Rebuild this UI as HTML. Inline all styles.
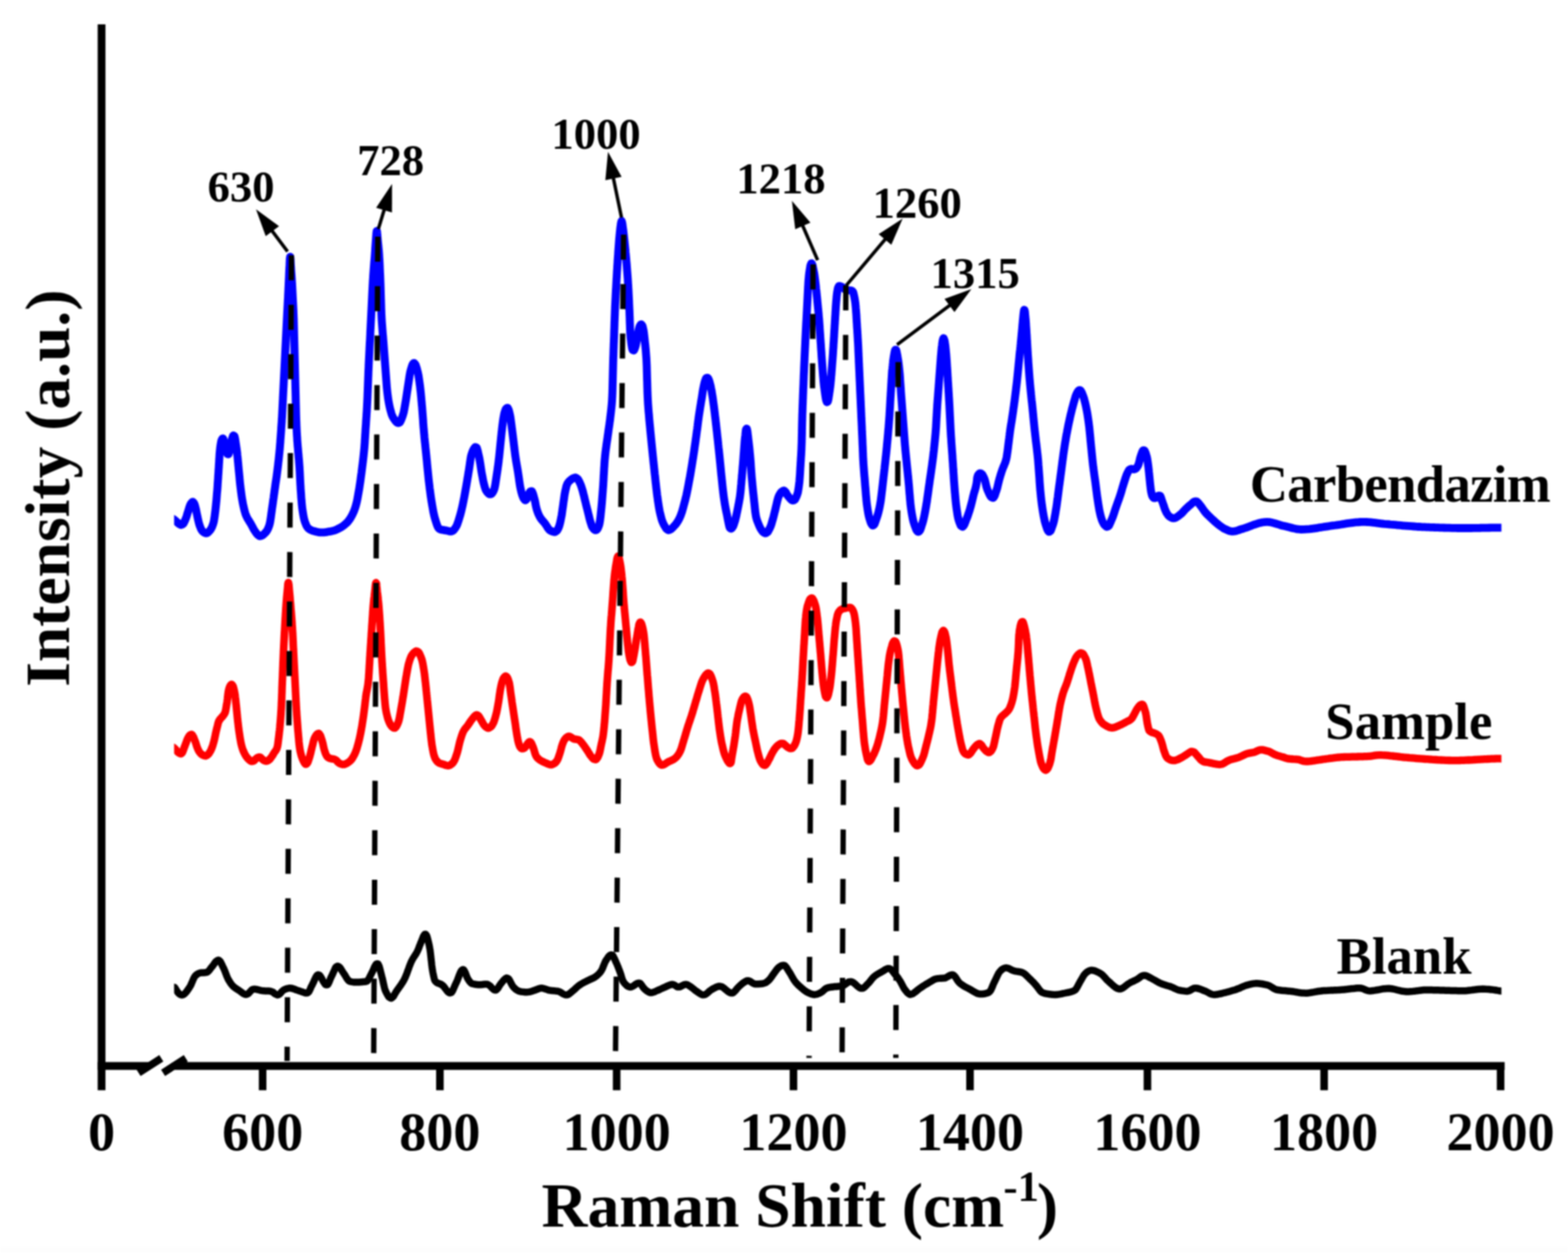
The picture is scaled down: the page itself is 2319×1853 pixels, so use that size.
<!DOCTYPE html>
<html lang="en">
<head>
<meta charset="utf-8">
<title>Raman spectra: Carbendazim, Sample, Blank</title>
<style>
html,body{margin:0;padding:0;background:#fff;}
body{width:2319px;height:1853px;overflow:hidden;}
svg{display:block;filter:blur(0.9px);}
text{font-family:"Liberation Serif","Times New Roman",serif;font-weight:bold;fill:#000;}
.c{fill:none;stroke-linejoin:round;stroke-linecap:butt;}
</style>
</head>
<body>
<svg width="2319" height="1853" viewBox="0 0 2319 1853">
<rect width="2319" height="1853" fill="#fff"/>
<rect x="0" y="1844" width="2319" height="9" fill="#fdfdfd"/>

<clipPath id="plotclip"><rect x="257.5" y="0" width="1963" height="1853"/></clipPath>
<g id="curves" clip-path="url(#plotclip)">
<path class="c" stroke="#0000ff" stroke-width="11.8" d="M243.8 766.7c1.2 0 2.4 0 3.7 0c1.3 0 2.8-0.1 4.1 0c1.3 0 2.7-0.1 3.9 0.3c1.1 0.4 2.1 1.4 3.1 2.3c1 0.8 2 1.8 3 2.7c1 0.9 2 1.9 3 2.6c1.1 0.7 2.4 1.8 3.5 1.8c1 0 2.1-0.9 3-1.8c0.8-0.9 1.3-2.4 1.9-3.6c0.6-1.2 1.2-2.4 1.6-3.7c0.5-1.2 0.9-2.5 1.4-3.7c0.4-1.3 0.7-2.6 1.1-3.9c0.4-1.2 0.8-2.5 1.2-3.8c0.4-1.3 0.8-2.5 1.2-3.8c0.4-1.3 0.7-2.6 1.2-3.8c0.5-1.3 1-2.7 1.7-3.7c0.8-1 1.8-2.4 2.7-2.4c0.8 0 1.6 1.4 2.2 2.5c0.6 1 0.9 2.6 1.3 3.8c0.3 1.3 0.7 2.6 1 3.9c0.3 1.3 0.6 2.6 0.8 3.9c0.3 1.3 0.5 2.6 0.8 3.9c0.3 1.4 0.6 2.7 0.8 4c0.3 1.3 0.6 2.6 0.9 3.9c0.3 1.3 0.6 2.6 0.9 3.9c0.3 1.3 0.7 2.5 1 3.8c0.4 1.3 0.9 2.6 1.4 3.8c0.5 1.2 0.9 2.5 1.6 3.6c0.7 1.2 1.5 2.3 2.5 3.2c1 0.8 2.2 1.9 3.4 2.1c1.1 0.2 2.5-0.2 3.6-0.8c1.1-0.6 2-1.8 2.8-2.8c0.9-1 1.7-2.1 2.3-3.3c0.7-1.1 1.2-2.4 1.7-3.6c0.5-1.3 0.9-2.5 1.3-3.8c0.4-1.3 0.7-2.6 1-3.9c0.2-1.3 0.4-2.6 0.6-3.9c0.3-1.4 0.4-2.7 0.6-4c0.2-1.3 0.3-2.6 0.5-4c0.2-1.3 0.3-2.6 0.5-3.9c0.1-1.4 0.3-2.7 0.4-4c0.2-1.3 0.3-2.7 0.4-4c0.2-1.3 0.3-2.6 0.4-4c0.2-1.3 0.3-2.6 0.4-4c0.1-1.3 0.2-2.6 0.3-3.9c0.1-1.4 0.2-2.7 0.3-4c0.1-1.4 0.2-2.7 0.4-4c0.1-1.3 0.2-2.7 0.3-4c0.1-1.3 0.2-2.7 0.3-4c0-1.3 0.1-2.7 0.2-4c0.1-1.3 0.2-2.6 0.3-4c0.1-1.3 0.2-2.6 0.3-4c0-1.3 0.1-2.6 0.2-4c0.1-1.3 0.2-2.6 0.3-4c0.1-1.3 0.1-2.6 0.2-3.9c0.1-1.4 0.2-2.7 0.3-4c0.1-1.4 0.1-2.7 0.2-4c0.1-1.4 0.2-2.7 0.3-4c0-1.4 0.1-2.7 0.2-4c0.1-1.3 0.2-2.7 0.3-4c0-1.3 0.1-2.7 0.2-4c0.1-1.3 0.3-2.7 0.4-4c0.1-1.3 0.3-2.6 0.4-4c0.2-1.3 0.3-2.6 0.5-3.9c0.2-1.3 0.4-2.7 0.7-4c0.2-1.3 0.5-2.9 1-4c0.4-1 1.2-2.5 1.8-2.4c0.6 0.1 1.2 1.8 1.6 3c0.5 1.2 0.7 2.7 1 4c0.3 1.3 0.6 2.6 0.9 3.9c0.4 1.3 0.8 2.6 1.1 3.8c0.3 1.3 0.6 2.6 0.9 4c0.3 1.3 0.6 3.2 1.1 3.9c0.5 0.8 1.3 1.1 1.8 0.6c0.5-0.6 0.8-2.6 1.2-3.9c0.3-1.3 0.5-2.6 0.7-3.9c0.3-1.4 0.5-2.7 0.8-4c0.3-1.3 0.7-2.6 1-3.9c0.3-1.2 0.6-2.5 0.9-3.8c0.3-1.3 0.5-2.7 0.9-4c0.4-1.3 0.8-3.2 1.3-3.8c0.5-0.5 1.4-0.1 1.9 0.7c0.5 0.8 0.7 2.7 1 4c0.2 1.3 0.4 2.7 0.6 4c0.2 1.3 0.4 2.6 0.6 3.9c0.2 1.3 0.4 2.7 0.6 4c0.2 1.3 0.4 2.6 0.6 3.9c0.1 1.4 0.3 2.7 0.5 4c0.2 1.3 0.3 2.7 0.4 4c0.2 1.3 0.3 2.6 0.4 4c0.2 1.3 0.3 2.6 0.4 3.9c0.1 1.4 0.2 2.7 0.4 4c0.1 1.4 0.2 2.7 0.3 4c0.2 1.3 0.3 2.7 0.4 4c0.1 1.3 0.3 2.7 0.4 4c0.1 1.3 0.3 2.6 0.4 4c0.1 1.3 0.2 2.6 0.4 3.9c0.1 1.4 0.2 2.7 0.3 4c0.2 1.4 0.3 2.7 0.4 4c0.1 1.3 0.3 2.7 0.4 4c0.2 1.3 0.3 2.6 0.5 4c0.1 1.3 0.3 2.6 0.5 3.9c0.1 1.4 0.3 2.7 0.5 4c0.2 1.3 0.3 2.6 0.5 4c0.2 1.3 0.4 2.6 0.6 3.9c0.2 1.3 0.4 2.7 0.7 4c0.2 1.3 0.4 2.6 0.7 3.9c0.2 1.3 0.5 2.6 0.8 3.9c0.3 1.3 0.6 2.6 0.9 3.9c0.3 1.3 0.6 2.6 1 3.9c0.3 1.3 0.7 2.6 1.1 3.8c0.5 1.3 0.9 2.5 1.5 3.8c0.5 1.2 1.1 2.4 1.8 3.5c0.6 1.2 1.4 2.3 2.1 3.4c0.7 1.1 1.5 2.2 2.1 3.4c0.7 1.1 1.3 2.3 2 3.5c0.6 1.2 1.2 2.4 1.8 3.5c0.6 1.2 1.3 2.4 2 3.5c0.7 1.1 1.5 2.2 2.3 3.3c0.8 1.1 1.6 2.2 2.5 3.1c1 0.9 2.1 1.9 3.3 2.1c1.1 0.1 2.5-0.5 3.6-1.1c1.2-0.6 2.1-1.7 3.1-2.7c0.9-0.9 1.9-1.9 2.7-2.9c0.8-1.1 1.5-2.2 2.1-3.4c0.6-1.2 1.1-2.4 1.6-3.7c0.5-1.2 0.9-2.5 1.2-3.8c0.4-1.3 0.6-2.6 0.9-3.9c0.2-1.3 0.4-2.6 0.6-3.9c0.2-1.4 0.4-2.7 0.6-4c0.2-1.3 0.3-2.6 0.5-4c0.2-1.3 0.4-2.6 0.6-3.9c0.1-1.3 0.3-2.7 0.5-4c0.2-1.3 0.4-2.6 0.6-3.9c0.2-1.4 0.4-2.7 0.6-4c0.1-1.3 0.3-2.6 0.5-4c0.2-1.3 0.4-2.6 0.6-3.9c0.1-1.3 0.3-2.7 0.5-4c0.2-1.3 0.4-2.6 0.6-3.9c0.1-1.4 0.3-2.7 0.5-4c0.2-1.3 0.4-2.7 0.6-4c0.1-1.3 0.3-2.6 0.5-3.9c0.2-1.3 0.4-2.7 0.6-4c0.2-1.3 0.4-2.6 0.6-3.9c0.2-1.4 0.4-2.7 0.6-4c0.1-1.3 0.3-2.6 0.5-4c0.2-1.3 0.3-2.6 0.5-3.9c0.2-1.4 0.3-2.7 0.5-4c0.2-1.3 0.3-2.7 0.5-4c0.1-1.3 0.3-2.6 0.4-4c0.2-1.3 0.3-2.6 0.5-3.9c0.1-1.4 0.3-2.7 0.4-4c0.1-1.3 0.3-2.7 0.4-4c0.1-1.3 0.3-2.6 0.4-4c0.1-1.3 0.2-2.6 0.4-3.9c0.1-1.4 0.2-2.7 0.3-4c0.1-1.4 0.2-2.7 0.3-4c0.2-1.3 0.3-2.7 0.3-4c0.1-1.3 0.2-2.7 0.3-4c0.1-1.3 0.2-2.7 0.3-4c0.1-1.3 0.2-2.6 0.3-4c0.1-1.3 0.2-2.6 0.3-4c0.1-1.3 0.1-2.6 0.2-4c0.1-1.3 0.2-2.6 0.3-3.9c0.1-1.4 0.2-2.7 0.3-4c0.1-1.4 0.2-2.7 0.2-4c0.1-1.4 0.2-2.7 0.3-4c0.1-1.4 0.1-2.7 0.2-4c0.1-1.3 0.1-2.7 0.2-4c0.1-1.3 0.1-2.7 0.2-4c0.1-1.3 0.1-2.7 0.2-4c0.1-1.3 0.1-2.7 0.2-4c0.1-1.3 0.1-2.7 0.2-4c0.1-1.3 0.1-2.7 0.2-4c0-1.3 0.1-2.7 0.2-4c0-1.3 0.1-2.6 0.2-4c0-1.3 0.1-2.6 0.2-4c0-1.3 0.1-2.6 0.2-4c0-1.3 0.1-2.6 0.2-4c0-1.3 0.1-2.6 0.2-4c0-1.3 0.1-2.6 0.2-4c0-1.3 0.1-2.6 0.2-3.9c0-1.4 0.1-2.7 0.2-4c0-1.4 0.1-2.7 0.2-4c0-1.4 0.1-2.7 0.2-4c0-1.4 0.1-2.7 0.2-4c0-1.4 0.1-2.7 0.2-4c0-1.4 0.1-2.7 0.2-4c0-1.4 0.1-2.7 0.2-4c0-1.3 0.1-2.7 0.2-4c0-1.3 0.1-2.7 0.2-4c0-1.3 0.1-2.7 0.2-4c0-1.3 0.1-2.7 0.2-4c0-1.3 0.1-2.7 0.2-4c0-1.3 0.1-2.7 0.2-4c0-1.3 0.1-2.6 0.2-4c0-1.3 0.1-2.6 0.2-4c0-1.3 0.1-2.6 0.2-4c0-1.3 0.1-2.6 0.2-4c0-1.3 0.1-2.6 0.2-4c0-1.3 0.1-2.6 0.2-4c0-1.3 0.1-2.6 0.2-4c0-1.3 0.1-2.6 0.2-3.9c0-1.4 0.1-2.7 0.2-4c0-1.4 0.1-2.7 0.2-4c0-1.4 0.1-2.7 0.2-4c0.1-1.4 0.1-2.7 0.2-4c0.1-1.4 0.1-2.7 0.2-4c0.1-1.3 0.2-2.7 0.2-4c0.1-1.3 0.2-2.7 0.2-4c0.1-1.3 0.2-2.7 0.3-4c0-1.3 0.1-2.7 0.1-4c0.1-1.3 0.2-2.7 0.2-4c0.1-1.3 0.2-2.7 0.2-4c0.1-1.3 0.1-2.7 0.2-4c0.1-1.3 0.1-2.6 0.2-4c0-1.3 0.1-2.6 0.2-4c0-1.3 0.1-2.6 0.2-4c0-1.3 0.1-2.6 0.2-4c0-1.3 0.1-2.6 0.1-4c0.1-1.3 0.2-2.6 0.2-4c0.1-1.3 0.2-2.6 0.2-3.9c0.1-1.4 0.2-2.7 0.3-4c0-1.4 0.1-2.7 0.1-4c0.1-1.4 0.2-2.7 0.2-4.1c0.1-1.3 0.1-3.3 0.3-4.1c0.1-0.8 0.3-1.1 0.4-0.6c0.2 0.6 0.3 2.7 0.4 4.1c0 1.3 0.1 2.6 0.2 4c0 1.3 0.1 2.7 0.2 4c0.1 1.3 0.2 2.6 0.3 4c0 1.3 0.1 2.6 0.2 4c0.1 1.3 0.2 2.6 0.3 4c0.1 1.3 0.2 2.6 0.3 3.9c0.1 1.4 0.2 2.7 0.3 4c0.1 1.4 0.1 2.7 0.2 4c0.1 1.4 0.2 2.7 0.2 4c0.1 1.4 0.2 2.7 0.3 4c0 1.3 0.1 2.7 0.2 4c0 1.3 0.1 2.7 0.2 4c0 1.3 0.1 2.7 0.2 4c0 1.3 0.1 2.7 0.2 4c0 1.3 0.1 2.7 0.2 4c0 1.3 0.1 2.7 0.2 4c0.1 1.3 0.1 2.6 0.2 4c0.1 1.3 0.1 2.6 0.2 4c0.1 1.3 0.1 2.6 0.2 4c0 1.3 0.1 2.6 0.1 4c0.1 1.3 0.1 2.6 0.2 4c0 1.3 0.1 2.6 0.1 4c0.1 1.3 0.1 2.6 0.1 4c0.1 1.3 0.1 2.6 0.1 4c0.1 1.3 0.1 2.6 0.1 4c0.1 1.3 0.1 2.6 0.1 4c0.1 1.3 0.1 2.6 0.1 4c0 1.3 0.1 2.6 0.1 4c0 1.3 0.1 2.6 0.1 4c0 1.3 0.1 2.6 0.1 4c0 1.3 0.1 2.6 0.1 3.9c0 1.4 0.1 2.7 0.1 4c0 1.4 0.1 2.7 0.1 4c0 1.4 0.1 2.7 0.1 4c0 1.4 0.1 2.7 0.1 4c0 1.4 0.1 2.7 0.1 4c0 1.4 0.1 2.7 0.1 4c0 1.4 0.1 2.7 0.1 4c0 1.4 0.1 2.7 0.1 4c0 1.4 0.1 2.7 0.1 4c0 1.4 0.1 2.7 0.1 4c0 1.4 0.1 2.7 0.1 4c0 1.4 0.1 2.7 0.1 4c0 1.4 0.1 2.7 0.1 4c0 1.4 0.1 2.7 0.1 4c0 1.4 0.1 2.7 0.1 4c0 1.4 0.1 2.7 0.1 4c0 1.4 0.1 2.7 0.1 4c0 1.4 0.1 2.7 0.1 4c0 1.4 0.1 2.7 0.1 4c0 1.4 0.1 2.7 0.1 4c0 1.4 0 2.7 0.1 4c0 1.4 0 2.7 0.1 4c0 1.4 0 2.7 0.1 4c0 1.4 0 2.7 0.1 4c0 1.4 0 2.7 0.1 4c0 1.4 0 2.7 0.1 4c0 1.4 0 2.7 0.1 4c0 1.3 0.1 2.7 0.1 4c0.1 1.3 0.1 2.7 0.2 4c0 1.3 0.1 2.7 0.1 4c0.1 1.3 0.1 2.7 0.2 4c0 1.3 0.1 2.7 0.2 4c0 1.3 0.1 2.7 0.2 4c0.1 1.3 0.1 2.7 0.2 4c0.1 1.3 0.2 2.6 0.3 4c0 1.3 0.1 2.6 0.2 4c0.1 1.3 0.2 2.6 0.3 4c0.1 1.3 0.2 2.6 0.3 3.9c0.1 1.4 0.3 2.7 0.4 4c0.1 1.4 0.2 2.7 0.3 4c0.1 1.3 0.3 2.7 0.4 4c0.1 1.3 0.2 2.7 0.3 4c0.1 1.3 0.3 2.6 0.4 4c0.1 1.3 0.2 2.6 0.3 4c0.1 1.3 0.2 2.6 0.3 3.9c0.1 1.4 0.2 2.7 0.3 4c0.1 1.4 0.1 2.7 0.2 4c0.1 1.4 0.2 2.7 0.2 4c0.1 1.4 0.2 2.7 0.2 4c0.1 1.4 0.2 2.7 0.2 4c0.1 1.3 0.2 2.7 0.2 4c0.1 1.3 0.2 2.7 0.2 4c0.1 1.3 0.2 2.7 0.3 4c0 1.3 0.1 2.7 0.2 4c0.1 1.3 0.2 2.7 0.3 4c0.1 1.3 0.2 2.6 0.3 4c0.1 1.3 0.1 2.6 0.2 4c0.1 1.3 0.2 2.6 0.4 3.9c0.1 1.4 0.2 2.7 0.3 4c0.1 1.4 0.2 2.7 0.4 4c0.1 1.3 0.3 2.7 0.4 4c0.2 1.3 0.4 2.6 0.6 4c0.2 1.3 0.4 2.6 0.6 3.9c0.2 1.3 0.4 2.6 0.7 3.9c0.2 1.4 0.5 2.7 0.8 4c0.3 1.3 0.7 2.5 1.1 3.8c0.4 1.3 0.9 2.5 1.4 3.8c0.5 1.2 1 2.5 1.7 3.6c0.7 1.1 1.5 2.2 2.4 3.1c1 0.9 2.2 1.6 3.4 2.1c1.2 0.6 2.5 1 3.7 1.4c1.3 0.4 2.6 0.8 3.9 1.1c1.3 0.3 2.6 0.6 3.9 0.8c1.3 0.2 2.7 0.3 4 0.3c1.3 0.1 2.7 0 4-0.1c1.3-0.1 2.7-0.3 4-0.5c1.3-0.2 2.6-0.4 3.9-0.7c1.3-0.2 2.6-0.4 3.9-0.8c1.3-0.3 2.6-0.6 3.9-1c1.2-0.5 2.5-1 3.7-1.6c1.2-0.5 2.4-1.1 3.6-1.8c1.1-0.6 2.3-1.2 3.4-1.9c1.2-0.8 2.3-1.5 3.3-2.3c1-0.9 2.1-1.7 3-2.7c1-0.9 1.9-1.8 2.8-2.8c0.8-1.1 1.6-2.1 2.4-3.2c0.8-1.1 1.5-2.3 2.1-3.4c0.7-1.2 1.3-2.3 1.9-3.5c0.6-1.2 1.2-2.4 1.7-3.6c0.6-1.3 1.1-2.5 1.5-3.8c0.5-1.2 0.9-2.5 1.3-3.8c0.4-1.2 0.8-2.5 1.1-3.8c0.4-1.3 0.7-2.6 1-3.9c0.3-1.3 0.5-2.6 0.8-3.9c0.3-1.3 0.5-2.6 0.7-3.9c0.3-1.3 0.5-2.6 0.7-4c0.3-1.3 0.5-2.6 0.7-3.9c0.2-1.3 0.5-2.6 0.7-3.9c0.2-1.4 0.4-2.7 0.6-4c0.2-1.3 0.4-2.6 0.6-3.9c0.2-1.4 0.4-2.7 0.6-4c0.2-1.3 0.3-2.6 0.5-4c0.2-1.3 0.4-2.6 0.5-3.9c0.2-1.4 0.4-2.7 0.6-4c0.1-1.3 0.3-2.6 0.5-4c0.1-1.3 0.3-2.6 0.5-3.9c0.1-1.4 0.3-2.7 0.5-4c0.1-1.3 0.3-2.7 0.5-4c0.1-1.3 0.3-2.6 0.4-3.9c0.2-1.4 0.3-2.7 0.5-4c0.1-1.3 0.3-2.7 0.4-4c0.1-1.3 0.3-2.7 0.4-4c0.1-1.3 0.3-2.6 0.4-4c0.1-1.3 0.2-2.6 0.3-4c0.1-1.3 0.2-2.6 0.3-3.9c0.1-1.4 0.2-2.7 0.2-4c0.1-1.4 0.2-2.7 0.3-4c0.1-1.4 0.1-2.7 0.2-4c0.1-1.3 0.2-2.7 0.3-4c0.1-1.3 0.1-2.7 0.2-4c0.1-1.3 0.2-2.7 0.3-4c0.1-1.3 0.2-2.7 0.3-4c0.1-1.3 0.1-2.6 0.2-4c0.1-1.3 0.2-2.6 0.3-4c0.1-1.3 0.2-2.6 0.3-4c0-1.3 0.1-2.6 0.2-3.9c0.1-1.4 0.2-2.7 0.3-4c0-1.4 0.1-2.7 0.2-4c0.1-1.4 0.1-2.7 0.2-4c0.1-1.4 0.1-2.7 0.2-4c0.1-1.4 0.1-2.7 0.2-4c0-1.4 0.1-2.7 0.2-4c0-1.3 0.1-2.7 0.1-4c0.1-1.3 0.1-2.7 0.2-4c0-1.3 0.1-2.7 0.1-4c0.1-1.3 0.1-2.7 0.2-4c0-1.3 0.1-2.7 0.1-4c0.1-1.3 0.1-2.7 0.2-4c0-1.3 0.1-2.7 0.1-4c0.1-1.3 0.1-2.7 0.2-4c0-1.3 0.1-2.7 0.1-4c0.1-1.3 0.1-2.7 0.2-4c0-1.3 0.1-2.7 0.2-4c0-1.3 0.1-2.6 0.1-4c0.1-1.3 0.2-2.6 0.2-4c0.1-1.3 0.2-2.6 0.2-4c0.1-1.3 0.2-2.6 0.2-4c0.1-1.3 0.2-2.6 0.2-4c0.1-1.3 0.2-2.6 0.2-4c0.1-1.3 0.2-2.6 0.2-3.9c0.1-1.4 0.2-2.7 0.2-4c0.1-1.4 0.2-2.7 0.2-4c0.1-1.4 0.2-2.7 0.3-4c0-1.4 0.1-2.7 0.2-4c0-1.4 0.1-2.7 0.2-4c0-1.4 0.1-2.7 0.1-4c0.1-1.4 0.2-2.7 0.2-4c0.1-1.3 0.2-2.7 0.2-4c0.1-1.3 0.2-2.7 0.2-4c0.1-1.3 0.2-2.7 0.2-4c0.1-1.3 0.2-2.7 0.2-4c0.1-1.3 0.2-2.7 0.2-4c0.1-1.3 0.2-2.7 0.2-4c0.1-1.3 0.2-2.6 0.2-4c0.1-1.3 0.2-2.6 0.2-4c0.1-1.3 0.2-2.6 0.2-4c0.1-1.3 0.1-2.6 0.2-4c0.1-1.3 0.1-2.6 0.2-4c0.1-1.3 0.1-2.6 0.2-4c0-1.3 0.1-2.6 0.2-4c0-1.3 0.1-2.6 0.2-3.9c0-1.4 0.1-2.7 0.2-4c0-1.4 0.1-2.7 0.2-4c0-1.4 0.1-2.7 0.2-4c0.1-1.4 0.1-2.7 0.2-4c0.1-1.4 0.2-2.7 0.3-4c0.1-1.3 0.1-2.7 0.2-4c0.1-1.3 0.2-2.7 0.3-4c0.1-1.3 0.2-2.7 0.3-4c0.1-1.3 0.2-2.6 0.3-4c0.1-1.3 0.2-2.6 0.3-4c0.1-1.3 0.2-2.6 0.3-4c0.1-1.3 0.3-2.6 0.4-3.9c0.1-1.4 0.2-2.7 0.3-4c0.1-1.4 0.2-2.7 0.3-4c0.1-1.3 0.2-2.7 0.3-4c0.1-1.3 0.1-2.7 0.2-4c0.1-1.3 0.2-2.7 0.3-4c0.1-1.3 0.2-2.6 0.3-4c0.1-1.3 0.2-2.6 0.3-4c0.1-1.3 0.2-2.6 0.3-4c0.1-1.3 0.2-2.6 0.3-4c0.1-1.3 0.1-3.1 0.3-4.1c0.1-1 0.4-2.2 0.6-1.9c0.2 0.3 0.4 2.3 0.5 3.6c0.2 1.2 0.2 2.7 0.3 4c0.1 1.4 0.2 2.7 0.3 4c0.2 1.3 0.3 2.7 0.4 4c0.1 1.3 0.3 2.7 0.4 4c0.1 1.3 0.3 2.6 0.4 4c0.1 1.3 0.2 2.6 0.4 3.9c0.1 1.4 0.2 2.7 0.3 4c0.1 1.4 0.2 2.7 0.3 4c0.1 1.4 0.1 2.7 0.2 4c0.1 1.3 0.2 2.7 0.3 4c0 1.3 0.1 2.7 0.2 4c0 1.3 0.1 2.7 0.2 4c0 1.3 0.1 2.7 0.1 4c0.1 1.3 0.2 2.7 0.2 4c0.1 1.3 0.1 2.7 0.2 4c0.1 1.3 0.1 2.6 0.2 4c0 1.3 0.1 2.6 0.1 4c0.1 1.3 0.1 2.6 0.2 4c0 1.3 0.1 2.6 0.1 4c0.1 1.3 0.1 2.6 0.2 4c0 1.3 0 2.6 0.1 4c0 1.3 0.1 2.6 0.1 4c0 1.3 0.1 2.6 0.1 4c0.1 1.3 0.1 2.6 0.1 4c0.1 1.3 0.1 2.6 0.2 4c0 1.3 0 2.6 0.1 4c0 1.3 0.1 2.6 0.1 4c0 1.3 0.1 2.6 0.1 4c0.1 1.3 0.1 2.6 0.2 4c0 1.3 0.1 2.6 0.1 3.9c0.1 1.4 0.2 2.7 0.2 4c0.1 1.4 0.2 2.7 0.2 4c0.1 1.4 0.2 2.7 0.3 4c0.1 1.4 0.2 2.7 0.3 4c0.1 1.4 0.2 2.7 0.3 4c0.1 1.3 0.2 2.7 0.3 4c0.1 1.3 0.2 2.7 0.3 4c0.1 1.3 0.2 2.6 0.4 4c0.1 1.3 0.2 2.6 0.3 4c0.1 1.3 0.2 2.6 0.3 3.9c0.1 1.4 0.2 2.7 0.3 4c0.1 1.4 0.2 2.7 0.3 4c0.1 1.3 0.2 2.7 0.3 4c0.1 1.3 0.2 2.7 0.3 4c0.1 1.3 0.2 2.7 0.3 4c0.1 1.3 0.2 2.6 0.3 4c0.1 1.3 0.2 2.6 0.3 4c0.1 1.3 0.2 2.6 0.3 4c0.1 1.3 0.2 2.6 0.3 3.9c0.1 1.4 0.2 2.7 0.3 4c0.1 1.4 0.2 2.7 0.3 4c0.1 1.3 0.2 2.7 0.3 4c0.1 1.3 0.2 2.7 0.3 4c0.1 1.3 0.2 2.7 0.3 4c0.1 1.3 0.2 2.6 0.3 4c0.1 1.3 0.2 2.6 0.3 4c0.1 1.3 0.2 2.6 0.3 3.9c0.1 1.4 0.3 2.7 0.4 4c0.1 1.4 0.3 2.7 0.4 4c0.2 1.3 0.3 2.7 0.5 4c0.2 1.3 0.3 2.6 0.5 3.9c0.2 1.4 0.4 2.7 0.6 4c0.2 1.3 0.5 2.6 0.7 3.9c0.3 1.3 0.5 2.7 0.8 4c0.3 1.3 0.6 2.6 0.9 3.9c0.3 1.2 0.7 2.5 1 3.8c0.4 1.3 0.7 2.6 1.1 3.9c0.5 1.2 0.9 2.5 1.5 3.7c0.5 1.2 1.2 2.3 2 3.5c0.7 1.1 1.4 2.3 2.3 3.3c0.8 1 1.9 2.3 2.9 2.7c1.1 0.4 2.5 0.2 3.4-0.4c0.9-0.7 1.4-2.3 2-3.5c0.6-1.2 1-2.5 1.5-3.7c0.4-1.3 0.9-2.5 1.3-3.8c0.4-1.3 0.8-2.5 1.1-3.8c0.3-1.3 0.5-2.6 0.8-4c0.2-1.3 0.5-2.6 0.7-3.9c0.2-1.3 0.5-2.6 0.7-3.9c0.2-1.3 0.4-2.7 0.7-4c0.2-1.3 0.4-2.6 0.6-3.9c0.2-1.3 0.4-2.6 0.6-4c0.2-1.3 0.4-2.6 0.6-3.9c0.2-1.3 0.4-2.7 0.6-4c0.2-1.3 0.4-2.6 0.6-3.9c0.2-1.4 0.4-2.7 0.6-4c0.2-1.3 0.4-2.6 0.6-3.9c0.2-1.4 0.4-2.7 0.6-4c0.2-1.3 0.4-2.6 0.6-4c0.2-1.3 0.4-2.6 0.6-3.9c0.2-1.3 0.5-2.6 0.7-3.9c0.3-1.3 0.7-2.6 1-3.9c0.4-1.3 0.7-2.6 1.2-3.9c0.4-1.2 0.7-2.8 1.3-3.8c0.6-1.1 1.6-2.4 2.3-2.3c0.8 0.1 1.7 1.7 2.3 2.8c0.5 1.1 0.9 2.6 1.3 3.9c0.4 1.3 0.8 2.5 1.1 3.8c0.4 1.3 0.7 2.6 1 3.9c0.3 1.3 0.5 2.6 0.8 3.9c0.2 1.3 0.4 2.6 0.6 4c0.2 1.3 0.4 2.6 0.6 3.9c0.2 1.3 0.4 2.7 0.5 4c0.2 1.3 0.4 2.6 0.6 3.9c0.1 1.4 0.3 2.7 0.4 4c0.2 1.3 0.3 2.7 0.5 4c0.1 1.3 0.3 2.6 0.4 4c0.1 1.3 0.2 2.6 0.4 4c0.1 1.3 0.2 2.6 0.3 3.9c0.1 1.4 0.3 2.7 0.4 4c0.1 1.3 0.2 2.7 0.3 4c0.2 1.3 0.3 2.7 0.4 4c0.1 1.3 0.2 2.6 0.3 4c0.1 1.3 0.2 2.6 0.3 4c0.1 1.3 0.2 2.6 0.3 4c0.1 1.3 0.2 2.6 0.3 3.9c0.1 1.4 0.2 2.7 0.3 4c0 1.4 0.1 2.7 0.2 4c0.1 1.4 0.2 2.7 0.3 4c0.1 1.3 0.2 2.7 0.4 4c0.1 1.3 0.2 2.7 0.3 4c0.1 1.3 0.2 2.6 0.4 4c0.1 1.3 0.2 2.6 0.3 4c0.2 1.3 0.3 2.6 0.4 3.9c0.1 1.4 0.3 2.7 0.4 4c0.2 1.3 0.3 2.7 0.4 4c0.2 1.3 0.3 2.6 0.4 4c0.2 1.3 0.3 2.6 0.5 4c0.1 1.3 0.2 2.6 0.4 3.9c0.1 1.4 0.2 2.7 0.4 4c0.1 1.3 0.2 2.7 0.4 4c0.1 1.3 0.2 2.6 0.4 4c0.1 1.3 0.2 2.6 0.3 4c0.2 1.3 0.3 2.6 0.4 3.9c0.1 1.4 0.3 2.7 0.4 4c0.1 1.3 0.3 2.7 0.4 4c0.1 1.3 0.3 2.7 0.4 4c0.1 1.3 0.3 2.6 0.4 4c0.1 1.3 0.3 2.6 0.4 3.9c0.2 1.4 0.3 2.7 0.5 4c0.1 1.3 0.3 2.7 0.5 4c0.1 1.3 0.3 2.6 0.4 3.9c0.2 1.4 0.4 2.7 0.6 4c0.1 1.3 0.3 2.7 0.5 4c0.2 1.3 0.3 2.6 0.5 3.9c0.2 1.4 0.4 2.7 0.6 4c0.2 1.3 0.4 2.6 0.6 3.9c0.3 1.4 0.5 2.7 0.7 4c0.2 1.3 0.4 2.6 0.7 3.9c0.2 1.4 0.4 2.7 0.7 4c0.2 1.3 0.4 2.6 0.7 3.9c0.3 1.3 0.6 2.6 0.9 3.9c0.3 1.3 0.6 2.6 1 3.9c0.4 1.3 0.7 2.5 1.1 3.8c0.4 1.3 0.8 2.6 1.2 3.8c0.4 1.3 0.8 2.6 1.3 3.8c0.5 1.3 1 2.7 1.8 3.6c0.8 1 1.9 1.8 3 2.3c1.2 0.5 2.7 0.5 4 0.7c1.3 0.3 2.6 0.4 3.9 0.7c1.3 0.2 2.6 0.7 3.9 0.9c1.3 0.3 2.8 0.8 4 0.6c1.2-0.2 2.4-0.8 3.4-1.6c1-0.8 1.8-2 2.5-3.1c0.8-1.1 1.5-2.3 2.1-3.4c0.6-1.2 1.1-2.5 1.5-3.7c0.5-1.3 0.9-2.6 1.3-3.8c0.4-1.3 0.8-2.6 1.2-3.9c0.4-1.2 0.8-2.5 1.2-3.8c0.3-1.3 0.7-2.6 1-3.8c0.4-1.3 0.7-2.6 1-3.9c0.3-1.3 0.6-2.6 0.9-3.9c0.3-1.3 0.6-2.6 0.9-3.9c0.3-1.3 0.5-2.6 0.8-3.9c0.3-1.3 0.6-2.6 0.8-4c0.3-1.3 0.5-2.6 0.8-3.9c0.2-1.3 0.5-2.6 0.7-3.9c0.3-1.3 0.5-2.6 0.7-3.9c0.3-1.4 0.5-2.7 0.7-4c0.3-1.3 0.5-2.6 0.7-3.9c0.3-1.3 0.5-2.6 0.7-4c0.2-1.3 0.5-2.6 0.7-3.9c0.2-1.3 0.4-2.6 0.6-4c0.2-1.3 0.5-2.6 0.7-3.9c0.2-1.3 0.4-2.6 0.6-3.9c0.2-1.4 0.5-2.7 0.7-4c0.2-1.3 0.4-2.6 0.6-3.9c0.2-1.4 0.4-2.7 0.6-4c0.2-1.3 0.4-2.6 0.6-4c0.1-1.3 0.3-2.6 0.5-3.9c0.2-1.3 0.4-2.7 0.7-4c0.2-1.3 0.5-2.6 0.9-3.9c0.4-1.2 0.8-2.5 1.3-3.7c0.5-1.3 0.9-2.6 1.6-3.8c0.6-1.1 1.4-2.8 2.2-3.3c0.8-0.4 2 0 2.7 0.8c0.6 0.7 0.8 2.6 1.2 3.9c0.4 1.3 0.6 2.6 0.9 3.9c0.3 1.3 0.6 2.6 0.9 3.9c0.3 1.3 0.6 2.6 0.8 3.9c0.3 1.3 0.5 2.6 0.7 3.9c0.3 1.3 0.5 2.7 0.7 4c0.2 1.3 0.4 2.6 0.6 3.9c0.2 1.3 0.4 2.7 0.6 4c0.2 1.3 0.4 2.6 0.6 3.9c0.3 1.3 0.5 2.6 0.7 4c0.3 1.3 0.5 2.6 0.8 3.9c0.2 1.3 0.4 2.6 0.7 3.9c0.3 1.3 0.5 2.6 0.8 3.9c0.3 1.3 0.6 2.6 1 3.9c0.3 1.3 0.7 2.6 1.1 3.9c0.4 1.2 0.8 2.5 1.3 3.7c0.6 1.2 1.3 2.4 2.2 3.4c0.8 1 1.9 2.3 3 2.6c1.1 0.3 2.5 0 3.5-0.6c0.9-0.7 1.6-2.2 2.3-3.3c0.6-1.2 1.1-2.4 1.6-3.7c0.4-1.3 0.7-2.6 0.9-3.9c0.3-1.3 0.5-2.6 0.7-3.9c0.2-1.3 0.4-2.7 0.6-4c0.2-1.3 0.4-2.6 0.6-3.9c0.2-1.3 0.4-2.7 0.6-4c0.2-1.3 0.4-2.6 0.6-3.9c0.2-1.4 0.4-2.7 0.6-4c0.2-1.3 0.4-2.6 0.5-4c0.2-1.3 0.4-2.6 0.6-3.9c0.1-1.3 0.3-2.7 0.5-4c0.1-1.3 0.3-2.6 0.4-4c0.2-1.3 0.4-2.6 0.5-3.9c0.2-1.4 0.3-2.7 0.4-4c0.2-1.3 0.3-2.7 0.4-4c0.2-1.3 0.3-2.6 0.4-4c0.2-1.3 0.3-2.6 0.4-4c0.1-1.3 0.3-2.6 0.4-3.9c0.1-1.4 0.3-2.7 0.4-4c0.1-1.3 0.3-2.7 0.4-4c0.1-1.3 0.3-2.6 0.4-4c0.2-1.3 0.3-2.6 0.4-3.9c0.2-1.4 0.3-2.7 0.5-4c0.1-1.4 0.3-2.7 0.4-4c0.2-1.3 0.3-2.6 0.5-4c0.2-1.3 0.4-2.6 0.5-3.9c0.2-1.4 0.4-2.7 0.6-4c0.2-1.3 0.4-2.6 0.7-3.9c0.2-1.4 0.4-2.7 0.7-4c0.3-1.3 0.6-2.6 1.1-3.8c0.4-1.3 0.9-3 1.6-3.8c0.7-0.9 1.8-1.7 2.5-1.3c0.6 0.4 1.1 2.3 1.6 3.5c0.4 1.2 0.7 2.6 1 3.9c0.3 1.3 0.6 2.6 0.9 3.9c0.3 1.3 0.5 2.6 0.7 4c0.2 1.3 0.3 2.6 0.5 3.9c0.2 1.3 0.4 2.7 0.5 4c0.2 1.3 0.4 2.6 0.6 4c0.1 1.3 0.3 2.6 0.5 3.9c0.2 1.3 0.3 2.7 0.5 4c0.2 1.3 0.3 2.6 0.5 4c0.2 1.3 0.3 2.6 0.5 3.9c0.1 1.4 0.3 2.7 0.5 4c0.1 1.3 0.3 2.6 0.5 4c0.1 1.3 0.3 2.6 0.4 3.9c0.2 1.4 0.4 2.7 0.5 4c0.2 1.3 0.3 2.7 0.5 4c0.2 1.3 0.3 2.6 0.5 4c0.2 1.3 0.3 2.6 0.5 3.9c0.2 1.3 0.4 2.7 0.6 4c0.2 1.3 0.4 2.6 0.6 3.9c0.2 1.3 0.5 2.7 0.7 4c0.2 1.3 0.4 2.6 0.7 3.9c0.2 1.3 0.4 2.6 0.7 4c0.2 1.3 0.4 2.6 0.6 3.9c0.2 1.3 0.4 2.6 0.6 4c0.2 1.3 0.4 2.6 0.6 3.9c0.2 1.3 0.4 2.7 0.5 4c0.2 1.3 0.4 2.6 0.6 3.9c0.2 1.4 0.4 2.7 0.6 4c0.2 1.3 0.5 2.6 0.7 3.9c0.3 1.3 0.6 2.6 0.9 3.9c0.3 1.3 0.6 2.6 1 3.9c0.3 1.3 0.7 2.6 1.1 3.8c0.5 1.3 1 2.6 1.6 3.8c0.7 1.1 1.5 2.8 2.3 3c0.8 0.3 1.7-0.7 2.4-1.6c0.6-0.9 1-2.6 1.5-3.8c0.6-1.3 1.1-2.5 1.7-3.7c0.6-1.2 1.1-2.9 1.9-3.6c0.7-0.7 1.9-1 2.6-0.5c0.7 0.6 1.1 2.4 1.6 3.7c0.5 1.2 0.8 2.6 1.2 3.8c0.3 1.3 0.7 2.6 1.1 3.9c0.3 1.3 0.6 2.6 0.9 3.9c0.3 1.3 0.5 2.6 0.7 3.9c0.3 1.3 0.5 2.6 0.8 3.9c0.3 1.3 0.6 2.6 1 3.9c0.4 1.3 0.8 2.5 1.3 3.8c0.4 1.2 0.9 2.5 1.5 3.7c0.5 1.2 1.1 2.4 1.8 3.6c0.6 1.1 1.4 2.2 2.2 3.3c0.8 1 1.8 2 2.6 3c0.9 1 1.8 2 2.6 3.1c0.8 1 1.5 2.2 2.2 3.3c0.8 1.1 1.4 2.3 2.1 3.4c0.8 1.1 1.6 2.2 2.6 3c1 0.8 2.3 1.5 3.5 2c1.2 0.5 2.7 1.1 3.8 1c1.2-0.1 2.4-0.7 3.3-1.6c0.9-0.8 1.5-2.3 2.1-3.4c0.6-1.2 1.1-2.5 1.5-3.7c0.5-1.3 0.8-2.6 1.1-3.9c0.4-1.3 0.6-2.6 0.9-3.9c0.3-1.3 0.6-2.6 0.8-3.9c0.3-1.3 0.5-2.6 0.8-3.9c0.2-1.3 0.4-2.7 0.6-4c0.2-1.3 0.4-2.6 0.5-3.9c0.2-1.4 0.4-2.7 0.6-4c0.2-1.3 0.4-2.6 0.6-4c0.1-1.3 0.3-2.6 0.5-3.9c0.2-1.3 0.4-2.7 0.6-4c0.2-1.3 0.3-2.6 0.5-3.9c0.2-1.4 0.4-2.7 0.6-4c0.3-1.3 0.5-2.6 0.8-3.9c0.2-1.3 0.5-2.6 0.9-3.9c0.3-1.3 0.5-2.6 0.9-3.9c0.4-1.3 0.8-2.6 1.4-3.8c0.6-1.1 1.4-2.2 2.3-3.2c0.9-1 1.9-1.8 3-2.6c1.1-0.8 2.2-1.7 3.4-2.2c1.2-0.6 2.6-1.2 3.7-1c1.1 0.2 2.1 1.3 3 2.2c0.8 1 1.4 2.3 2.1 3.5c0.6 1.2 1.2 2.3 1.7 3.6c0.6 1.2 1 2.5 1.4 3.7c0.4 1.3 0.8 2.6 1.2 3.8c0.4 1.3 0.8 2.6 1.1 3.9c0.4 1.3 0.7 2.6 1 3.9c0.4 1.2 0.7 2.5 1 3.8c0.3 1.3 0.6 2.6 0.9 3.9c0.3 1.3 0.6 2.6 1 3.9c0.3 1.3 0.6 2.6 0.9 3.9c0.4 1.3 0.7 2.6 1 3.9c0.3 1.3 0.7 2.6 1 3.9c0.3 1.3 0.6 2.5 0.9 3.8c0.3 1.3 0.6 2.6 1 3.9c0.3 1.3 0.6 2.6 0.9 3.9c0.3 1.3 0.7 2.6 1 3.9c0.4 1.3 0.8 2.5 1.2 3.8c0.4 1.3 0.7 2.6 1.2 3.8c0.5 1.3 1 2.5 1.8 3.6c0.7 1.1 1.8 2.5 2.8 2.9c1 0.4 2.3 0.2 3.2-0.5c0.9-0.6 1.4-2.3 2-3.5c0.6-1.2 1-2.5 1.4-3.8c0.3-1.2 0.6-2.5 0.8-3.9c0.3-1.3 0.4-2.6 0.6-3.9c0.2-1.3 0.3-2.7 0.5-4c0.1-1.3 0.3-2.6 0.4-4c0.1-1.3 0.3-2.6 0.4-3.9c0.2-1.4 0.3-2.7 0.4-4c0.2-1.3 0.3-2.7 0.4-4c0.1-1.3 0.3-2.7 0.4-4c0.1-1.3 0.2-2.6 0.3-4c0.1-1.3 0.2-2.6 0.3-4c0.1-1.3 0.2-2.6 0.3-3.9c0.1-1.4 0.2-2.7 0.3-4c0.1-1.4 0.2-2.7 0.3-4c0.1-1.4 0.2-2.7 0.3-4c0.1-1.3 0.2-2.7 0.3-4c0-1.3 0.1-2.7 0.2-4c0.1-1.3 0.2-2.7 0.2-4c0.1-1.3 0.2-2.7 0.2-4c0.1-1.3 0.2-2.6 0.3-4c0-1.3 0.1-2.6 0.2-4c0.1-1.3 0.1-2.6 0.2-4c0.1-1.3 0.2-2.6 0.3-4c0.1-1.3 0.1-2.6 0.2-4c0.1-1.3 0.2-2.6 0.3-3.9c0.1-1.4 0.3-2.7 0.4-4c0.1-1.4 0.2-2.7 0.4-4c0.1-1.3 0.3-2.7 0.4-4c0.2-1.3 0.4-2.6 0.5-3.9c0.2-1.4 0.4-2.7 0.6-4c0.1-1.3 0.3-2.7 0.5-4c0.2-1.3 0.4-2.6 0.6-3.9c0.2-1.3 0.4-2.7 0.6-4c0.2-1.3 0.4-2.6 0.5-3.9c0.2-1.4 0.4-2.7 0.6-4c0.2-1.3 0.4-2.7 0.5-4c0.2-1.3 0.4-2.6 0.6-3.9c0.2-1.4 0.4-2.7 0.6-4c0.2-1.3 0.4-2.6 0.5-4c0.2-1.3 0.4-2.6 0.6-3.9c0.1-1.3 0.3-2.7 0.4-4c0.2-1.3 0.4-2.6 0.5-4c0.2-1.3 0.3-2.6 0.5-3.9c0.1-1.4 0.3-2.7 0.4-4c0.2-1.3 0.3-2.7 0.4-4c0.2-1.3 0.3-2.6 0.4-4c0.1-1.3 0.2-2.6 0.3-4c0.1-1.3 0.1-2.6 0.2-4c0.1-1.3 0.2-2.6 0.2-3.9c0.1-1.4 0.1-2.7 0.2-4c0-1.4 0.1-2.7 0.1-4c0-1.4 0.1-2.7 0.1-4c0-1.4 0.1-2.7 0.1-4c0-1.4 0.1-2.7 0.1-4c0-1.4 0.1-2.7 0.1-4c0-1.4 0.1-2.7 0.1-4c0-1.4 0.1-2.7 0.1-4c0-1.4 0.1-2.7 0.1-4c0-1.4 0.1-2.7 0.1-4c0-1.4 0.1-2.7 0.1-4c0-1.4 0.1-2.7 0.1-4c0-1.4 0.1-2.7 0.1-4c0.1-1.4 0.1-2.7 0.1-4c0.1-1.4 0.1-2.7 0.2-4c0-1.4 0.1-2.7 0.1-4c0.1-1.4 0.1-2.7 0.1-4c0.1-1.4 0.1-2.7 0.2-4c0-1.4 0.1-2.7 0.1-4c0.1-1.3 0.1-2.7 0.2-4c0-1.3 0.1-2.7 0.1-4c0.1-1.3 0.1-2.7 0.2-4c0-1.3 0.1-2.7 0.1-4c0-1.3 0.1-2.7 0.1-4c0.1-1.3 0.1-2.7 0.2-4c0-1.3 0.1-2.7 0.1-4c0.1-1.3 0.1-2.7 0.1-4c0.1-1.3 0.1-2.7 0.2-4c0-1.3 0.1-2.7 0.1-4c0.1-1.3 0.1-2.7 0.2-4c0-1.3 0.1-2.7 0.1-4c0.1-1.3 0.1-2.7 0.2-4c0-1.3 0.1-2.6 0.1-4c0.1-1.3 0.2-2.6 0.2-4c0.1-1.3 0.2-2.6 0.2-4c0.1-1.3 0.2-2.6 0.2-4c0.1-1.3 0.2-2.6 0.2-4c0.1-1.3 0.2-2.6 0.2-4c0.1-1.3 0.2-2.6 0.2-3.9c0.1-1.4 0.2-2.7 0.3-4c0-1.4 0.1-2.7 0.2-4c0.1-1.4 0.1-2.7 0.2-4c0.1-1.4 0.2-2.7 0.2-4c0.1-1.4 0.2-2.7 0.3-4c0-1.3 0.1-2.7 0.2-4c0.1-1.3 0.1-2.7 0.2-4c0.1-1.3 0.2-2.7 0.3-4c0.1-1.3 0.1-2.7 0.2-4c0.1-1.3 0.2-2.7 0.3-4c0.1-1.3 0.1-2.6 0.2-4c0.1-1.3 0.2-2.6 0.3-4c0.1-1.3 0.2-2.6 0.3-4c0.1-1.3 0.2-2.6 0.2-3.9c0.1-1.4 0.2-2.7 0.3-4c0.1-1.4 0.2-2.7 0.3-4c0.1-1.4 0.2-2.7 0.3-4c0.1-1.3 0.2-2.7 0.3-4c0.1-1.3 0.2-2.7 0.3-4c0.1-1.3 0.3-2.6 0.4-4c0.1-1.3 0.2-2.6 0.4-4c0.1-1.3 0.2-2.6 0.4-3.9c0.1-1.4 0.3-2.7 0.4-4c0.2-1.3 0.4-2.6 0.6-4c0.1-1.3 0.2-2.9 0.5-4.1c0.2-1.1 0.6-2.8 0.9-2.8c0.2 0 0.6 1.7 0.8 2.9c0.3 1.1 0.4 2.7 0.6 4c0.1 1.4 0.3 2.7 0.5 4c0.2 1.3 0.4 2.7 0.5 4c0.2 1.3 0.4 2.6 0.5 4c0.2 1.3 0.3 2.6 0.5 3.9c0.1 1.3 0.3 2.7 0.4 4c0.2 1.3 0.3 2.7 0.5 4c0.1 1.3 0.2 2.6 0.4 4c0.1 1.3 0.2 2.6 0.4 3.9c0.1 1.4 0.2 2.7 0.4 4c0.1 1.3 0.2 2.7 0.3 4c0.2 1.3 0.3 2.7 0.4 4c0.1 1.3 0.2 2.6 0.4 4c0.1 1.3 0.2 2.6 0.3 3.9c0.1 1.4 0.2 2.7 0.4 4c0.1 1.4 0.2 2.7 0.3 4c0.1 1.3 0.2 2.7 0.3 4c0.1 1.3 0.2 2.7 0.3 4c0.1 1.3 0.2 2.7 0.3 4c0.1 1.3 0.2 2.6 0.3 4c0.1 1.3 0.2 2.6 0.3 4c0.1 1.3 0.2 2.6 0.2 4c0.1 1.3 0.2 2.6 0.3 3.9c0.1 1.4 0.2 2.7 0.2 4c0.1 1.4 0.2 2.7 0.3 4c0 1.4 0.1 2.7 0.2 4c0 1.4 0.1 2.7 0.2 4c0 1.4 0.1 2.7 0.2 4c0 1.4 0.1 2.7 0.2 4c0 1.3 0.1 2.7 0.1 4c0.1 1.3 0.2 2.7 0.2 4c0.1 1.3 0.1 2.7 0.2 4c0.1 1.3 0.1 2.7 0.2 4c0 1.3 0.1 2.7 0.1 4c0.1 1.3 0.1 2.7 0.2 4c0 1.3 0.1 2.7 0.1 4c0 1.3 0.1 2.7 0.1 4c0.1 1.3 0.1 2.7 0.2 4c0 1.3 0.1 2.7 0.1 4c0.1 1.3 0.1 2.6 0.2 4c0 1.3 0.1 2.6 0.2 4c0.1 1.3 0.2 2.6 0.3 4c0.1 1.3 0.3 2.6 0.4 3.9c0.2 1.4 0.3 2.7 0.5 4c0.1 1.3 0.3 2.7 0.5 4c0.2 1.3 0.4 2.6 0.6 3.9c0.3 1.4 0.4 3.2 0.9 4.1c0.5 0.8 1.4 1.5 2.1 1.1c0.6-0.4 1.2-2.3 1.6-3.6c0.5-1.2 0.8-2.6 1.2-3.8c0.3-1.3 0.5-2.7 0.8-4c0.2-1.3 0.5-2.6 0.7-3.9c0.2-1.3 0.5-2.6 0.7-3.9c0.3-1.3 0.5-2.7 0.7-4c0.3-1.3 0.5-2.6 0.7-3.9c0.3-1.3 0.5-2.6 0.8-3.9c0.3-1.3 0.6-2.7 1.1-3.9c0.5-1.2 1.2-3.1 1.9-3.4c0.7-0.3 1.6 0.7 2.2 1.6c0.5 0.9 0.8 2.6 1.1 4c0.4 1.3 0.6 2.6 0.9 3.9c0.2 1.3 0.3 2.6 0.5 3.9c0.2 1.4 0.3 2.7 0.5 4c0.1 1.3 0.3 2.7 0.4 4c0.2 1.3 0.3 2.6 0.4 4c0.2 1.3 0.3 2.6 0.5 3.9c0.1 1.4 0.3 2.7 0.4 4c0.1 1.4 0.3 2.7 0.4 4c0.1 1.3 0.2 2.7 0.3 4c0.1 1.3 0.2 2.7 0.3 4c0.1 1.3 0.2 2.6 0.3 4c0.1 1.3 0.2 2.6 0.2 4c0.1 1.3 0.2 2.6 0.2 4c0.1 1.3 0.1 2.6 0.2 4c0 1.3 0.1 2.6 0.1 4c0 1.3 0.1 2.6 0.1 4c0.1 1.3 0.1 2.6 0.1 4c0.1 1.3 0.1 2.6 0.1 4c0.1 1.3 0.1 2.6 0.1 3.9c0.1 1.4 0.1 2.7 0.2 4c0 1.4 0 2.7 0.1 4c0 1.4 0 2.7 0.1 4c0 1.4 0.1 2.7 0.1 4c0 1.4 0.1 2.7 0.1 4c0.1 1.4 0.1 2.7 0.2 4c0 1.4 0.1 2.7 0.2 4c0 1.4 0.1 2.7 0.2 4c0.1 1.4 0.1 2.7 0.2 4c0.1 1.4 0.2 2.7 0.3 4c0.1 1.3 0.2 2.7 0.3 4c0.1 1.3 0.2 2.7 0.3 4c0.1 1.3 0.3 2.6 0.4 4c0.1 1.3 0.2 2.6 0.3 4c0.1 1.3 0.2 2.6 0.3 3.9c0.2 1.4 0.3 2.7 0.4 4c0.1 1.4 0.2 2.7 0.4 4c0.1 1.3 0.2 2.7 0.4 4c0.1 1.3 0.2 2.6 0.3 4c0.2 1.3 0.3 2.6 0.4 4c0.2 1.3 0.3 2.6 0.4 3.9c0.1 1.4 0.3 2.7 0.4 4c0.1 1.3 0.3 2.7 0.4 4c0.1 1.3 0.3 2.7 0.4 4c0.1 1.3 0.3 2.6 0.4 4c0.1 1.3 0.3 2.6 0.4 3.9c0.1 1.4 0.3 2.7 0.4 4c0.1 1.3 0.3 2.7 0.4 4c0.1 1.3 0.3 2.6 0.4 4c0.2 1.3 0.3 2.6 0.4 4c0.2 1.3 0.3 2.6 0.4 3.9c0.2 1.4 0.3 2.7 0.5 4c0.1 1.3 0.2 2.7 0.4 4c0.1 1.3 0.3 2.6 0.4 4c0.1 1.3 0.3 2.6 0.4 3.9c0.2 1.4 0.3 2.7 0.5 4c0.1 1.3 0.3 2.7 0.4 4c0.1 1.3 0.3 2.6 0.4 4c0.2 1.3 0.3 2.6 0.5 3.9c0.1 1.4 0.2 2.7 0.4 4c0.1 1.4 0.3 2.7 0.5 4c0.1 1.3 0.3 2.6 0.4 4c0.2 1.3 0.4 2.6 0.5 3.9c0.2 1.4 0.4 2.7 0.6 4c0.2 1.3 0.3 2.6 0.5 4c0.2 1.3 0.4 2.6 0.6 3.9c0.2 1.3 0.4 2.7 0.6 4c0.2 1.3 0.4 2.6 0.7 3.9c0.2 1.3 0.5 2.6 0.7 3.9c0.3 1.3 0.6 2.6 0.9 3.9c0.3 1.3 0.6 2.6 1 3.9c0.3 1.3 0.6 2.6 1 3.9c0.4 1.3 0.8 2.6 1.3 3.8c0.5 1.2 1 2.4 1.6 3.6c0.6 1.2 1.3 2.4 2 3.5c0.7 1.2 1.3 2.5 2.2 3.4c0.9 0.9 2.1 1.9 3.2 2c1.2 0 2.5-0.7 3.6-1.4c1.1-0.7 2-1.9 2.9-2.8c1-1 1.9-1.9 2.8-2.9c0.9-1 1.7-2.1 2.5-3.2c0.8-1 1.5-2.2 2.2-3.3c0.7-1.1 1.3-2.3 1.9-3.5c0.6-1.2 1.1-2.4 1.6-3.6c0.6-1.3 1-2.5 1.4-3.8c0.5-1.3 0.9-2.5 1.3-3.8c0.3-1.3 0.7-2.6 1.1-3.8c0.3-1.3 0.7-2.6 1-3.9c0.4-1.3 0.7-2.6 1.1-3.9c0.3-1.3 0.6-2.6 1-3.8c0.3-1.3 0.6-2.6 0.9-3.9c0.3-1.3 0.7-2.6 1-3.9c0.2-1.3 0.5-2.6 0.8-3.9c0.3-1.3 0.5-2.6 0.8-3.9c0.3-1.3 0.5-2.7 0.8-4c0.2-1.3 0.5-2.6 0.7-3.9c0.3-1.3 0.5-2.6 0.7-3.9c0.3-1.3 0.5-2.7 0.8-4c0.2-1.3 0.4-2.6 0.7-3.9c0.2-1.3 0.5-2.6 0.7-3.9c0.2-1.4 0.4-2.7 0.7-4c0.2-1.3 0.4-2.6 0.6-3.9c0.2-1.3 0.5-2.7 0.7-4c0.2-1.3 0.4-2.6 0.6-3.9c0.2-1.3 0.4-2.7 0.6-4c0.2-1.3 0.4-2.6 0.7-3.9c0.2-1.3 0.4-2.7 0.6-4c0.2-1.3 0.4-2.6 0.6-3.9c0.2-1.4 0.4-2.7 0.6-4c0.2-1.3 0.3-2.6 0.5-3.9c0.2-1.4 0.4-2.7 0.6-4c0.2-1.3 0.4-2.6 0.6-4c0.2-1.3 0.3-2.6 0.5-3.9c0.2-1.3 0.4-2.7 0.6-4c0.2-1.3 0.3-2.6 0.5-4c0.2-1.3 0.4-2.6 0.5-3.9c0.2-1.3 0.4-2.7 0.6-4c0.1-1.3 0.3-2.6 0.5-4c0.1-1.3 0.3-2.6 0.5-3.9c0.1-1.3 0.3-2.7 0.5-4c0.2-1.3 0.4-2.6 0.5-3.9c0.2-1.4 0.4-2.7 0.6-4c0.2-1.3 0.4-2.6 0.6-4c0.2-1.3 0.4-2.6 0.6-3.9c0.2-1.3 0.4-2.7 0.6-4c0.2-1.3 0.5-2.6 0.7-3.9c0.2-1.3 0.4-2.6 0.6-4c0.2-1.3 0.4-2.6 0.7-3.9c0.2-1.3 0.4-2.6 0.6-4c0.2-1.3 0.4-2.6 0.6-3.9c0.2-1.3 0.4-2.7 0.6-4c0.2-1.3 0.5-2.6 0.7-3.9c0.3-1.3 0.5-2.6 0.8-3.9c0.3-1.3 0.6-2.6 0.9-3.9c0.3-1.3 0.6-2.6 1.1-3.9c0.5-1.3 1-3.1 1.7-3.7c0.7-0.6 1.8-0.6 2.5 0.1c0.7 0.6 1.2 2.4 1.7 3.7c0.4 1.2 0.8 2.5 1.1 3.8c0.4 1.3 0.7 2.6 1 3.9c0.3 1.3 0.6 2.6 0.8 3.9c0.3 1.3 0.5 2.6 0.8 3.9c0.2 1.4 0.4 2.7 0.6 4c0.2 1.3 0.5 2.6 0.7 3.9c0.2 1.4 0.4 2.7 0.6 4c0.1 1.3 0.3 2.6 0.5 4c0.2 1.3 0.4 2.6 0.5 3.9c0.2 1.3 0.4 2.7 0.6 4c0.1 1.3 0.3 2.6 0.5 4c0.1 1.3 0.3 2.6 0.5 3.9c0.1 1.3 0.3 2.7 0.4 4c0.2 1.3 0.4 2.6 0.5 4c0.2 1.3 0.3 2.6 0.5 3.9c0.1 1.4 0.3 2.7 0.4 4c0.2 1.3 0.3 2.7 0.5 4c0.1 1.3 0.3 2.6 0.4 4c0.2 1.3 0.3 2.6 0.5 3.9c0.1 1.4 0.3 2.7 0.4 4c0.1 1.3 0.3 2.7 0.4 4c0.2 1.3 0.3 2.6 0.5 4c0.1 1.3 0.3 2.6 0.4 3.9c0.1 1.4 0.3 2.7 0.4 4c0.2 1.3 0.3 2.7 0.4 4c0.2 1.3 0.3 2.7 0.5 4c0.1 1.3 0.2 2.6 0.4 4c0.1 1.3 0.3 2.6 0.4 3.9c0.1 1.4 0.3 2.7 0.4 4c0.1 1.3 0.3 2.7 0.4 4c0.1 1.3 0.3 2.6 0.4 4c0.1 1.3 0.2 2.6 0.4 4c0.1 1.3 0.2 2.6 0.4 3.9c0.1 1.4 0.2 2.7 0.3 4c0.2 1.3 0.3 2.7 0.4 4c0.2 1.3 0.3 2.7 0.5 4c0.1 1.3 0.2 2.6 0.4 4c0.1 1.3 0.3 2.6 0.4 3.9c0.1 1.4 0.3 2.7 0.4 4c0.1 1.3 0.3 2.7 0.4 4c0.2 1.3 0.3 2.6 0.5 4c0.1 1.3 0.3 2.6 0.4 3.9c0.2 1.4 0.4 2.7 0.5 4c0.2 1.3 0.4 2.6 0.6 4c0.2 1.3 0.4 2.6 0.6 3.9c0.2 1.3 0.4 2.7 0.6 4c0.2 1.3 0.5 2.6 0.7 3.9c0.2 1.3 0.5 2.6 0.7 3.9c0.3 1.4 0.6 2.7 0.8 4c0.3 1.3 0.6 2.6 0.9 3.9c0.2 1.3 0.5 2.6 0.7 3.9c0.3 1.3 0.5 2.6 0.8 3.9c0.2 1.3 0.5 2.6 0.8 4c0.2 1.3 0.5 2.6 0.8 3.9c0.4 1.3 0.6 3.1 1.2 3.9c0.7 0.8 1.8 1.3 2.6 0.9c0.8-0.4 1.7-2.1 2.3-3.2c0.6-1.2 1-2.6 1.4-3.8c0.4-1.3 0.8-2.6 1.2-3.8c0.4-1.3 0.7-2.6 1-3.9c0.3-1.3 0.7-2.6 1-3.9c0.3-1.3 0.5-2.6 0.8-3.9c0.3-1.3 0.6-2.6 0.8-3.9c0.3-1.3 0.6-2.6 0.8-3.9c0.3-1.3 0.5-2.7 0.8-4c0.2-1.3 0.5-2.6 0.7-3.9c0.3-1.3 0.5-2.6 0.7-3.9c0.3-1.3 0.5-2.7 0.7-4c0.2-1.3 0.4-2.6 0.5-3.9c0.2-1.4 0.3-2.7 0.5-4c0.1-1.3 0.2-2.7 0.4-4c0.1-1.3 0.2-2.7 0.3-4c0.1-1.3 0.2-2.6 0.4-4c0.1-1.3 0.2-2.6 0.3-4c0.1-1.3 0.2-2.6 0.4-3.9c0.1-1.4 0.2-2.7 0.3-4c0.1-1.3 0.2-2.7 0.4-4c0.1-1.3 0.2-2.7 0.3-4c0.1-1.3 0.2-2.6 0.3-4c0.1-1.3 0.2-2.6 0.4-4c0.1-1.3 0.2-2.6 0.3-4c0.1-1.3 0.2-2.6 0.3-3.9c0.1-1.4 0.2-2.7 0.3-4c0.1-1.4 0.2-2.7 0.3-4c0.1-1.3 0.2-2.7 0.3-4c0.1-1.3 0.2-2.7 0.3-4c0.1-1.3 0.2-2.7 0.3-4c0.1-1.3 0.2-2.6 0.3-4c0.1-1.3 0.2-2.6 0.3-4c0.2-1.3 0.3-2.6 0.4-3.9c0.2-1.4 0.3-2.7 0.5-4c0.1-1.3 0.2-2.6 0.4-4c0.2-1.4 0.3-3.1 0.5-4.1c0.3-1 0.9-2.1 1.2-1.8c0.3 0.3 0.7 2.3 0.9 3.6c0.2 1.3 0.3 2.7 0.5 4c0.1 1.4 0.3 2.7 0.5 4c0.1 1.3 0.3 2.7 0.4 4c0.2 1.3 0.4 2.6 0.5 4c0.2 1.3 0.3 2.6 0.5 3.9c0.1 1.4 0.3 2.7 0.4 4c0.2 1.3 0.3 2.7 0.4 4c0.2 1.3 0.3 2.6 0.4 4c0.1 1.3 0.3 2.6 0.4 3.9c0.1 1.4 0.2 2.7 0.3 4c0.1 1.4 0.3 2.7 0.4 4c0.1 1.4 0.2 2.7 0.3 4c0.1 1.3 0.1 2.7 0.2 4c0.1 1.3 0.2 2.7 0.3 4c0.1 1.3 0.2 2.6 0.3 4c0.1 1.3 0.2 2.6 0.3 4c0.1 1.3 0.2 2.6 0.3 4c0.1 1.3 0.3 2.6 0.4 3.9c0.1 1.4 0.2 2.7 0.4 4c0.1 1.4 0.2 2.7 0.3 4c0.2 1.3 0.3 2.7 0.4 4c0.2 1.3 0.3 2.6 0.4 4c0.2 1.3 0.3 2.6 0.4 3.9c0.2 1.4 0.3 2.7 0.5 4c0.1 1.3 0.3 2.7 0.4 4c0.2 1.3 0.3 2.6 0.4 4c0.2 1.3 0.3 2.6 0.5 4c0.1 1.3 0.2 2.6 0.4 3.9c0.1 1.4 0.2 2.7 0.4 4c0.1 1.3 0.3 2.7 0.4 4c0.2 1.3 0.4 2.6 0.6 3.9c0.2 1.4 0.4 2.7 0.7 4c0.3 1.3 0.7 2.5 1.1 3.8c0.4 1.3 0.9 2.5 1.4 3.8c0.4 1.2 0.9 2.5 1.5 3.7c0.5 1.2 1 2.4 1.6 3.6c0.6 1.2 1.3 2.4 2 3.5c0.7 1.1 1.5 2.3 2.4 3.2c1 0.9 2.3 1.9 3.4 2.1c1.1 0.1 2.4-0.6 3.3-1.4c0.9-0.8 1.5-2.3 2.1-3.5c0.7-1.1 1.3-2.3 1.8-3.6c0.6-1.2 1.1-2.4 1.5-3.7c0.5-1.2 0.8-2.5 1.2-3.8c0.4-1.3 0.7-2.5 1.1-3.8c0.4-1.3 0.7-2.6 1.1-3.9c0.3-1.3 0.7-2.6 1-3.9c0.3-1.2 0.6-2.5 0.9-3.8c0.4-1.3 0.7-2.6 1-3.9c0.3-1.3 0.6-2.6 0.9-3.9c0.3-1.3 0.6-2.6 0.9-3.9c0.3-1.3 0.6-2.6 0.9-3.9c0.3-1.3 0.6-2.6 1-3.9c0.4-1.3 0.8-2.5 1.3-3.8c0.5-1.2 1.2-2.4 1.9-3.5c0.7-1.1 1.5-2.4 2.5-3.2c0.9-0.9 2.1-2 3.1-1.9c1 0.1 1.9 1.5 2.7 2.5c0.8 1 1.2 2.4 1.9 3.5c0.7 1.2 1.6 2.2 2.4 3.2c0.8 1.1 1.7 2.1 2.7 3.1c0.9 0.9 2 2.2 3.1 2.4c1.1 0.3 2.4-0.1 3.3-0.8c0.9-0.7 1.5-2.3 2-3.5c0.6-1.2 1.1-2.4 1.5-3.7c0.5-1.3 0.8-2.5 1.2-3.8c0.3-1.3 0.5-2.7 0.7-4c0.2-1.3 0.4-2.6 0.6-3.9c0.2-1.3 0.3-2.7 0.5-4c0.2-1.3 0.3-2.6 0.5-4c0.1-1.3 0.2-2.6 0.3-4c0.1-1.3 0.2-2.6 0.3-3.9c0.1-1.4 0.2-2.7 0.3-4c0.1-1.4 0.1-2.7 0.2-4c0.1-1.4 0.2-2.7 0.2-4c0.1-1.3 0.2-2.7 0.3-4c0.1-1.3 0.1-2.7 0.2-4c0.1-1.3 0.2-2.7 0.3-4c0-1.3 0.1-2.7 0.2-4c0.1-1.3 0.2-2.7 0.3-4c0-1.3 0.1-2.6 0.2-4c0-1.3 0.1-2.6 0.2-4c0-1.3 0.1-2.6 0.1-4c0.1-1.3 0.1-2.6 0.2-4c0-1.3 0.1-2.6 0.1-4c0-1.3 0.1-2.6 0.1-4c0-1.3 0-2.6 0.1-4c0-1.3 0-2.6 0.1-4c0-1.3 0-2.6 0-4c0.1-1.3 0.1-2.6 0.1-4c0-1.3 0.1-2.6 0.1-4c0-1.3 0.1-2.6 0.1-4c0-1.3 0.1-2.6 0.1-4c0-1.3 0.1-2.6 0.1-4c0-1.3 0.1-2.6 0.1-4c0.1-1.3 0.1-2.6 0.2-4c0-1.3 0-2.6 0.1-3.9c0-1.4 0.1-2.7 0.1-4c0.1-1.4 0.1-2.7 0.2-4c0-1.4 0.1-2.7 0.1-4c0.1-1.4 0.1-2.7 0.2-4c0-1.4 0.1-2.7 0.1-4c0.1-1.4 0.1-2.7 0.2-4c0-1.4 0.1-2.7 0.1-4c0.1-1.4 0.1-2.7 0.2-4c0-1.4 0.1-2.7 0.2-4c0-1.4 0.1-2.7 0.1-4c0.1-1.4 0.1-2.7 0.2-4c0-1.3 0.1-2.7 0.1-4c0.1-1.3 0.1-2.7 0.2-4c0.1-1.3 0.1-2.7 0.2-4c0-1.3 0.1-2.7 0.1-4c0.1-1.3 0.1-2.7 0.2-4c0.1-1.3 0.1-2.7 0.2-4c0-1.3 0.1-2.7 0.2-4c0-1.3 0.1-2.7 0.1-4c0.1-1.3 0.2-2.7 0.2-4c0.1-1.3 0.1-2.6 0.2-4c0.1-1.3 0.1-2.6 0.2-4c0-1.3 0.1-2.6 0.2-4c0-1.3 0.1-2.6 0.2-4c0-1.3 0.1-2.6 0.1-4c0.1-1.3 0.2-2.6 0.2-4c0.1-1.3 0.2-2.6 0.2-4c0.1-1.3 0.2-2.6 0.2-3.9c0.1-1.4 0.2-2.7 0.2-4c0.1-1.4 0.2-2.7 0.2-4c0.1-1.4 0.2-2.7 0.2-4c0.1-1.4 0.2-2.7 0.2-4c0.1-1.4 0.2-2.7 0.3-4c0-1.4 0.1-2.7 0.2-4c0-1.3 0.1-2.7 0.2-4c0-1.3 0.1-2.7 0.2-4c0.1-1.3 0.1-2.7 0.2-4c0.1-1.3 0.1-2.7 0.2-4c0.1-1.3 0.2-2.7 0.2-4c0.1-1.3 0.2-2.6 0.2-4c0.1-1.3 0.2-2.6 0.2-4c0.1-1.3 0.2-2.6 0.2-4c0.1-1.3 0.2-2.6 0.2-4c0.1-1.3 0.2-2.6 0.2-4c0.1-1.3 0.2-2.6 0.2-4c0.1-1.3 0.2-2.6 0.3-4c0-1.3 0.1-2.6 0.2-3.9c0.1-1.4 0.2-2.7 0.3-4c0.2-1.4 0.3-2.7 0.4-4c0.1-1.3 0.3-2.7 0.4-4c0.2-1.3 0.4-2.6 0.6-4c0.2-1.3 0.4-2.6 0.6-3.9c0.3-1.3 0.4-2.8 0.7-4c0.4-1.2 0.8-3.1 1.3-3.3c0.5-0.2 1.2 1.1 1.6 2.1c0.4 1.1 0.6 2.7 0.9 4.1c0.3 1.3 0.6 2.6 0.8 3.9c0.3 1.3 0.5 2.6 0.8 3.9c0.2 1.3 0.4 2.7 0.6 4c0.2 1.3 0.4 2.6 0.5 3.9c0.2 1.4 0.4 2.7 0.6 4c0.1 1.3 0.3 2.7 0.5 4c0.1 1.3 0.3 2.6 0.4 4c0.2 1.3 0.3 2.6 0.4 3.9c0.2 1.4 0.3 2.7 0.5 4c0.1 1.3 0.2 2.7 0.4 4c0.1 1.3 0.2 2.6 0.4 4c0.1 1.3 0.2 2.6 0.4 3.9c0.1 1.4 0.2 2.7 0.3 4c0.2 1.4 0.3 2.7 0.4 4c0.2 1.3 0.3 2.7 0.4 4c0.2 1.3 0.3 2.6 0.4 4c0.1 1.3 0.3 2.6 0.4 4c0.1 1.3 0.2 2.6 0.3 3.9c0.1 1.4 0.2 2.7 0.4 4c0.1 1.4 0.2 2.7 0.3 4c0.1 1.3 0.2 2.7 0.3 4c0.1 1.3 0.2 2.7 0.3 4c0 1.3 0.1 2.7 0.2 4c0.1 1.3 0.2 2.6 0.3 4c0.1 1.3 0.2 2.6 0.3 4c0.1 1.3 0.1 2.6 0.2 4c0.1 1.3 0.2 2.6 0.3 3.9c0.1 1.4 0.2 2.7 0.3 4c0.1 1.4 0.2 2.7 0.3 4c0 1.4 0.1 2.7 0.2 4c0.1 1.4 0.2 2.7 0.3 4c0.1 1.3 0.2 2.7 0.3 4c0 1.3 0.1 2.7 0.2 4c0.1 1.3 0.2 2.7 0.3 4c0.1 1.3 0.2 2.6 0.3 4c0.1 1.3 0.2 2.6 0.3 4c0.1 1.3 0.2 2.6 0.3 4c0.1 1.3 0.2 2.6 0.3 3.9c0.1 1.4 0.2 2.7 0.3 4c0.1 1.4 0.2 2.7 0.3 4c0.1 1.3 0.3 2.7 0.4 4c0.1 1.3 0.2 2.7 0.3 4c0.1 1.3 0.3 2.6 0.4 4c0.1 1.3 0.3 2.6 0.4 3.9c0.2 1.4 0.4 2.7 0.6 4c0.1 1.3 0.3 2.7 0.5 4c0.2 1.3 0.4 2.6 0.5 3.9c0.2 1.4 0.4 2.7 0.6 4c0.2 1.3 0.4 2.7 0.7 4c0.3 1.3 0.6 3.3 1.1 3.8c0.5 0.4 1.3-0.1 1.7-1c0.5-0.8 0.7-2.7 0.9-4c0.3-1.4 0.4-2.7 0.6-4c0.3-1.3 0.4-2.6 0.6-4c0.2-1.3 0.4-2.6 0.6-3.9c0.2-1.3 0.3-2.7 0.5-4c0.2-1.3 0.4-2.6 0.5-4c0.2-1.3 0.3-2.6 0.4-3.9c0.1-1.4 0.3-2.7 0.4-4c0.1-1.3 0.2-2.7 0.3-4c0.1-1.3 0.3-2.7 0.4-4c0.1-1.3 0.2-2.6 0.3-4c0.1-1.3 0.2-2.6 0.3-4c0.1-1.3 0.2-2.6 0.3-3.9c0.1-1.4 0.2-2.7 0.3-4c0.1-1.4 0.2-2.7 0.3-4c0.1-1.4 0.2-2.7 0.3-4c0.1-1.3 0.2-2.7 0.3-4c0.1-1.3 0.2-2.7 0.3-4c0-1.3 0.1-2.7 0.2-4c0.1-1.3 0.2-2.6 0.3-4c0.1-1.3 0.2-2.6 0.2-4c0.1-1.3 0.2-2.6 0.3-4c0.1-1.3 0.2-2.6 0.2-4c0.1-1.3 0.2-2.6 0.3-3.9c0.1-1.4 0.1-2.7 0.2-4c0.1-1.4 0.2-2.7 0.2-4c0.1-1.4 0.2-2.7 0.3-4c0.1-1.4 0.1-2.7 0.2-4c0.1-1.4 0.2-2.7 0.3-4c0-1.3 0.1-2.7 0.2-4c0.1-1.3 0.2-2.7 0.2-4c0.1-1.3 0.2-2.7 0.3-4c0.1-1.3 0.2-2.7 0.2-4c0.1-1.3 0.2-2.6 0.3-4c0.1-1.3 0.1-2.6 0.2-4c0.1-1.3 0.2-2.6 0.3-4c0.1-1.3 0.2-2.6 0.3-3.9c0.1-1.4 0.2-2.7 0.4-4c0.1-1.4 0.2-2.7 0.3-4c0.2-1.3 0.3-2.7 0.5-4c0.1-1.3 0.4-2.6 0.6-3.9c0.2-1.4 0.4-2.8 0.8-4c0.5-1.2 0.9-2.8 1.8-3.2c0.8-0.3 2.3 0.4 3.4 1c1.1 0.6 2.2 1.6 3.3 2.4c1 0.8 2 1.9 3.2 2.4c1.1 0.5 2.5 0.5 3.8 0.7c1.4 0.1 2.9-0.2 4.1 0.2c1.1 0.4 2.1 1.1 2.7 2.1c0.7 1 0.8 2.6 1.1 3.9c0.3 1.3 0.6 2.6 0.9 3.9c0.2 1.3 0.5 2.6 0.7 4c0.2 1.3 0.4 2.6 0.6 3.9c0.2 1.3 0.3 2.7 0.4 4c0.2 1.3 0.3 2.6 0.4 4c0.2 1.3 0.2 2.6 0.3 4c0.1 1.3 0.2 2.6 0.3 3.9c0.1 1.4 0.2 2.7 0.3 4c0 1.4 0.1 2.7 0.2 4c0.1 1.4 0.2 2.7 0.2 4c0.1 1.4 0.2 2.7 0.3 4c0.1 1.3 0.1 2.7 0.2 4c0.1 1.3 0.2 2.7 0.3 4c0.1 1.3 0.2 2.7 0.2 4c0.1 1.3 0.2 2.7 0.3 4c0.1 1.3 0.1 2.6 0.2 4c0.1 1.3 0.2 2.6 0.2 4c0.1 1.3 0.2 2.6 0.3 4c0 1.3 0.1 2.6 0.2 4c0 1.3 0.1 2.6 0.2 4c0 1.3 0.1 2.6 0.1 4c0.1 1.3 0.2 2.6 0.2 3.9c0.1 1.4 0.1 2.7 0.2 4c0.1 1.4 0.1 2.7 0.2 4c0 1.4 0.1 2.7 0.1 4c0.1 1.4 0.2 2.7 0.2 4c0.1 1.4 0.1 2.7 0.2 4c0.1 1.4 0.1 2.7 0.2 4c0 1.4 0.1 2.7 0.2 4c0 1.4 0.1 2.7 0.1 4c0.1 1.4 0.2 2.7 0.2 4c0.1 1.3 0.1 2.7 0.2 4c0.1 1.3 0.1 2.7 0.2 4c0 1.3 0.1 2.7 0.2 4c0 1.3 0.1 2.7 0.1 4c0.1 1.3 0.2 2.7 0.2 4c0.1 1.3 0.1 2.7 0.2 4c0.1 1.3 0.1 2.7 0.2 4c0 1.3 0.1 2.6 0.2 4c0 1.3 0.1 2.6 0.1 4c0.1 1.3 0.2 2.6 0.2 4c0.1 1.3 0.1 2.6 0.2 4c0.1 1.3 0.1 2.6 0.2 4c0 1.3 0.1 2.6 0.2 4c0 1.3 0.1 2.6 0.1 4c0.1 1.3 0.2 2.6 0.2 4c0.1 1.3 0.1 2.6 0.2 3.9c0.1 1.4 0.1 2.7 0.2 4c0 1.4 0.1 2.7 0.2 4c0 1.4 0.1 2.7 0.1 4c0.1 1.4 0.2 2.7 0.2 4c0.1 1.4 0.1 2.7 0.2 4c0.1 1.4 0.1 2.7 0.2 4c0 1.4 0.1 2.7 0.2 4c0 1.4 0.1 2.7 0.1 4c0.1 1.3 0.1 2.7 0.2 4c0.1 1.3 0.1 2.7 0.2 4c0 1.3 0.1 2.7 0.1 4c0.1 1.3 0.1 2.7 0.2 4c0 1.3 0.1 2.7 0.1 4c0.1 1.3 0.2 2.7 0.2 4c0.1 1.3 0.2 2.7 0.3 4c0 1.3 0.1 2.7 0.2 4c0.1 1.3 0.2 2.6 0.3 4c0.1 1.3 0.2 2.6 0.3 4c0.1 1.3 0.2 2.6 0.3 3.9c0.1 1.4 0.2 2.7 0.3 4c0.1 1.4 0.3 2.7 0.4 4c0.1 1.3 0.2 2.7 0.3 4c0.1 1.3 0.2 2.7 0.3 4c0.1 1.3 0.2 2.7 0.3 4c0.2 1.3 0.3 2.6 0.4 4c0.1 1.3 0.2 2.6 0.3 4c0.1 1.3 0.2 2.6 0.3 3.9c0.1 1.4 0.2 2.7 0.4 4c0.1 1.4 0.2 2.7 0.3 4c0.1 1.3 0.3 2.7 0.4 4c0.2 1.3 0.3 2.6 0.5 4c0.2 1.3 0.4 2.6 0.6 3.9c0.2 1.3 0.3 2.7 0.6 4c0.2 1.3 0.4 2.6 0.6 3.9c0.3 1.3 0.5 2.6 0.8 3.9c0.3 1.3 0.6 2.6 1 3.9c0.4 1.3 0.8 2.6 1.2 3.8c0.4 1.3 0.8 2.7 1.4 3.9c0.6 1.1 1.4 2.7 2.2 2.9c0.8 0.2 1.9-0.9 2.6-1.8c0.7-1 1.1-2.6 1.5-3.8c0.5-1.3 0.9-2.6 1.3-3.8c0.5-1.3 0.9-2.6 1.3-3.8c0.4-1.3 0.8-2.6 1.2-3.9c0.4-1.2 0.7-2.5 1-3.8c0.3-1.3 0.6-2.6 0.9-3.9c0.3-1.3 0.6-2.6 0.8-3.9c0.3-1.3 0.5-2.7 0.7-4c0.3-1.3 0.5-2.6 0.7-3.9c0.2-1.3 0.3-2.7 0.5-4c0.2-1.3 0.3-2.6 0.5-3.9c0.2-1.4 0.3-2.7 0.5-4c0.1-1.3 0.3-2.7 0.5-4c0.1-1.3 0.3-2.6 0.4-4c0.2-1.3 0.3-2.6 0.5-3.9c0.1-1.4 0.3-2.7 0.4-4c0.2-1.3 0.3-2.7 0.5-4c0.1-1.3 0.3-2.6 0.4-4c0.2-1.3 0.3-2.6 0.5-3.9c0.1-1.4 0.3-2.7 0.4-4c0.2-1.3 0.3-2.7 0.5-4c0.1-1.3 0.3-2.6 0.4-4c0.2-1.3 0.3-2.6 0.5-3.9c0.1-1.4 0.3-2.7 0.4-4c0.2-1.3 0.3-2.7 0.4-4c0.2-1.3 0.3-2.6 0.5-4c0.1-1.3 0.2-2.6 0.4-3.9c0.1-1.4 0.2-2.7 0.4-4c0.1-1.4 0.2-2.7 0.4-4c0.1-1.3 0.2-2.7 0.3-4c0.2-1.3 0.3-2.6 0.4-4c0.1-1.3 0.3-2.6 0.4-4c0.1-1.3 0.2-2.6 0.3-3.9c0.2-1.4 0.3-2.7 0.4-4c0.1-1.4 0.2-2.7 0.3-4c0.1-1.3 0.2-2.7 0.4-4c0.1-1.3 0.2-2.7 0.3-4c0.1-1.3 0.2-2.6 0.3-4c0.1-1.3 0.2-2.6 0.3-4c0.1-1.3 0.2-2.6 0.3-3.9c0.1-1.4 0.2-2.7 0.3-4c0-1.4 0.1-2.7 0.2-4c0.1-1.4 0.2-2.7 0.2-4c0.1-1.4 0.2-2.7 0.3-4c0-1.4 0.1-2.7 0.2-4c0.1-1.3 0.1-2.7 0.2-4c0.1-1.3 0.2-2.7 0.2-4c0.1-1.3 0.2-2.7 0.3-4c0.1-1.3 0.1-2.7 0.2-4c0.1-1.3 0.2-2.6 0.3-4c0-1.3 0.1-2.6 0.2-4c0.1-1.3 0.2-2.6 0.2-4c0.1-1.3 0.2-2.6 0.3-4c0-1.3 0.1-2.6 0.2-3.9c0.1-1.4 0.2-2.7 0.3-4c0.1-1.4 0.1-2.7 0.2-4c0.1-1.4 0.2-2.7 0.3-4c0.1-1.4 0.2-2.7 0.4-4c0.1-1.3 0.2-2.7 0.4-4c0.1-1.3 0.2-2.6 0.4-4c0.1-1.3 0.3-2.6 0.4-3.9c0.2-1.4 0.4-2.7 0.6-4c0.2-1.3 0.4-2.6 0.6-3.9c0.3-1.4 0.4-2.7 0.7-4c0.3-1.3 0.5-3.4 1-4c0.4-0.6 1.1-0.3 1.6 0.4c0.4 0.7 0.6 2.7 0.9 4c0.3 1.4 0.5 2.7 0.7 4c0.3 1.3 0.5 2.6 0.7 3.9c0.3 1.3 0.5 2.6 0.7 4c0.2 1.3 0.3 2.6 0.5 3.9c0.2 1.3 0.3 2.7 0.5 4c0.1 1.3 0.3 2.6 0.4 4c0.2 1.3 0.3 2.6 0.4 4c0.1 1.3 0.3 2.6 0.4 3.9c0.1 1.4 0.2 2.7 0.3 4c0.1 1.4 0.2 2.7 0.2 4c0.1 1.3 0.2 2.7 0.3 4c0.1 1.3 0.2 2.7 0.3 4c0.1 1.3 0.2 2.7 0.3 4c0.1 1.3 0.2 2.6 0.2 4c0.1 1.3 0.2 2.6 0.3 4c0.1 1.3 0.2 2.6 0.3 4c0.1 1.3 0.2 2.6 0.3 3.9c0.1 1.4 0.2 2.7 0.3 4c0.1 1.4 0.2 2.7 0.3 4c0.1 1.4 0.2 2.7 0.3 4c0.1 1.3 0.2 2.7 0.3 4c0.1 1.3 0.2 2.7 0.3 4c0.1 1.3 0.2 2.7 0.3 4c0.1 1.3 0.2 2.6 0.3 4c0.1 1.3 0.2 2.6 0.3 4c0.1 1.3 0.2 2.6 0.3 3.9c0.1 1.4 0.2 2.7 0.3 4c0.1 1.4 0.2 2.7 0.3 4c0.1 1.4 0.2 2.7 0.3 4c0.1 1.3 0.2 2.7 0.3 4c0.1 1.3 0.2 2.7 0.3 4c0.1 1.3 0.2 2.7 0.3 4c0.1 1.3 0.2 2.6 0.3 4c0.1 1.3 0.2 2.6 0.3 4c0.1 1.3 0.3 2.6 0.4 3.9c0.1 1.4 0.2 2.7 0.3 4c0.2 1.4 0.3 2.7 0.4 4c0.1 1.3 0.3 2.7 0.4 4c0.1 1.3 0.2 2.6 0.4 4c0.1 1.3 0.2 2.6 0.4 3.9c0.1 1.4 0.3 2.7 0.4 4c0.1 1.4 0.3 2.7 0.4 4c0.1 1.3 0.3 2.7 0.4 4c0.2 1.3 0.3 2.6 0.4 4c0.2 1.3 0.3 2.6 0.4 3.9c0.2 1.4 0.3 2.7 0.4 4c0.2 1.4 0.3 2.7 0.4 4c0.2 1.3 0.3 2.7 0.4 4c0.1 1.3 0.2 2.6 0.4 4c0.1 1.3 0.2 2.6 0.3 4c0.1 1.3 0.2 2.6 0.3 3.9c0.1 1.4 0.2 2.7 0.3 4c0.1 1.4 0.3 2.7 0.4 4c0.1 1.3 0.2 2.7 0.3 4c0.1 1.3 0.2 2.7 0.4 4c0.1 1.3 0.2 2.6 0.3 4c0.2 1.3 0.3 2.6 0.5 3.9c0.2 1.4 0.3 2.7 0.5 4c0.2 1.3 0.4 2.6 0.6 4c0.2 1.3 0.4 2.6 0.7 3.9c0.2 1.3 0.4 2.6 0.7 3.9c0.2 1.4 0.5 2.7 0.8 4c0.3 1.3 0.6 2.6 1 3.8c0.3 1.3 0.8 2.6 1.2 3.8c0.4 1.3 0.9 2.6 1.4 3.8c0.5 1.3 0.9 2.7 1.5 3.8c0.7 1 1.7 2.5 2.6 2.6c0.8 0.1 1.9-1.1 2.6-2.1c0.7-1 1-2.5 1.5-3.8c0.4-1.3 0.8-2.5 1.2-3.8c0.4-1.3 0.9-2.6 1.2-3.8c0.4-1.3 0.8-2.6 1.1-3.9c0.4-1.3 0.7-2.6 0.9-3.9c0.3-1.3 0.6-2.6 0.8-3.9c0.3-1.3 0.5-2.6 0.8-3.9c0.2-1.3 0.5-2.6 0.7-4c0.2-1.3 0.5-2.6 0.7-3.9c0.2-1.3 0.4-2.6 0.6-3.9c0.3-1.4 0.5-2.7 0.7-4c0.2-1.3 0.4-2.6 0.5-4c0.2-1.3 0.4-2.6 0.6-3.9c0.2-1.3 0.4-2.7 0.6-4c0.1-1.3 0.3-2.6 0.5-3.9c0.2-1.4 0.4-2.7 0.5-4c0.2-1.3 0.4-2.6 0.6-4c0.2-1.3 0.4-2.6 0.6-3.9c0.1-1.3 0.3-2.7 0.5-4c0.2-1.3 0.4-2.6 0.6-3.9c0.2-1.4 0.4-2.7 0.6-4c0.2-1.3 0.4-2.6 0.6-4c0.2-1.3 0.3-2.6 0.5-3.9c0.2-1.3 0.4-2.7 0.6-4c0.2-1.3 0.4-2.6 0.5-3.9c0.2-1.4 0.4-2.7 0.6-4c0.1-1.3 0.3-2.6 0.5-4c0.1-1.3 0.3-2.6 0.5-3.9c0.1-1.4 0.3-2.7 0.4-4c0.2-1.3 0.3-2.7 0.5-4c0.1-1.3 0.3-2.6 0.4-4c0.2-1.3 0.3-2.6 0.4-3.9c0.2-1.4 0.3-2.7 0.4-4c0.2-1.3 0.3-2.7 0.4-4c0.2-1.3 0.3-2.7 0.4-4c0.1-1.3 0.2-2.6 0.4-4c0.1-1.3 0.2-2.6 0.3-4c0.1-1.3 0.2-2.6 0.3-3.9c0.1-1.4 0.2-2.7 0.3-4c0-1.4 0.1-2.7 0.2-4c0.1-1.4 0.1-2.7 0.2-4c0.1-1.4 0.2-2.7 0.2-4c0.1-1.3 0.2-2.7 0.3-4c0-1.3 0.1-2.7 0.2-4c0.1-1.3 0.1-2.7 0.2-4c0.1-1.3 0.2-2.7 0.3-4c0-1.3 0.1-2.6 0.2-4c0.1-1.3 0.2-2.6 0.3-4c0.1-1.3 0.2-2.6 0.3-4c0.1-1.3 0.2-2.6 0.3-3.9c0.1-1.4 0.2-2.7 0.3-4c0.1-1.4 0.2-2.7 0.3-4c0.1-1.4 0.2-2.7 0.3-4c0.1-1.3 0.2-2.7 0.3-4c0.1-1.3 0.2-2.7 0.3-4c0.1-1.3 0.2-2.6 0.3-4c0.1-1.3 0.2-2.6 0.3-4c0.1-1.3 0.2-2.6 0.3-4c0.1-1.3 0.2-2.6 0.3-3.9c0.1-1.4 0.2-2.7 0.3-4c0.1-1.4 0.2-2.7 0.3-4c0.1-1.4 0.2-2.7 0.3-4c0.1-1.3 0.2-2.7 0.3-4c0.1-1.3 0.2-2.7 0.3-4c0.1-1.3 0.2-2.6 0.3-4c0.1-1.3 0.3-2.6 0.4-4c0.1-1.3 0.2-2.6 0.3-3.9c0.2-1.4 0.3-2.7 0.4-4c0.1-1.4 0.3-2.7 0.5-4c0.1-1.3 0.3-2.6 0.5-4c0.2-1.3 0.4-2.9 0.7-4c0.3-1.2 0.8-2.7 1.2-2.6c0.4 0 0.9 1.8 1.2 3c0.3 1.2 0.5 2.7 0.7 4.1c0.2 1.3 0.4 2.6 0.6 3.9c0.2 1.3 0.3 2.7 0.4 4c0.2 1.3 0.3 2.7 0.4 4c0.1 1.3 0.2 2.6 0.4 4c0.1 1.3 0.2 2.6 0.3 4c0.1 1.3 0.2 2.6 0.3 3.9c0.1 1.4 0.2 2.7 0.3 4c0.1 1.4 0.2 2.7 0.2 4c0.1 1.4 0.2 2.7 0.3 4c0.1 1.3 0.2 2.7 0.3 4c0 1.3 0.1 2.7 0.2 4c0.1 1.3 0.2 2.7 0.2 4c0.1 1.3 0.2 2.7 0.3 4c0.1 1.3 0.1 2.6 0.2 4c0.1 1.3 0.2 2.6 0.3 4c0.1 1.3 0.1 2.6 0.2 4c0.1 1.3 0.2 2.6 0.3 4c0.1 1.3 0.1 2.6 0.2 3.9c0.1 1.4 0.2 2.7 0.3 4c0 1.4 0.1 2.7 0.2 4c0.1 1.4 0.2 2.7 0.2 4c0.1 1.4 0.2 2.7 0.3 4c0 1.4 0.1 2.7 0.2 4c0.1 1.3 0.1 2.7 0.2 4c0.1 1.3 0.1 2.7 0.2 4c0.1 1.3 0.1 2.7 0.2 4c0.1 1.3 0.1 2.7 0.2 4c0.1 1.3 0.1 2.7 0.2 4c0.1 1.3 0.1 2.7 0.2 4c0 1.3 0.1 2.6 0.2 4c0 1.3 0.1 2.6 0.2 4c0 1.3 0.1 2.6 0.2 4c0.1 1.3 0.1 2.6 0.2 4c0.1 1.3 0.2 2.6 0.2 4c0.1 1.3 0.2 2.6 0.3 3.9c0.1 1.4 0.2 2.7 0.3 4c0 1.4 0.1 2.7 0.2 4c0.1 1.4 0.2 2.7 0.3 4c0.1 1.4 0.2 2.7 0.3 4c0.1 1.3 0.2 2.7 0.3 4c0.1 1.3 0.2 2.7 0.3 4c0.1 1.3 0.2 2.6 0.3 4c0 1.3 0.1 2.6 0.2 4c0.1 1.3 0.2 2.6 0.3 4c0.1 1.3 0.2 2.6 0.3 4c0 1.3 0.1 2.6 0.2 3.9c0.1 1.4 0.2 2.7 0.3 4c0.1 1.4 0.1 2.7 0.2 4c0.1 1.4 0.2 2.7 0.3 4c0.1 1.3 0.2 2.7 0.2 4c0.1 1.3 0.2 2.7 0.3 4c0.1 1.3 0.2 2.7 0.3 4c0.1 1.3 0.2 2.7 0.3 4c0.1 1.3 0.2 2.6 0.3 4c0.1 1.3 0.2 2.6 0.3 4c0.1 1.3 0.2 2.6 0.4 3.9c0.1 1.4 0.2 2.7 0.3 4c0.1 1.4 0.2 2.7 0.4 4c0.1 1.3 0.2 2.7 0.4 4c0.1 1.3 0.3 2.6 0.4 4c0.2 1.3 0.4 2.6 0.5 3.9c0.2 1.4 0.4 2.7 0.6 4c0.2 1.3 0.4 2.6 0.6 4c0.2 1.3 0.4 2.6 0.6 3.9c0.3 1.3 0.5 2.6 0.8 3.9c0.3 1.3 0.7 2.6 1.1 3.9c0.5 1.2 0.9 2.5 1.4 3.7c0.5 1.3 0.9 3 1.7 3.7c0.8 0.8 2 1.5 2.8 1.1c0.9-0.4 1.6-2.1 2.2-3.2c0.6-1.2 1-2.6 1.5-3.8c0.5-1.3 0.9-2.5 1.4-3.8c0.5-1.2 1-2.4 1.5-3.7c0.5-1.2 0.9-2.5 1.3-3.7c0.5-1.3 0.9-2.6 1.3-3.8c0.4-1.3 0.8-2.6 1.2-3.9c0.3-1.2 0.7-2.5 1.1-3.8c0.3-1.3 0.7-2.6 1-3.9c0.3-1.3 0.7-2.6 1-3.8c0.3-1.3 0.6-2.6 0.9-3.9c0.3-1.3 0.6-2.6 0.9-3.9c0.4-1.3 0.7-2.6 1-3.9c0.4-1.3 0.8-2.6 1.2-3.8c0.4-1.3 0.8-2.6 1.1-3.9c0.4-1.3 0.7-2.6 0.9-3.9c0.3-1.3 0.6-2.6 0.8-3.9c0.2-1.3 0.3-2.6 0.5-4c0.1-1.3 0.1-2.6 0.4-3.9c0.3-1.3 0.6-2.8 1.3-3.8c0.7-1.1 1.8-2.5 2.8-2.6c0.9-0.2 2.2 0.7 3.1 1.6c0.8 0.8 1.4 2.3 2 3.5c0.6 1.2 1.1 2.4 1.6 3.7c0.4 1.2 0.8 2.5 1.1 3.8c0.3 1.3 0.6 2.6 0.9 3.9c0.3 1.3 0.6 2.6 0.9 3.9c0.4 1.3 0.8 2.5 1.3 3.8c0.4 1.2 1 2.4 1.6 3.7c0.5 1.2 1 2.4 1.6 3.6c0.7 1.2 1.3 2.7 2.1 3.5c0.9 0.8 2.2 1.7 3 1.4c0.9-0.3 1.7-1.9 2.3-3c0.6-1.2 0.9-2.6 1.4-3.8c0.4-1.3 0.9-2.6 1.3-3.8c0.4-1.3 0.8-2.6 1.2-3.8c0.3-1.3 0.6-2.6 0.9-3.9c0.4-1.3 0.6-2.6 0.9-3.9c0.3-1.3 0.6-2.6 1-3.9c0.3-1.3 0.7-2.6 1.1-3.9c0.3-1.2 0.7-2.5 1.1-3.8c0.4-1.3 0.8-2.5 1.2-3.8c0.4-1.3 0.8-2.6 1.3-3.8c0.4-1.3 0.9-2.5 1.4-3.7c0.5-1.3 1.1-2.5 1.6-3.7c0.5-1.2 1-2.5 1.5-3.7c0.4-1.3 0.8-2.6 1.1-3.9c0.4-1.2 0.6-2.6 0.9-3.9c0.2-1.3 0.4-2.6 0.6-3.9c0.2-1.3 0.4-2.6 0.6-4c0.2-1.3 0.4-2.6 0.5-3.9c0.2-1.4 0.4-2.7 0.5-4c0.2-1.3 0.3-2.7 0.5-4c0.2-1.3 0.3-2.6 0.5-3.9c0.1-1.4 0.3-2.7 0.5-4c0.1-1.3 0.3-2.7 0.5-4c0.1-1.3 0.3-2.6 0.5-4c0.2-1.3 0.4-2.6 0.5-3.9c0.2-1.3 0.4-2.7 0.6-4c0.2-1.3 0.4-2.6 0.6-3.9c0.2-1.3 0.4-2.7 0.7-4c0.2-1.3 0.4-2.6 0.6-3.9c0.2-1.3 0.4-2.7 0.6-4c0.2-1.3 0.4-2.6 0.6-3.9c0.2-1.4 0.4-2.7 0.6-4c0.2-1.3 0.4-2.6 0.5-4c0.2-1.3 0.4-2.6 0.6-3.9c0.2-1.3 0.3-2.7 0.5-4c0.2-1.3 0.4-2.6 0.6-3.9c0.1-1.4 0.3-2.7 0.5-4c0.1-1.3 0.3-2.7 0.5-4c0.1-1.3 0.3-2.6 0.5-3.9c0.1-1.4 0.3-2.7 0.5-4c0.1-1.3 0.3-2.7 0.4-4c0.2-1.3 0.4-2.6 0.5-4c0.2-1.3 0.3-2.6 0.5-3.9c0.1-1.4 0.3-2.7 0.4-4c0.1-1.3 0.3-2.7 0.4-4c0.2-1.3 0.3-2.6 0.4-4c0.2-1.3 0.3-2.6 0.4-3.9c0.1-1.4 0.3-2.7 0.4-4c0.1-1.4 0.3-2.7 0.4-4c0.1-1.3 0.2-2.7 0.4-4c0.1-1.3 0.2-2.6 0.4-4c0.1-1.3 0.2-2.6 0.4-4c0.1-1.3 0.2-2.6 0.3-3.9c0.2-1.4 0.3-2.7 0.4-4c0.2-1.3 0.3-2.7 0.5-4c0.1-1.3 0.2-2.6 0.4-4c0.1-1.3 0.2-2.6 0.4-4c0.1-1.3 0.2-2.6 0.4-3.9c0.1-1.4 0.2-2.7 0.4-4c0.1-1.3 0.2-2.7 0.4-4c0.1-1.3 0.2-2.6 0.3-4c0.2-1.3 0.3-2.6 0.4-4c0.1-1.3 0.3-2.6 0.4-3.9c0.1-1.4 0.2-2.7 0.3-4c0.1-1.4 0.2-2.7 0.4-4c0.1-1.3 0.2-2.7 0.3-4c0.2-1.3 0.3-2.6 0.4-4c0.2-1.3 0.3-2.6 0.4-4c0.2-1.3 0.3-2.8 0.5-4c0.1-1.3 0.4-3.2 0.7-3.3c0.3-0.2 0.6 1.3 0.9 2.3c0.2 1.1 0.3 2.8 0.4 4.2c0.1 1.3 0.3 2.6 0.4 4c0.1 1.3 0.2 2.6 0.4 3.9c0.1 1.4 0.2 2.7 0.3 4c0.1 1.4 0.2 2.7 0.2 4c0.1 1.4 0.2 2.7 0.3 4c0.1 1.3 0.2 2.7 0.3 4c0.1 1.3 0.1 2.7 0.2 4c0.1 1.3 0.2 2.7 0.3 4c0.1 1.3 0.1 2.6 0.2 4c0.1 1.3 0.2 2.6 0.2 4c0.1 1.3 0.2 2.6 0.3 4c0 1.3 0.1 2.6 0.2 4c0.1 1.3 0.2 2.6 0.2 4c0.1 1.3 0.2 2.6 0.3 3.9c0.1 1.4 0.1 2.7 0.2 4c0.1 1.4 0.2 2.7 0.3 4c0.1 1.4 0.2 2.7 0.3 4c0 1.4 0.1 2.7 0.2 4c0.1 1.3 0.2 2.7 0.3 4c0.1 1.3 0.2 2.7 0.3 4c0.1 1.3 0.2 2.7 0.3 4c0.1 1.3 0.2 2.6 0.3 4c0.1 1.3 0.2 2.6 0.3 4c0.1 1.3 0.2 2.6 0.3 3.9c0.2 1.4 0.3 2.7 0.4 4c0.1 1.4 0.2 2.7 0.3 4c0.2 1.3 0.3 2.7 0.4 4c0.1 1.3 0.3 2.6 0.4 4c0.1 1.3 0.3 2.6 0.4 4c0.1 1.3 0.3 2.6 0.4 3.9c0.2 1.4 0.3 2.7 0.4 4c0.2 1.3 0.3 2.7 0.4 4c0.2 1.3 0.3 2.6 0.5 4c0.1 1.3 0.2 2.6 0.4 3.9c0.1 1.4 0.2 2.7 0.4 4c0.1 1.4 0.2 2.7 0.4 4c0.1 1.3 0.2 2.7 0.4 4c0.1 1.3 0.2 2.6 0.3 4c0.2 1.3 0.3 2.6 0.4 4c0.2 1.3 0.3 2.6 0.4 3.9c0.2 1.4 0.3 2.7 0.4 4c0.2 1.3 0.3 2.7 0.4 4c0.2 1.3 0.3 2.6 0.4 4c0.2 1.3 0.3 2.6 0.5 3.9c0.1 1.4 0.3 2.7 0.4 4c0.2 1.3 0.3 2.7 0.5 4c0.1 1.3 0.3 2.6 0.4 4c0.2 1.3 0.4 2.6 0.5 3.9c0.2 1.4 0.4 2.7 0.5 4c0.2 1.3 0.3 2.7 0.5 4c0.1 1.3 0.3 2.6 0.4 4c0.2 1.3 0.3 2.6 0.5 3.9c0.1 1.4 0.3 2.7 0.4 4c0.1 1.3 0.3 2.7 0.4 4c0.1 1.3 0.2 2.6 0.3 4c0.1 1.3 0.2 2.6 0.3 4c0.2 1.3 0.2 2.6 0.3 4c0.1 1.3 0.2 2.6 0.3 3.9c0.1 1.4 0.2 2.7 0.3 4c0.1 1.4 0.2 2.7 0.3 4c0.1 1.4 0.2 2.7 0.3 4c0.1 1.3 0.1 2.7 0.2 4c0.1 1.3 0.2 2.7 0.3 4c0.1 1.3 0.2 2.7 0.3 4c0.1 1.3 0.2 2.6 0.3 4c0.1 1.3 0.3 2.6 0.4 4c0.1 1.3 0.2 2.6 0.4 3.9c0.1 1.4 0.2 2.7 0.4 4c0.1 1.3 0.3 2.7 0.4 4c0.2 1.3 0.4 2.6 0.5 4c0.2 1.3 0.4 2.6 0.5 3.9c0.2 1.3 0.4 2.7 0.6 4c0.2 1.3 0.4 2.6 0.6 3.9c0.2 1.4 0.4 2.7 0.7 4c0.2 1.3 0.4 2.6 0.7 3.9c0.2 1.3 0.5 2.6 0.8 3.9c0.2 1.3 0.5 2.7 0.8 4c0.3 1.2 0.7 2.5 1.1 3.8c0.3 1.3 0.8 2.5 1.2 3.8c0.4 1.3 0.8 2.6 1.3 3.8c0.6 1.2 1.2 3 2 3.5c0.8 0.4 2-0.1 2.7-0.8c0.8-0.8 1.2-2.5 1.7-3.7c0.5-1.3 0.9-2.6 1.3-3.8c0.5-1.3 0.9-2.6 1.3-3.9c0.3-1.2 0.7-2.5 1-3.8c0.3-1.3 0.5-2.6 0.8-3.9c0.2-1.3 0.5-2.7 0.7-4c0.3-1.3 0.5-2.6 0.7-3.9c0.2-1.3 0.4-2.6 0.6-4c0.3-1.3 0.5-2.6 0.7-3.9c0.2-1.3 0.4-2.6 0.6-4c0.2-1.3 0.4-2.6 0.5-3.9c0.2-1.3 0.4-2.7 0.6-4c0.1-1.3 0.3-2.6 0.5-4c0.1-1.3 0.3-2.6 0.5-3.9c0.1-1.3 0.3-2.7 0.5-4c0.1-1.3 0.3-2.6 0.5-4c0.2-1.3 0.3-2.6 0.5-3.9c0.2-1.3 0.4-2.7 0.6-4c0.1-1.3 0.3-2.6 0.5-4c0.2-1.3 0.3-2.6 0.5-3.9c0.2-1.3 0.4-2.7 0.5-4c0.2-1.3 0.4-2.6 0.6-3.9c0.1-1.4 0.3-2.7 0.5-4c0.2-1.3 0.3-2.7 0.5-4c0.2-1.3 0.4-2.6 0.5-3.9c0.2-1.4 0.4-2.7 0.5-4c0.2-1.3 0.4-2.7 0.6-4c0.1-1.3 0.3-2.6 0.5-3.9c0.2-1.4 0.3-2.7 0.5-4c0.2-1.3 0.4-2.6 0.6-4c0.2-1.3 0.4-2.6 0.6-3.9c0.2-1.3 0.4-2.7 0.6-4c0.2-1.3 0.4-2.6 0.6-3.9c0.2-1.3 0.5-2.7 0.7-4c0.2-1.3 0.4-2.6 0.6-3.9c0.3-1.3 0.5-2.6 0.7-4c0.3-1.3 0.5-2.6 0.8-3.9c0.2-1.3 0.4-2.6 0.7-3.9c0.3-1.3 0.5-2.6 0.8-3.9c0.2-1.4 0.5-2.7 0.8-4c0.2-1.3 0.5-2.6 0.8-3.9c0.3-1.3 0.6-2.6 0.9-3.9c0.2-1.3 0.5-2.6 0.8-3.9c0.3-1.3 0.6-2.6 0.9-3.9c0.4-1.3 0.7-2.6 1-3.9c0.3-1.3 0.6-2.6 0.9-3.9c0.4-1.2 0.7-2.5 1.1-3.8c0.3-1.3 0.7-2.6 1-3.9c0.4-1.3 0.7-2.6 1.1-3.8c0.3-1.3 0.7-2.6 1.1-3.9c0.3-1.3 0.7-2.5 1.2-3.8c0.5-1.2 1-2.5 1.6-3.7c0.7-1.2 1.3-2.8 2.1-3.5c0.8-0.7 2.1-1.1 3-0.7c0.8 0.4 1.5 2.2 2.1 3.3c0.6 1.2 1 2.5 1.5 3.8c0.5 1.2 1 2.5 1.4 3.7c0.4 1.3 0.8 2.6 1.1 3.9c0.4 1.3 0.7 2.6 1 3.8c0.3 1.3 0.6 2.6 0.9 4c0.3 1.3 0.5 2.6 0.8 3.9c0.3 1.3 0.5 2.6 0.8 3.9c0.2 1.3 0.4 2.6 0.7 3.9c0.2 1.3 0.4 2.7 0.6 4c0.2 1.3 0.4 2.6 0.6 3.9c0.2 1.4 0.4 2.7 0.6 4c0.1 1.3 0.3 2.6 0.5 4c0.1 1.3 0.3 2.6 0.5 3.9c0.1 1.4 0.3 2.7 0.4 4c0.1 1.3 0.3 2.7 0.4 4c0.1 1.3 0.3 2.6 0.4 4c0.1 1.3 0.2 2.6 0.4 4c0.1 1.3 0.2 2.6 0.3 3.9c0.2 1.4 0.3 2.7 0.4 4c0.1 1.3 0.3 2.7 0.4 4c0.1 1.3 0.3 2.7 0.4 4c0.1 1.3 0.3 2.6 0.4 4c0.1 1.3 0.2 2.6 0.4 3.9c0.1 1.4 0.2 2.7 0.4 4c0.1 1.4 0.2 2.7 0.4 4c0.1 1.3 0.2 2.7 0.4 4c0.1 1.3 0.3 2.6 0.4 4c0.2 1.3 0.4 2.6 0.5 3.9c0.2 1.3 0.4 2.7 0.5 4c0.2 1.3 0.4 2.6 0.6 4c0.2 1.3 0.3 2.6 0.5 3.9c0.2 1.3 0.4 2.7 0.6 4c0.2 1.3 0.4 2.6 0.5 3.9c0.2 1.4 0.4 2.7 0.6 4c0.1 1.3 0.3 2.6 0.5 4c0.1 1.3 0.3 2.6 0.5 3.9c0.1 1.4 0.3 2.7 0.5 4c0.2 1.3 0.3 2.7 0.5 4c0.2 1.3 0.3 2.6 0.5 3.9c0.2 1.4 0.4 2.7 0.6 4c0.2 1.3 0.4 2.6 0.6 4c0.2 1.3 0.4 2.6 0.6 3.9c0.2 1.3 0.5 2.6 0.7 3.9c0.2 1.4 0.4 2.7 0.7 4c0.2 1.3 0.5 2.6 0.8 3.9c0.2 1.3 0.6 2.6 0.9 3.9c0.3 1.3 0.7 2.6 1.1 3.8c0.4 1.3 0.8 2.6 1.2 3.8c0.5 1.3 1 2.5 1.7 3.7c0.6 1.2 1.3 2.4 2.2 3.3c0.9 1 2 2.3 3 2.4c1.1 0.2 2.2-0.7 3.1-1.6c0.8-0.9 1.2-2.4 1.8-3.6c0.6-1.2 1.1-2.5 1.6-3.7c0.6-1.2 1.1-2.4 1.6-3.7c0.5-1.2 1-2.5 1.4-3.7c0.5-1.3 0.9-2.5 1.3-3.8c0.4-1.3 0.8-2.5 1.2-3.8c0.4-1.3 0.8-2.5 1.3-3.8c0.4-1.3 0.8-2.5 1.3-3.8c0.4-1.2 0.9-2.5 1.3-3.7c0.5-1.3 0.9-2.6 1.4-3.8c0.4-1.3 0.9-2.5 1.3-3.8c0.4-1.2 0.9-2.5 1.3-3.8c0.4-1.2 0.8-2.5 1.2-3.8c0.4-1.3 0.8-2.5 1.1-3.8c0.4-1.3 0.8-2.6 1.1-3.9c0.4-1.2 0.8-2.5 1.2-3.8c0.4-1.3 0.8-2.6 1.2-3.8c0.4-1.3 0.8-2.6 1.2-3.8c0.4-1.3 0.8-2.6 1.2-3.8c0.5-1.3 0.9-2.6 1.4-3.8c0.5-1.2 1.1-2.4 1.7-3.6c0.6-1.2 1.1-2.7 1.9-3.6c0.9-0.8 2-1.4 3.2-1.5c1.1-0.1 2.7 0.9 3.9 0.8c1.2-0.1 2.4-0.7 3.4-1.6c0.9-0.8 1.7-2.1 2.3-3.2c0.6-1.2 1.1-2.5 1.5-3.7c0.4-1.3 0.6-2.6 1-3.9c0.3-1.3 0.6-2.6 0.9-3.9c0.4-1.3 0.8-2.5 1.2-3.8c0.4-1.3 0.8-2.6 1.3-3.8c0.5-1.3 0.9-3.1 1.6-3.7c0.7-0.7 1.9-0.6 2.6 0c0.7 0.7 1.2 2.5 1.6 3.7c0.5 1.3 0.8 2.6 1.2 3.9c0.4 1.3 0.7 2.6 1 3.9c0.2 1.3 0.4 2.6 0.6 3.9c0.2 1.3 0.4 2.7 0.6 4c0.2 1.3 0.3 2.6 0.5 4c0.2 1.3 0.3 2.6 0.5 3.9c0.1 1.3 0.3 2.7 0.4 4c0.2 1.3 0.3 2.7 0.4 4c0.1 1.3 0.3 2.6 0.4 4c0.1 1.3 0.2 2.6 0.4 3.9c0.1 1.4 0.3 2.7 0.4 4c0.1 1.3 0.3 2.7 0.4 4c0.2 1.3 0.3 2.7 0.5 4c0.1 1.3 0.3 2.6 0.5 3.9c0.2 1.4 0.5 2.6 0.8 4c0.3 1.3 0.6 2.7 1.1 3.9c0.6 1.1 1.2 2.5 2.2 2.9c0.9 0.5 2.5 0.1 3.7-0.5c1.1-0.5 2-2.3 3-2.7c0.9-0.4 2-0.5 2.8 0.1c0.7 0.6 1.1 2.4 1.6 3.7c0.4 1.3 0.8 2.6 1.2 3.8c0.5 1.3 1 2.5 1.4 3.8c0.4 1.2 0.9 2.5 1.3 3.8c0.4 1.2 0.8 2.5 1.2 3.8c0.5 1.2 1 2.5 1.6 3.7c0.5 1.2 1.1 2.4 1.8 3.5c0.7 1.2 1.4 2.3 2.3 3.2c1 1 2.1 1.8 3.3 2.4c1.1 0.6 2.4 1.3 3.7 1.4c1.2 0.1 2.6-0.3 3.8-0.8c1.2-0.5 2.3-1.4 3.3-2.2c1.1-0.8 2.2-1.6 3.2-2.5c1-0.8 2-1.7 3-2.6c0.9-1 1.8-2 2.7-3c0.9-0.9 1.8-1.9 2.7-2.9c1-0.9 2-1.8 3-2.7c0.9-0.9 1.9-1.8 3-2.6c1-0.9 2-1.8 3-2.6c1.1-0.9 2-2.1 3.2-2.6c1.1-0.5 2.5-0.8 3.5-0.4c1.1 0.3 2.1 1.7 3 2.6c0.9 1 1.6 2.1 2.5 3.2c0.8 1 1.6 2.1 2.4 3.2c0.7 1 1.4 2.2 2.2 3.3c0.8 1.1 1.5 2.2 2.4 3.2c0.8 1 1.7 2 2.6 3c1 1 1.9 1.9 2.9 2.8c0.9 0.9 1.9 1.8 2.9 2.8c0.9 0.9 1.9 1.8 2.9 2.7c1 0.9 1.9 1.8 2.9 2.7c1 0.9 2 1.8 3 2.7c1 0.8 2.1 1.7 3.1 2.5c1.1 0.8 2.1 1.7 3.2 2.4c1.1 0.8 2.2 1.6 3.3 2.2c1.2 0.7 2.4 1.3 3.6 1.8c1.2 0.6 2.4 1.2 3.6 1.7c1.3 0.5 2.5 1 3.8 1.2c1.3 0.3 2.7 0.5 4 0.4c1.3 0 2.6-0.3 3.9-0.6c1.3-0.4 2.6-0.9 3.8-1.3c1.3-0.4 2.5-0.9 3.8-1.3c1.3-0.4 2.6-0.7 3.8-1.1c1.3-0.4 2.6-0.9 3.8-1.3c1.3-0.4 2.5-0.9 3.8-1.4c1.2-0.4 2.5-0.9 3.7-1.4c1.3-0.5 2.5-0.9 3.8-1.4c1.2-0.4 2.5-0.9 3.8-1.3c1.2-0.4 2.5-0.8 3.8-1.2c1.3-0.3 2.6-0.6 3.9-0.9c1.3-0.2 2.6-0.5 3.9-0.6c1.4-0.1 2.7-0.2 4-0.2c1.4 0 2.7 0.1 4 0.3c1.3 0.2 2.6 0.5 3.9 0.7c1.3 0.3 2.6 0.7 3.9 1.1c1.3 0.3 2.6 0.7 3.8 1.1c1.3 0.4 2.6 0.8 3.9 1.2c1.2 0.4 2.5 0.8 3.8 1.1c1.3 0.3 2.6 0.6 3.9 0.9c1.3 0.3 2.6 0.6 3.9 1c1.3 0.3 2.6 0.6 3.9 1c1.2 0.3 2.5 0.6 3.8 0.9c1.3 0.3 2.6 0.6 3.9 0.9c1.4 0.2 2.7 0.5 4 0.6c1.3 0.1 2.7 0.2 4 0.3c1.3 0 2.6 0 4-0.1c1.3 0 2.6-0.1 4-0.2c1.3-0.1 2.6-0.2 4-0.3c1.3-0.2 2.6-0.3 3.9-0.5c1.4-0.2 2.7-0.3 4-0.5c1.3-0.2 2.6-0.4 4-0.6c1.3-0.2 2.6-0.4 3.9-0.7c1.3-0.2 2.6-0.4 4-0.6c1.3-0.2 2.6-0.4 3.9-0.6c1.3-0.2 2.6-0.4 4-0.6c1.3-0.2 2.6-0.4 3.9-0.6c1.3-0.1 2.7-0.3 4-0.5c1.3-0.1 2.6-0.3 4-0.5c1.3-0.2 2.6-0.4 3.9-0.6c1.3-0.2 2.6-0.4 4-0.6c1.3-0.2 2.6-0.5 3.9-0.7c1.3-0.2 2.6-0.4 4-0.6c1.3-0.2 2.6-0.4 3.9-0.6c1.3-0.2 2.7-0.3 4-0.5c1.3-0.2 2.6-0.3 4-0.5c1.3-0.1 2.6-0.2 3.9-0.3c1.4-0.1 2.7-0.2 4-0.3c1.4 0 2.7-0.1 4-0.1c1.4 0 2.7 0 4 0c1.4 0.1 2.7 0.1 4 0.2c1.4 0.1 2.7 0.2 4 0.3c1.3 0.2 2.7 0.3 4 0.4c1.3 0.2 2.6 0.4 4 0.5c1.3 0.2 2.6 0.3 3.9 0.5c1.4 0.2 2.7 0.3 4 0.5c1.3 0.2 2.6 0.3 4 0.5c1.3 0.1 2.6 0.3 4 0.4c1.3 0.1 2.6 0.2 3.9 0.3c1.4 0.2 2.7 0.3 4 0.4c1.4 0.1 2.7 0.2 4 0.3c1.3 0.1 2.7 0.3 4 0.4c1.3 0.1 2.6 0.2 4 0.3c1.3 0.1 2.6 0.3 4 0.4c1.3 0.1 2.6 0.2 3.9 0.3c1.4 0.1 2.7 0.2 4 0.3c1.4 0.1 2.7 0.2 4 0.3c1.4 0.1 2.7 0.2 4 0.3c1.3 0.1 2.7 0.2 4 0.3c1.3 0.1 2.7 0.2 4 0.2c1.3 0.1 2.7 0.2 4 0.3c1.3 0 2.7 0.1 4 0.1c1.3 0.1 2.6 0.2 4 0.2c1.3 0.1 2.6 0.1 4 0.2c1.3 0 2.6 0.1 4 0.1c1.3 0.1 2.6 0.1 4 0.2c1.3 0 2.6 0.1 4 0.1c1.3 0.1 2.6 0.1 4 0.2c1.3 0 2.6 0.1 4 0.1c1.3 0.1 2.6 0.1 4 0.1c1.3 0.1 2.6 0.1 4 0.1c1.3 0.1 2.6 0.1 4 0.1c1.3 0.1 2.6 0.1 4 0.1c1.3 0 2.6 0.1 4 0.1c1.3 0 2.6 0 4 0c1.3 0 2.6 0 4 0c1.3 0 2.6 0 4 0c1.3 0 2.6 0 4 0c1.3 0 2.6 0 4 0c1.3-0.1 2.6-0.1 4-0.1c1.3 0 2.6 0 4-0.1c1.3 0 2.6 0 4 0c1.3 0 2.6-0.1 4-0.1c1.3 0 2.6-0.1 4-0.1c1.3 0 2.6 0 4 0c1.3-0.1 2.6-0.1 4-0.1c1.3 0 2.6-0.1 4-0.1c1.3 0 2.6 0 4 0c1.3 0 2.6 0 4-0.1c1.3 0 2.6 0 4 0c1.3 0 2.6 0 4 0c1.3 0 2.6 0 4 0c1.3 0 2.7 0 4 0c1.3 0 2.6 0 3.9 0"/>
<path class="c" stroke="#ff0000" stroke-width="11.3" d="M243.1 1104.1c1.2 0 2.4 0 3.7 0c1.3 0 2.8 0 4.1 0c1.3 0 2.7-0.1 3.9 0.3c1.2 0.4 2.2 1.4 3.2 2.2c1 0.9 1.8 1.9 2.8 2.9c0.9 1 1.6 2.2 2.6 3.1c1 0.8 2.3 2 3.3 2.1c1 0.1 2.1-0.8 2.9-1.8c0.7-0.9 1.1-2.4 1.6-3.7c0.5-1.3 0.9-2.5 1.3-3.8c0.5-1.2 1-2.5 1.5-3.7c0.4-1.3 0.9-2.5 1.4-3.7c0.5-1.3 0.8-2.6 1.3-3.8c0.6-1.2 1.1-2.5 1.8-3.6c0.6-1.2 1.4-2.7 2.3-3.4c0.9-0.6 2.3-1.2 3.1-0.7c0.9 0.4 1.5 2.1 2.1 3.3c0.6 1.1 1 2.5 1.5 3.7c0.5 1.3 1 2.5 1.5 3.7c0.4 1.3 0.8 2.6 1.2 3.8c0.4 1.3 0.8 2.6 1.2 3.8c0.5 1.3 1 2.5 1.6 3.7c0.5 1.2 1.2 2.4 1.9 3.5c0.8 1.1 1.6 2.2 2.6 3c1 0.9 2.3 1.6 3.5 2.1c1.2 0.4 2.7 0.9 3.8 0.6c1.2-0.2 2.3-1.2 3.2-2.1c0.9-0.9 1.6-2.2 2.3-3.3c0.7-1.1 1.4-2.3 1.9-3.5c0.6-1.2 1.1-2.5 1.5-3.7c0.5-1.3 0.9-2.5 1.3-3.8c0.3-1.3 0.7-2.6 1.1-3.8c0.3-1.3 0.7-2.6 1-3.9c0.3-1.3 0.6-2.6 0.8-3.9c0.3-1.3 0.6-2.6 0.8-3.9c0.3-1.4 0.6-2.7 0.9-4c0.3-1.3 0.6-2.6 0.9-3.9c0.3-1.2 0.6-2.5 1-3.8c0.3-1.3 0.6-2.6 0.9-3.9c0.4-1.3 0.7-2.6 1.3-3.8c0.6-1.2 1.3-2.3 2.2-3.3c0.8-1.1 1.8-2 2.7-3c0.9-1 1.8-2 2.5-3.1c0.7-1.1 1.4-2.3 1.9-3.5c0.4-1.2 0.7-2.6 0.9-3.9c0.3-1.3 0.5-2.6 0.7-3.9c0.2-1.3 0.4-2.6 0.6-4c0.3-1.3 0.5-2.6 0.7-3.9c0.1-1.3 0.3-2.7 0.5-4c0.1-1.3 0.3-2.6 0.4-4c0.2-1.3 0.3-2.6 0.5-3.9c0.2-1.4 0.3-2.7 0.6-4c0.3-1.3 0.6-2.6 1-3.8c0.4-1.3 0.8-2.9 1.5-3.9c0.6-1 1.7-2.2 2.4-2c0.8 0.2 1.5 1.9 2 3c0.5 1.2 0.7 2.7 1.1 4c0.3 1.3 0.6 2.6 0.9 3.9c0.2 1.3 0.5 2.6 0.7 3.9c0.2 1.3 0.4 2.6 0.5 4c0.2 1.3 0.3 2.6 0.5 3.9c0.1 1.4 0.3 2.7 0.4 4c0.1 1.3 0.3 2.7 0.4 4c0.2 1.3 0.3 2.6 0.4 4c0.2 1.3 0.3 2.6 0.4 4c0.2 1.3 0.3 2.6 0.4 3.9c0.1 1.4 0.3 2.7 0.4 4c0.1 1.3 0.2 2.7 0.4 4c0.1 1.3 0.3 2.6 0.4 4c0.2 1.3 0.3 2.6 0.5 3.9c0.1 1.4 0.3 2.7 0.4 4c0.2 1.3 0.4 2.7 0.5 4c0.2 1.3 0.4 2.6 0.6 4c0.2 1.3 0.4 2.6 0.6 3.9c0.2 1.3 0.4 2.6 0.6 4c0.2 1.3 0.4 2.6 0.7 3.9c0.2 1.3 0.4 2.6 0.7 3.9c0.3 1.3 0.5 2.6 0.9 3.9c0.3 1.3 0.7 2.6 1.1 3.9c0.4 1.2 0.9 2.5 1.3 3.7c0.5 1.3 1.1 2.5 1.7 3.7c0.5 1.2 1.2 2.4 1.9 3.5c0.7 1.1 1.4 2.3 2.3 3.3c0.8 1 1.7 2 2.7 2.9c1 0.9 2.1 2.1 3.2 2.4c1.2 0.4 2.5 0.2 3.6-0.3c1.1-0.5 1.9-1.8 3-2.7c1-0.8 2-2 3.2-2.5c1.1-0.4 2.4-0.7 3.5-0.3c1.1 0.4 1.9 1.8 3 2.6c1 0.9 2.1 1.8 3.2 2.3c1.2 0.5 2.7 0.9 3.9 0.7c1.2-0.2 2.3-1.1 3.3-2c1-0.8 1.8-1.9 2.7-3c0.8-1 1.6-2.1 2.3-3.2c0.7-1.1 1.3-2.4 2-3.5c0.7-1.1 1.5-2.2 2.3-3.3c0.7-1.1 1.5-2.2 2-3.4c0.5-1.2 0.8-2.5 1.1-3.8c0.3-1.3 0.4-2.7 0.6-4c0.2-1.3 0.3-2.6 0.5-3.9c0.2-1.4 0.3-2.7 0.5-4c0.2-1.3 0.3-2.7 0.5-4c0.1-1.3 0.3-2.6 0.4-4c0.2-1.3 0.3-2.6 0.5-3.9c0.1-1.4 0.2-2.7 0.4-4c0.1-1.4 0.2-2.7 0.3-4c0.1-1.3 0.3-2.7 0.4-4c0.1-1.3 0.2-2.6 0.3-4c0.1-1.3 0.2-2.6 0.3-4c0.1-1.3 0.2-2.6 0.3-4c0-1.3 0.1-2.6 0.2-3.9c0.1-1.4 0.2-2.7 0.3-4c0-1.4 0.1-2.7 0.2-4c0-1.4 0.1-2.7 0.1-4c0.1-1.4 0.2-2.7 0.2-4c0.1-1.4 0.1-2.7 0.2-4c0-1.4 0.1-2.7 0.1-4c0.1-1.4 0.1-2.7 0.2-4c0-1.4 0-2.7 0.1-4c0-1.4 0.1-2.7 0.1-4c0.1-1.3 0.1-2.7 0.2-4c0-1.3 0.1-2.7 0.1-4c0.1-1.3 0.2-2.7 0.2-4c0.1-1.3 0.1-2.7 0.2-4c0-1.3 0.1-2.7 0.1-4c0.1-1.3 0.1-2.7 0.2-4c0-1.3 0.1-2.7 0.1-4c0.1-1.3 0.1-2.7 0.2-4c0-1.3 0.1-2.7 0.1-4c0.1-1.3 0.2-2.7 0.2-4c0.1-1.3 0.1-2.6 0.2-4c0-1.3 0.1-2.6 0.2-4c0-1.3 0.1-2.6 0.1-4c0.1-1.3 0.2-2.6 0.2-4c0.1-1.3 0.2-2.6 0.2-4c0.1-1.3 0.2-2.6 0.2-4c0.1-1.3 0.2-2.6 0.2-4c0.1-1.3 0.2-2.6 0.2-3.9c0.1-1.4 0.2-2.7 0.2-4c0.1-1.4 0.2-2.7 0.2-4c0.1-1.4 0.2-2.7 0.3-4c0-1.4 0.1-2.7 0.2-4c0.1-1.4 0.1-2.7 0.2-4c0.1-1.4 0.2-2.7 0.2-4c0.1-1.3 0.2-2.7 0.2-4c0.1-1.3 0.2-2.7 0.3-4c0.1-1.3 0.1-2.7 0.2-4c0.1-1.3 0.2-2.7 0.3-4c0-1.3 0.1-2.6 0.2-4c0.1-1.3 0.2-2.6 0.3-4c0.1-1.3 0.2-2.6 0.3-4c0.1-1.3 0.2-2.6 0.3-3.9c0.1-1.4 0.2-2.7 0.3-4c0.1-1.4 0.3-2.7 0.4-4c0.1-1.3 0.2-2.7 0.4-4c0.1-1.3 0.2-2.7 0.3-4c0.2-1.3 0.3-2.6 0.4-4c0.1-1.3 0.2-3.1 0.4-4.1c0.1-1.1 0.5-2.3 0.7-2.1c0.2 0.3 0.5 2.3 0.6 3.6c0.2 1.2 0.2 2.7 0.4 4c0.1 1.4 0.2 2.7 0.3 4c0.1 1.3 0.3 2.7 0.4 4c0.1 1.3 0.2 2.6 0.4 4c0.1 1.3 0.2 2.6 0.3 4c0.1 1.3 0.2 2.6 0.3 3.9c0.2 1.4 0.3 2.7 0.4 4c0.1 1.4 0.2 2.7 0.3 4c0.1 1.3 0.2 2.7 0.3 4c0.1 1.3 0.3 2.7 0.4 4c0.1 1.3 0.2 2.6 0.3 4c0.1 1.3 0.2 2.6 0.3 4c0.1 1.3 0.2 2.6 0.3 4c0.1 1.3 0.2 2.6 0.3 3.9c0 1.4 0.1 2.7 0.2 4c0.1 1.4 0.2 2.7 0.3 4c0.1 1.4 0.1 2.7 0.2 4c0.1 1.4 0.2 2.7 0.3 4c0 1.3 0.1 2.7 0.2 4c0 1.3 0.1 2.7 0.2 4c0 1.3 0.1 2.7 0.2 4c0 1.3 0.1 2.7 0.1 4c0.1 1.3 0.2 2.7 0.2 4c0.1 1.3 0.2 2.7 0.2 4c0.1 1.3 0.1 2.6 0.2 4c0.1 1.3 0.1 2.6 0.2 4c0.1 1.3 0.1 2.6 0.2 4c0.1 1.3 0.1 2.6 0.2 4c0.1 1.3 0.1 2.6 0.2 4c0.1 1.3 0.1 2.6 0.2 4c0.1 1.3 0.1 2.6 0.2 4c0.1 1.3 0.1 2.6 0.2 3.9c0.1 1.4 0.1 2.7 0.2 4c0.1 1.4 0.1 2.7 0.2 4c0.1 1.4 0.1 2.7 0.2 4c0.1 1.4 0.1 2.7 0.2 4c0.1 1.4 0.1 2.7 0.2 4c0.1 1.4 0.1 2.7 0.2 4c0.1 1.3 0.1 2.7 0.2 4c0 1.3 0.1 2.7 0.2 4c0 1.3 0.1 2.7 0.2 4c0 1.3 0.1 2.7 0.2 4c0 1.3 0.1 2.7 0.1 4c0.1 1.3 0.2 2.7 0.3 4c0 1.3 0.1 2.7 0.2 4c0.1 1.3 0.1 2.6 0.2 4c0.1 1.3 0.2 2.6 0.3 4c0.1 1.3 0.1 2.6 0.2 4c0.1 1.3 0.2 2.6 0.3 3.9c0.1 1.4 0.2 2.7 0.3 4c0.1 1.4 0.2 2.7 0.3 4c0.1 1.4 0.2 2.7 0.3 4c0.1 1.3 0.2 2.7 0.3 4c0.1 1.3 0.2 2.7 0.3 4c0.2 1.3 0.3 2.6 0.4 4c0.1 1.3 0.2 2.6 0.3 4c0.2 1.3 0.3 2.6 0.4 3.9c0.1 1.4 0.2 2.7 0.3 4c0.2 1.4 0.3 2.7 0.4 4c0.2 1.3 0.3 2.7 0.5 4c0.2 1.3 0.4 2.6 0.6 3.9c0.3 1.3 0.5 2.7 0.8 4c0.3 1.3 0.6 2.6 1 3.8c0.3 1.3 0.7 2.6 1.2 3.8c0.5 1.3 1 2.5 1.5 3.7c0.6 1.3 1.1 2.7 1.8 3.7c0.7 1.1 1.7 2.5 2.6 2.6c0.8 0 1.8-1.3 2.4-2.3c0.7-1 1-2.6 1.4-3.8c0.5-1.3 0.9-2.5 1.3-3.8c0.4-1.3 0.8-2.6 1.1-3.9c0.4-1.2 0.7-2.5 1-3.8c0.3-1.3 0.5-2.6 0.9-3.9c0.3-1.3 0.6-2.6 0.9-3.9c0.3-1.3 0.7-2.6 1-3.9c0.3-1.3 0.6-2.6 0.9-3.9c0.4-1.3 0.7-2.6 1.1-3.8c0.5-1.3 1-2.5 1.7-3.7c0.7-1.1 1.4-2.6 2.3-3.4c0.8-0.8 2.2-1.7 3-1.5c0.9 0.3 1.6 1.9 2.2 3c0.6 1.2 0.9 2.6 1.4 3.9c0.4 1.2 0.8 2.5 1.2 3.8c0.4 1.2 0.7 2.5 1.1 3.8c0.3 1.3 0.5 2.6 0.8 3.9c0.3 1.3 0.6 2.6 0.9 3.9c0.3 1.3 0.7 2.6 1.1 3.9c0.4 1.2 0.8 2.5 1.3 3.7c0.5 1.3 1 2.6 1.8 3.6c0.7 1.1 1.8 2 2.9 2.6c1.1 0.7 2.5 1.1 3.8 1.4c1.3 0.3 2.7 0.2 3.9 0.6c1.3 0.4 2.4 0.9 3.4 1.7c1.1 0.8 1.7 2.1 2.7 3c1 0.8 2.2 1.6 3.4 2.1c1.2 0.5 2.5 1 3.8 1c1.3 0.1 2.7-0.3 3.9-0.8c1.2-0.4 2.4-1.2 3.5-1.9c1.1-0.7 2.2-1.5 3.2-2.4c1-0.9 1.8-2 2.6-3c0.8-1.1 1.4-2.3 2.1-3.4c0.7-1.2 1.3-2.4 1.9-3.6c0.6-1.2 1.1-2.4 1.6-3.6c0.5-1.2 0.9-2.5 1.4-3.8c0.4-1.2 0.8-2.5 1.1-3.8c0.4-1.3 0.8-2.6 1.1-3.8c0.4-1.3 0.7-2.6 1-3.9c0.4-1.3 0.7-2.6 1-3.9c0.3-1.3 0.6-2.6 0.8-3.9c0.3-1.3 0.6-2.6 0.8-3.9c0.3-1.3 0.5-2.6 0.8-4c0.2-1.3 0.5-2.6 0.7-3.9c0.2-1.3 0.5-2.6 0.7-3.9c0.2-1.3 0.4-2.7 0.6-4c0.2-1.3 0.4-2.6 0.6-3.9c0.2-1.4 0.4-2.7 0.6-4c0.2-1.3 0.4-2.6 0.6-4c0.1-1.3 0.3-2.6 0.5-3.9c0.2-1.3 0.3-2.7 0.5-4c0.2-1.3 0.3-2.6 0.5-4c0.2-1.3 0.3-2.6 0.5-3.9c0.1-1.4 0.3-2.7 0.4-4c0.2-1.3 0.3-2.7 0.5-4c0.1-1.3 0.3-2.6 0.5-3.9c0.2-1.4 0.4-2.7 0.6-4c0.2-1.3 0.5-2.6 0.8-3.9c0.2-1.3 0.5-2.6 0.7-3.9c0.3-1.4 0.5-2.7 0.7-4c0.2-1.3 0.4-2.6 0.5-4c0.2-1.3 0.3-2.6 0.4-3.9c0.2-1.4 0.3-2.7 0.4-4c0-1.3 0.1-2.7 0.2-4c0.1-1.3 0.2-2.7 0.3-4c0-1.3 0.1-2.7 0.2-4c0.1-1.3 0.2-2.7 0.2-4c0.1-1.3 0.2-2.7 0.3-4c0-1.3 0.1-2.6 0.2-4c0.1-1.3 0.1-2.6 0.2-4c0.1-1.3 0.2-2.6 0.3-4c0.1-1.3 0.1-2.6 0.2-4c0.1-1.3 0.2-2.6 0.3-3.9c0.1-1.4 0.2-2.7 0.2-4c0.1-1.4 0.2-2.7 0.3-4c0.1-1.4 0.2-2.7 0.3-4c0-1.4 0.1-2.7 0.2-4c0.1-1.3 0.2-2.7 0.3-4c0.1-1.3 0.2-2.7 0.2-4c0.1-1.3 0.2-2.7 0.3-4c0.1-1.3 0.2-2.6 0.3-4c0.1-1.3 0.1-2.6 0.2-4c0.1-1.3 0.2-2.6 0.3-4c0.1-1.3 0.2-2.6 0.3-4c0-1.3 0.1-2.6 0.2-3.9c0.1-1.4 0.2-2.7 0.3-4c0.1-1.4 0.2-2.7 0.2-4c0.1-1.4 0.2-2.7 0.3-4c0.1-1.3 0.2-2.7 0.3-4c0.1-1.3 0.2-2.7 0.4-4c0.1-1.3 0.2-2.6 0.3-4c0.1-1.3 0.3-2.6 0.4-4c0.2-1.3 0.3-2.6 0.5-3.9c0.1-1.4 0.3-2.7 0.4-4c0.2-1.3 0.4-2.6 0.5-4c0.2-1.3 0.3-2.6 0.4-4c0.2-1.3 0.2-2.6 0.4-4c0.2-1.3 0.3-3.4 0.6-3.9c0.2-0.6 0.6-0.2 0.9 0.6c0.2 0.8 0.3 2.8 0.4 4.1c0.2 1.4 0.3 2.7 0.4 4c0.1 1.4 0.3 2.7 0.4 4c0.2 1.3 0.3 2.7 0.5 4c0.2 1.3 0.3 2.6 0.5 4c0.1 1.3 0.3 2.6 0.4 3.9c0.2 1.4 0.3 2.7 0.4 4c0.1 1.3 0.3 2.7 0.4 4c0.1 1.3 0.2 2.7 0.3 4c0.1 1.3 0.2 2.7 0.3 4c0.1 1.3 0.2 2.6 0.3 4c0.1 1.3 0.2 2.6 0.3 4c0.1 1.3 0.2 2.6 0.2 4c0.1 1.3 0.2 2.6 0.3 3.9c0.1 1.4 0.2 2.7 0.3 4c0 1.4 0.1 2.7 0.2 4c0.1 1.4 0.2 2.7 0.2 4c0.1 1.4 0.2 2.7 0.3 4c0 1.3 0.1 2.7 0.2 4c0 1.3 0.1 2.7 0.2 4c0 1.3 0.1 2.7 0.2 4c0 1.3 0.1 2.7 0.1 4c0.1 1.3 0.2 2.7 0.2 4c0.1 1.3 0.2 2.7 0.2 4c0.1 1.3 0.2 2.6 0.2 4c0.1 1.3 0.2 2.6 0.2 4c0.1 1.3 0.2 2.6 0.2 4c0.1 1.3 0.2 2.6 0.3 4c0.1 1.3 0.1 2.6 0.2 4c0.1 1.3 0.2 2.6 0.3 3.9c0 1.4 0.1 2.7 0.2 4c0.1 1.4 0.2 2.7 0.3 4c0.1 1.4 0.1 2.7 0.2 4c0.1 1.4 0.2 2.7 0.3 4c0.1 1.3 0.2 2.7 0.3 4c0.1 1.3 0.2 2.7 0.3 4c0.1 1.3 0.2 2.7 0.3 4c0.1 1.3 0.2 2.6 0.2 4c0.1 1.3 0.2 2.6 0.3 4c0.1 1.3 0.2 2.6 0.3 4c0.1 1.3 0.2 2.6 0.3 3.9c0.1 1.4 0.2 2.7 0.3 4c0.1 1.4 0.2 2.7 0.3 4c0.2 1.3 0.3 2.7 0.4 4c0.1 1.3 0.2 2.7 0.4 4c0.1 1.3 0.3 2.6 0.4 4c0.2 1.3 0.4 2.6 0.7 3.9c0.2 1.3 0.4 2.6 0.7 3.9c0.3 1.3 0.6 2.6 0.9 3.9c0.3 1.3 0.7 2.6 1 3.9c0.4 1.3 0.9 2.5 1.3 3.8c0.5 1.2 1 2.5 1.6 3.7c0.5 1.2 1.2 2.4 2 3.4c0.8 1.1 1.7 2.4 2.8 3c1 0.6 2.4 0.9 3.4 0.5c0.9-0.5 1.7-2 2.3-3.2c0.7-1.1 1.2-2.4 1.7-3.7c0.5-1.2 0.9-2.4 1.3-3.7c0.4-1.3 0.6-2.6 0.9-3.9c0.3-1.3 0.5-2.6 0.7-4c0.3-1.3 0.5-2.6 0.7-3.9c0.3-1.3 0.5-2.6 0.7-3.9c0.2-1.4 0.5-2.7 0.7-4c0.2-1.3 0.5-2.6 0.7-3.9c0.2-1.3 0.4-2.6 0.7-4c0.2-1.3 0.4-2.6 0.6-3.9c0.2-1.3 0.4-2.6 0.7-4c0.2-1.3 0.4-2.6 0.6-3.9c0.2-1.3 0.4-2.6 0.6-4c0.2-1.3 0.4-2.6 0.6-3.9c0.2-1.3 0.4-2.6 0.6-4c0.2-1.3 0.4-2.6 0.6-3.9c0.2-1.3 0.4-2.7 0.6-4c0.2-1.3 0.4-2.6 0.6-3.9c0.2-1.3 0.4-2.7 0.7-4c0.2-1.3 0.4-2.6 0.7-3.9c0.2-1.3 0.4-2.6 0.7-4c0.2-1.3 0.4-2.6 0.7-3.9c0.3-1.3 0.5-2.6 0.8-3.9c0.3-1.3 0.7-2.6 1.1-3.9c0.3-1.2 0.8-2.5 1.2-3.8c0.4-1.2 0.9-2.5 1.4-3.7c0.6-1.2 1.2-2.4 2-3.5c0.8-1.1 1.6-2.2 2.6-3.1c1-0.8 2.2-2 3.2-2.2c1.1-0.1 2.4 0.5 3.3 1.3c0.9 0.8 1.4 2.3 2 3.5c0.6 1.2 1.1 2.5 1.6 3.7c0.5 1.3 1 2.5 1.4 3.8c0.4 1.2 0.7 2.5 1 3.8c0.3 1.3 0.5 2.7 0.8 4c0.2 1.3 0.4 2.6 0.6 3.9c0.3 1.3 0.5 2.6 0.7 4c0.2 1.3 0.4 2.6 0.6 3.9c0.2 1.3 0.4 2.7 0.5 4c0.2 1.3 0.3 2.6 0.5 3.9c0.1 1.4 0.3 2.7 0.4 4c0.2 1.3 0.3 2.7 0.5 4c0.1 1.3 0.2 2.7 0.4 4c0.1 1.3 0.3 2.6 0.4 4c0.1 1.3 0.3 2.6 0.4 3.9c0.2 1.4 0.3 2.7 0.4 4c0.2 1.3 0.3 2.7 0.4 4c0.2 1.3 0.3 2.6 0.4 4c0.2 1.3 0.3 2.6 0.4 4c0.1 1.3 0.3 2.6 0.4 3.9c0.1 1.4 0.3 2.7 0.4 4c0.1 1.3 0.3 2.7 0.4 4c0.1 1.3 0.2 2.6 0.4 4c0.1 1.3 0.2 2.6 0.4 4c0.1 1.3 0.2 2.6 0.4 3.9c0.1 1.4 0.2 2.7 0.4 4c0.1 1.3 0.2 2.7 0.4 4c0.1 1.3 0.2 2.7 0.4 4c0.1 1.3 0.2 2.6 0.4 4c0.1 1.3 0.3 2.6 0.4 3.9c0.1 1.4 0.3 2.7 0.4 4c0.2 1.3 0.3 2.7 0.4 4c0.2 1.3 0.3 2.6 0.5 4c0.1 1.3 0.3 2.6 0.5 3.9c0.1 1.4 0.3 2.7 0.5 4c0.2 1.3 0.5 2.6 0.7 3.9c0.2 1.4 0.4 2.7 0.7 4c0.2 1.3 0.5 2.6 0.8 3.9c0.3 1.3 0.5 2.6 1 3.9c0.4 1.2 0.9 2.5 1.4 3.7c0.6 1.2 1.3 2.4 2.1 3.4c0.8 1 1.8 2.1 2.8 2.8c1.1 0.7 2.4 1.2 3.7 1.6c1.2 0.5 2.6 0.7 3.8 1.1c1.3 0.4 2.5 1.1 3.8 1.4c1.2 0.3 2.6 0.7 3.8 0.5c1.2-0.2 2.5-1 3.5-1.8c1.1-0.7 2.2-1.6 3-2.6c0.9-1.1 1.5-2.2 2.1-3.4c0.6-1.2 1-2.5 1.5-3.7c0.5-1.3 0.9-2.5 1.3-3.8c0.5-1.3 0.9-2.5 1.3-3.8c0.4-1.3 0.7-2.6 1-3.9c0.3-1.3 0.6-2.6 0.9-3.9c0.3-1.3 0.6-2.6 0.9-3.9c0.3-1.3 0.6-2.6 0.9-3.9c0.4-1.2 0.7-2.5 1.1-3.8c0.4-1.3 0.8-2.6 1.2-3.8c0.4-1.3 0.8-2.6 1.3-3.8c0.4-1.3 0.9-2.5 1.4-3.7c0.6-1.2 1.3-2.4 2-3.5c0.8-1.1 1.7-2.1 2.5-3.1c0.8-1.1 1.7-2.1 2.5-3.2c0.8-1.1 1.5-2.2 2.2-3.3c0.7-1.1 1.5-2.2 2.2-3.3c0.8-1.1 1.7-2.1 2.5-3.2c0.8-1 1.6-2.2 2.5-3.1c1-0.9 2.1-2.3 3.1-2.5c1-0.2 2.3 0.4 3.2 1.2c0.9 0.7 1.5 2.2 2.2 3.4c0.7 1.1 1.3 2.3 2 3.5c0.7 1.1 1.3 2.3 2 3.4c0.7 1.2 1.3 2.4 2.1 3.4c0.8 1.1 1.8 2.1 2.8 2.9c1.1 0.8 2.4 1.7 3.5 1.7c1.2 0 2.4-0.8 3.4-1.6c1-0.8 1.7-2 2.5-3.2c0.7-1.1 1.3-2.3 1.9-3.5c0.5-1.2 0.9-2.5 1.3-3.7c0.4-1.3 0.8-2.6 1.2-3.9c0.3-1.3 0.7-2.5 1-3.8c0.4-1.3 0.7-2.6 1-3.9c0.3-1.3 0.5-2.6 0.8-3.9c0.2-1.3 0.5-2.7 0.7-4c0.3-1.3 0.5-2.6 0.7-3.9c0.2-1.3 0.5-2.6 0.7-3.9c0.2-1.4 0.4-2.7 0.6-4c0.2-1.3 0.4-2.6 0.5-4c0.2-1.3 0.4-2.6 0.6-3.9c0.2-1.3 0.4-2.7 0.6-4c0.2-1.3 0.4-2.6 0.7-3.9c0.3-1.3 0.5-2.6 0.8-3.9c0.3-1.3 0.6-2.6 0.9-3.9c0.4-1.3 0.7-2.6 1.2-3.8c0.5-1.3 1-2.7 1.8-3.7c0.7-1 1.8-2.4 2.7-2.4c0.9-0.1 1.9 1.2 2.6 2.2c0.7 1 1 2.5 1.5 3.8c0.4 1.3 0.8 2.5 1.2 3.8c0.3 1.3 0.5 2.6 0.7 4c0.2 1.3 0.4 2.6 0.6 3.9c0.1 1.3 0.3 2.7 0.5 4c0.1 1.3 0.3 2.6 0.5 3.9c0.2 1.4 0.4 2.7 0.6 4c0.2 1.3 0.4 2.6 0.6 4c0.2 1.3 0.4 2.6 0.5 3.9c0.2 1.3 0.4 2.7 0.6 4c0.2 1.3 0.4 2.6 0.6 3.9c0.2 1.4 0.4 2.7 0.6 4c0.2 1.3 0.4 2.6 0.6 3.9c0.2 1.4 0.4 2.7 0.6 4c0.2 1.3 0.4 2.6 0.6 4c0.2 1.3 0.4 2.6 0.6 3.9c0.2 1.3 0.4 2.6 0.6 4c0.2 1.3 0.4 2.6 0.6 3.9c0.1 1.3 0.3 2.7 0.5 4c0.2 1.3 0.4 2.6 0.6 3.9c0.2 1.4 0.4 2.7 0.6 4c0.2 1.3 0.5 2.6 0.7 3.9c0.3 1.3 0.5 2.7 0.7 4c0.3 1.3 0.5 2.6 0.8 3.9c0.3 1.3 0.7 2.6 1.1 3.8c0.4 1.3 0.8 2.7 1.5 3.8c0.7 1.1 1.6 2.3 2.6 2.6c1.1 0.3 2.7-0.1 3.8-0.7c1-0.6 1.8-1.9 2.6-2.9c0.8-1.1 1.4-2.4 2.2-3.4c0.8-1.1 1.7-2.7 2.6-2.9c0.8-0.3 2 0.5 2.7 1.4c0.8 0.9 1.2 2.5 1.7 3.7c0.6 1.3 1.1 2.5 1.5 3.7c0.5 1.3 0.9 2.5 1.3 3.8c0.4 1.3 0.7 2.6 1.1 3.9c0.4 1.2 0.8 2.6 1.4 3.7c0.5 1.2 1.3 2.3 2.2 3.3c0.9 1 1.9 1.9 3 2.7c1 0.8 2.2 1.5 3.3 2.1c1.2 0.7 2.4 1.2 3.6 1.8c1.3 0.5 2.5 1 3.7 1.6c1.2 0.5 2.4 1.2 3.7 1.5c1.3 0.4 2.6 0.7 3.9 0.6c1.2-0.2 2.5-0.9 3.6-1.6c1.1-0.7 2.1-1.7 3-2.7c0.8-1 1.6-2.1 2.2-3.3c0.6-1.2 1-2.5 1.4-3.7c0.5-1.3 0.9-2.6 1.3-3.8c0.5-1.3 0.9-2.6 1.2-3.8c0.4-1.3 0.7-2.6 1.1-3.9c0.3-1.3 0.6-2.6 1-3.9c0.4-1.2 0.8-2.5 1.2-3.8c0.5-1.2 1-2.5 1.5-3.7c0.6-1.2 1.2-2.4 2-3.4c0.8-1.1 1.7-2.2 2.8-3c1-0.7 2.3-1.5 3.5-1.4c1.1 0 2.3 1.1 3.4 1.7c1.1 0.7 2.1 1.7 3.4 2.1c1.2 0.5 2.6 0.4 3.9 0.7c1.3 0.2 2.7 0.3 3.8 0.9c1.1 0.6 2 1.7 3 2.7c0.9 0.9 1.6 2.1 2.5 3.1c0.8 1.1 1.6 2.1 2.4 3.2c0.8 1.1 1.5 2.2 2.3 3.3c0.7 1.1 1.4 2.2 2.2 3.3c0.7 1.1 1.4 2.3 2.1 3.4c0.7 1.1 1.4 2.3 2.1 3.4c0.8 1.1 1.6 2.1 2.5 3.1c0.9 1 1.9 2.3 2.9 2.9c1.1 0.5 2.5 0.9 3.4 0.4c1-0.4 1.7-2 2.4-3.1c0.6-1.1 1.1-2.4 1.6-3.7c0.5-1.2 0.9-2.5 1.3-3.8c0.3-1.3 0.6-2.6 0.9-3.9c0.2-1.3 0.5-2.6 0.7-3.9c0.3-1.3 0.6-2.6 0.8-3.9c0.3-1.3 0.6-2.6 0.9-3.9c0.3-1.3 0.6-2.6 0.8-3.9c0.3-1.3 0.6-2.6 0.8-4c0.2-1.3 0.4-2.6 0.5-3.9c0.2-1.3 0.4-2.7 0.5-4c0.2-1.3 0.3-2.6 0.4-4c0.2-1.3 0.3-2.6 0.4-4c0.1-1.3 0.2-2.6 0.4-3.9c0.1-1.4 0.2-2.7 0.3-4c0.1-1.4 0.2-2.7 0.3-4c0.1-1.3 0.2-2.7 0.3-4c0.1-1.3 0.2-2.7 0.3-4c0.1-1.3 0.2-2.7 0.3-4c0.1-1.3 0.2-2.6 0.3-4c0.1-1.3 0.2-2.6 0.3-4c0-1.3 0.1-2.6 0.2-4c0.1-1.3 0.1-2.6 0.2-3.9c0.1-1.4 0.2-2.7 0.2-4c0.1-1.4 0.2-2.7 0.3-4c0-1.4 0.1-2.7 0.2-4c0.1-1.4 0.1-2.7 0.2-4c0.1-1.4 0.2-2.7 0.3-4c0-1.3 0.1-2.7 0.2-4c0.1-1.3 0.2-2.7 0.3-4c0.1-1.3 0.2-2.7 0.3-4c0.1-1.3 0.2-2.6 0.3-4c0.1-1.3 0.2-2.6 0.3-4c0.1-1.3 0.2-2.6 0.4-3.9c0.1-1.4 0.2-2.7 0.3-4c0.1-1.4 0.2-2.7 0.3-4c0.1-1.4 0.2-2.7 0.3-4c0.1-1.3 0.2-2.7 0.2-4c0.1-1.3 0.2-2.7 0.3-4c0.1-1.3 0.1-2.7 0.2-4c0.1-1.3 0.2-2.7 0.2-4c0.1-1.3 0.2-2.6 0.2-4c0.1-1.3 0.1-2.6 0.2-4c0.1-1.3 0.1-2.6 0.2-4c0-1.3 0.1-2.6 0.2-4c0-1.3 0.1-2.6 0.2-4c0-1.3 0.1-2.6 0.2-4c0-1.3 0.1-2.6 0.2-4c0-1.3 0.1-2.6 0.2-3.9c0.1-1.4 0.2-2.7 0.3-4c0.1-1.4 0.2-2.7 0.2-4c0.1-1.4 0.2-2.7 0.3-4c0.1-1.3 0.2-2.7 0.3-4c0.1-1.3 0.2-2.7 0.4-4c0.1-1.3 0.2-2.6 0.3-4c0.1-1.3 0.2-2.6 0.3-4c0.1-1.3 0.2-2.6 0.3-4c0.1-1.3 0.2-2.6 0.3-3.9c0.1-1.4 0.2-2.7 0.3-4c0.1-1.4 0.2-2.7 0.3-4c0.1-1.4 0.2-2.7 0.3-4c0.1-1.3 0.2-2.7 0.2-4c0.1-1.3 0.2-2.7 0.3-4c0.1-1.3 0.2-2.7 0.3-4c0.1-1.3 0.2-2.6 0.3-4c0.1-1.3 0.2-2.6 0.3-4c0.1-1.3 0.2-2.6 0.3-3.9c0.1-1.4 0.3-2.7 0.4-4c0.1-1.4 0.3-2.7 0.4-4c0.2-1.3 0.3-2.7 0.5-4c0.2-1.3 0.4-2.6 0.6-3.9c0.1-1.4 0.3-2.7 0.5-4c0.3-1.3 0.5-2.6 0.7-3.9c0.3-1.4 0.5-2.7 0.7-4c0.2-1.3 0.4-2.8 0.7-4c0.3-1.2 0.8-3.1 1.2-3.3c0.5-0.2 1.2 1.1 1.6 2.1c0.4 1 0.6 2.7 0.8 4.1c0.3 1.3 0.6 2.6 0.8 3.9c0.2 1.3 0.5 2.6 0.7 3.9c0.2 1.3 0.4 2.7 0.6 4c0.1 1.3 0.3 2.6 0.4 4c0.2 1.3 0.4 2.6 0.5 3.9c0.1 1.4 0.3 2.7 0.4 4c0.2 1.3 0.3 2.7 0.4 4c0.1 1.3 0.2 2.7 0.3 4c0.1 1.3 0.2 2.6 0.3 4c0.1 1.3 0.2 2.6 0.3 4c0.1 1.3 0.2 2.6 0.3 4c0.1 1.3 0.2 2.6 0.3 3.9c0.1 1.4 0.1 2.7 0.2 4c0.1 1.4 0.2 2.7 0.3 4c0.1 1.4 0.2 2.7 0.3 4c0.1 1.3 0.2 2.7 0.3 4c0.1 1.3 0.3 2.7 0.4 4c0.1 1.3 0.2 2.6 0.3 4c0.2 1.3 0.3 2.6 0.4 3.9c0.1 1.4 0.3 2.7 0.4 4c0.1 1.4 0.3 2.7 0.4 4c0.1 1.3 0.2 2.7 0.4 4c0.1 1.3 0.2 2.6 0.3 4c0.2 1.3 0.3 2.6 0.4 4c0.1 1.3 0.2 2.6 0.4 3.9c0.1 1.4 0.2 2.7 0.3 4c0.1 1.4 0.3 2.7 0.4 4c0.1 1.3 0.2 2.7 0.3 4c0.2 1.3 0.3 2.6 0.4 4c0.2 1.3 0.3 2.6 0.4 4c0.2 1.3 0.3 2.6 0.4 3.9c0.2 1.4 0.3 2.7 0.5 4c0.1 1.3 0.2 2.7 0.4 4c0.1 1.3 0.3 2.6 0.5 4c0.2 1.3 0.4 2.6 0.6 3.9c0.3 1.3 0.5 2.6 0.8 3.9c0.3 1.3 0.5 2.7 0.9 4c0.4 1.2 0.9 3.2 1.5 3.6c0.6 0.4 1.5-0.4 2-1.2c0.4-0.9 0.7-2.7 0.9-4.1c0.3-1.3 0.5-2.6 0.8-3.9c0.2-1.3 0.5-2.6 0.7-3.9c0.2-1.3 0.5-2.7 0.7-4c0.3-1.3 0.5-2.6 0.7-3.9c0.2-1.3 0.4-2.6 0.6-4c0.2-1.3 0.4-2.6 0.6-3.9c0.2-1.3 0.4-2.7 0.5-4c0.2-1.3 0.4-2.6 0.7-3.9c0.2-1.3 0.4-2.7 0.7-4c0.2-1.3 0.4-2.6 0.7-3.9c0.2-1.3 0.4-2.6 0.6-4c0.3-1.3 0.5-2.6 0.8-3.9c0.2-1.3 0.4-2.9 0.8-4c0.4-1.1 1.1-2.7 1.7-2.7c0.7 0.1 1.5 1.7 2 2.8c0.5 1.1 0.7 2.6 1 3.9c0.4 1.4 0.7 2.6 0.9 3.9c0.3 1.4 0.6 2.7 0.8 4c0.3 1.3 0.4 2.6 0.6 3.9c0.2 1.3 0.3 2.7 0.4 4c0.2 1.3 0.3 2.7 0.4 4c0.1 1.3 0.2 2.6 0.4 4c0.1 1.3 0.2 2.6 0.3 4c0.1 1.3 0.2 2.6 0.3 3.9c0.2 1.4 0.3 2.7 0.4 4c0.1 1.4 0.2 2.7 0.3 4c0.1 1.3 0.2 2.7 0.4 4c0.1 1.3 0.2 2.7 0.3 4c0.1 1.3 0.2 2.6 0.3 4c0.1 1.3 0.2 2.6 0.3 4c0.1 1.3 0.2 2.6 0.3 3.9c0.1 1.4 0.2 2.7 0.3 4c0.1 1.4 0.2 2.7 0.3 4c0.1 1.4 0.2 2.7 0.3 4c0.2 1.3 0.3 2.7 0.4 4c0.1 1.3 0.2 2.7 0.3 4c0.1 1.3 0.2 2.6 0.3 4c0.1 1.3 0.2 2.6 0.3 4c0.1 1.3 0.2 2.6 0.3 3.9c0.2 1.4 0.3 2.7 0.4 4c0.1 1.4 0.2 2.7 0.3 4c0.1 1.3 0.2 2.7 0.3 4c0.2 1.3 0.3 2.7 0.4 4c0.1 1.3 0.2 2.6 0.3 4c0.2 1.3 0.3 2.6 0.4 4c0.1 1.3 0.2 2.6 0.4 3.9c0.1 1.4 0.2 2.7 0.3 4c0.1 1.4 0.3 2.7 0.4 4c0.1 1.3 0.3 2.7 0.4 4c0.1 1.3 0.2 2.6 0.4 4c0.1 1.3 0.2 2.6 0.4 3.9c0.1 1.4 0.3 2.7 0.4 4c0.1 1.4 0.3 2.7 0.4 4c0.1 1.3 0.3 2.7 0.4 4c0.2 1.3 0.3 2.6 0.5 4c0.1 1.3 0.2 2.6 0.4 3.9c0.1 1.4 0.3 2.7 0.4 4c0.1 1.3 0.3 2.7 0.4 4c0.2 1.3 0.4 2.6 0.5 4c0.2 1.3 0.4 2.6 0.6 3.9c0.2 1.3 0.4 2.7 0.6 4c0.2 1.3 0.4 2.6 0.6 3.9c0.2 1.3 0.5 2.7 0.7 4c0.2 1.3 0.5 2.6 0.8 3.9c0.3 1.3 0.6 2.6 1.1 3.8c0.5 1.3 1.1 2.5 1.7 3.6c0.7 1.2 1.3 2.4 2.2 3.4c0.8 1 1.8 2.2 2.9 2.6c1.1 0.4 2.6 0.1 3.8-0.4c1.2-0.4 2.3-1.4 3.4-2.1c1.1-0.7 2.2-1.5 3.4-2.1c1.2-0.6 2.5-1 3.7-1.6c1.2-0.6 2.4-1.1 3.6-1.8c1.1-0.6 2.2-1.4 3.2-2.3c1-0.9 1.9-1.9 2.7-2.9c0.8-1.1 1.6-2.2 2.3-3.3c0.7-1.1 1.4-2.3 1.9-3.5c0.6-1.2 1-2.5 1.5-3.7c0.4-1.3 0.8-2.6 1.2-3.8c0.4-1.3 0.7-2.6 1.1-3.9c0.4-1.3 0.8-2.5 1.2-3.8c0.3-1.3 0.7-2.6 1.1-3.8c0.4-1.3 0.8-2.6 1.2-3.9c0.4-1.2 0.7-2.5 1.1-3.8c0.4-1.3 0.8-2.6 1.1-3.8c0.4-1.3 0.8-2.6 1.2-3.9c0.4-1.2 0.8-2.5 1.2-3.8c0.4-1.3 0.8-2.5 1.3-3.8c0.4-1.2 0.8-2.5 1.3-3.8c0.4-1.2 0.8-2.5 1.2-3.8c0.5-1.2 0.9-2.5 1.3-3.8c0.4-1.2 0.8-2.5 1.2-3.8c0.4-1.2 0.7-2.5 1.1-3.8c0.4-1.3 0.8-2.6 1.2-3.8c0.3-1.3 0.7-2.6 1.1-3.9c0.4-1.3 0.8-2.5 1.1-3.8c0.4-1.3 0.8-2.6 1.2-3.8c0.4-1.3 0.7-2.6 1.1-3.9c0.4-1.3 0.7-2.5 1.1-3.8c0.4-1.3 0.8-2.6 1.2-3.9c0.4-1.2 0.8-2.5 1.2-3.8c0.4-1.2 0.8-2.5 1.2-3.8c0.4-1.3 0.8-2.5 1.2-3.8c0.4-1.3 0.8-2.5 1.3-3.8c0.5-1.2 1.1-2.4 1.7-3.6c0.6-1.2 1.3-2.3 2-3.4c0.8-1.2 1.4-2.4 2.3-3.4c0.9-0.9 2.1-2.2 3.1-2.3c1-0.1 2.2 0.8 3 1.7c0.7 0.9 1.2 2.5 1.7 3.7c0.5 1.2 0.9 2.5 1.4 3.8c0.4 1.2 0.9 2.5 1.2 3.8c0.4 1.3 0.6 2.6 0.9 3.9c0.3 1.3 0.5 2.6 0.7 3.9c0.2 1.3 0.4 2.6 0.6 4c0.3 1.3 0.5 2.6 0.7 3.9c0.2 1.3 0.4 2.6 0.6 4c0.2 1.3 0.3 2.6 0.5 3.9c0.2 1.3 0.4 2.7 0.5 4c0.2 1.3 0.4 2.6 0.5 4c0.2 1.3 0.3 2.6 0.5 3.9c0.2 1.4 0.3 2.7 0.5 4c0.1 1.3 0.3 2.6 0.4 4c0.2 1.3 0.4 2.6 0.5 3.9c0.2 1.4 0.3 2.7 0.4 4c0.2 1.3 0.3 2.7 0.5 4c0.1 1.3 0.3 2.6 0.4 4c0.2 1.3 0.3 2.6 0.5 3.9c0.1 1.4 0.3 2.7 0.5 4c0.1 1.3 0.3 2.7 0.5 4c0.2 1.3 0.4 2.6 0.6 3.9c0.2 1.4 0.4 2.7 0.6 4c0.2 1.3 0.4 2.6 0.6 3.9c0.3 1.4 0.5 2.7 0.7 4c0.3 1.3 0.5 2.6 0.8 3.9c0.3 1.3 0.6 2.6 0.9 3.9c0.3 1.3 0.6 2.6 0.9 3.9c0.3 1.3 0.6 2.6 1 3.9c0.3 1.3 0.7 2.6 1.1 3.8c0.4 1.3 0.9 2.5 1.5 3.7c0.5 1.3 1.1 2.5 1.7 3.7c0.6 1.2 1.1 2.4 1.8 3.5c0.8 1.1 1.8 2.8 2.6 3.1c0.8 0.3 1.7-0.4 2.1-1.3c0.5-0.9 0.4-2.7 0.6-4.1c0.2-1.3 0.4-2.6 0.6-3.9c0.2-1.4 0.5-2.7 0.7-4c0.2-1.3 0.5-2.6 0.7-3.9c0.2-1.3 0.5-2.7 0.7-4c0.2-1.3 0.4-2.6 0.7-3.9c0.2-1.3 0.4-2.6 0.6-4c0.2-1.3 0.4-2.6 0.6-3.9c0.2-1.3 0.4-2.6 0.6-4c0.2-1.3 0.4-2.6 0.6-3.9c0.1-1.3 0.3-2.7 0.5-4c0.1-1.3 0.3-2.6 0.4-4c0.2-1.3 0.3-2.6 0.5-3.9c0.1-1.4 0.3-2.7 0.5-4c0.1-1.3 0.3-2.7 0.5-4c0.2-1.3 0.4-2.6 0.6-3.9c0.3-1.3 0.5-2.6 0.8-4c0.2-1.3 0.5-2.6 0.7-3.9c0.3-1.3 0.6-2.6 0.9-3.9c0.3-1.3 0.6-2.6 0.9-3.9c0.3-1.3 0.6-2.6 0.9-3.9c0.3-1.3 0.6-2.6 0.9-3.9c0.4-1.3 0.7-2.6 1.1-3.8c0.5-1.3 1-2.5 1.7-3.7c0.7-1.1 1.6-2.6 2.6-3.1c0.9-0.5 2.2-0.3 3 0.3c0.8 0.7 1.2 2.5 1.7 3.7c0.5 1.3 0.8 2.6 1.2 3.8c0.4 1.3 0.7 2.6 1 3.9c0.3 1.3 0.6 2.6 0.8 3.9c0.2 1.4 0.4 2.7 0.6 4c0.2 1.3 0.4 2.6 0.6 3.9c0.2 1.4 0.4 2.7 0.6 4c0.2 1.3 0.4 2.6 0.6 4c0.1 1.3 0.3 2.6 0.5 3.9c0.2 1.3 0.4 2.7 0.6 4c0.2 1.3 0.4 2.6 0.6 3.9c0.2 1.4 0.4 2.7 0.6 4c0.3 1.3 0.5 2.6 0.7 3.9c0.3 1.3 0.5 2.6 0.8 3.9c0.3 1.4 0.5 2.7 0.8 4c0.3 1.3 0.5 2.6 0.8 3.9c0.3 1.3 0.6 2.6 0.9 3.9c0.2 1.3 0.5 2.6 0.8 3.9c0.2 1.3 0.5 2.6 0.8 3.9c0.3 1.3 0.5 2.6 0.8 3.9c0.3 1.3 0.6 2.6 1 3.9c0.3 1.3 0.6 2.6 1 3.9c0.4 1.3 0.7 2.6 1.1 3.8c0.4 1.3 0.8 2.6 1.3 3.8c0.5 1.2 1.2 2.4 1.9 3.5c0.7 1.2 1.5 2.6 2.5 3.3c1 0.6 2.3 1.1 3.3 0.7c0.9-0.4 1.7-2 2.5-3.1c0.7-1.1 1.2-2.3 1.9-3.5c0.6-1.2 1.3-2.4 1.9-3.5c0.6-1.2 1.1-2.5 1.7-3.7c0.6-1.2 1.2-2.4 1.8-3.5c0.6-1.2 1.3-2.4 2-3.5c0.6-1.1 1.3-2.3 2.1-3.4c0.8-1 1.6-2.1 2.6-3.1c0.9-0.9 1.9-1.9 2.9-2.6c1.1-0.8 2.3-1.7 3.5-2.1c1.2-0.3 2.6-0.5 3.7 0c1.1 0.4 2 1.7 3 2.6c1 0.8 1.9 1.8 3 2.6c1.1 0.7 2.4 1.6 3.6 1.9c1.2 0.3 2.6 0.3 3.6-0.2c1.1-0.6 1.8-2 2.6-3.1c0.7-1.1 1.3-2.3 1.9-3.5c0.5-1.2 1-2.5 1.4-3.8c0.4-1.2 0.7-2.5 1-3.8c0.3-1.3 0.6-2.6 0.8-4c0.3-1.3 0.5-2.6 0.7-3.9c0.2-1.3 0.3-2.6 0.5-4c0.1-1.3 0.3-2.6 0.4-3.9c0.1-1.4 0.3-2.7 0.4-4c0.1-1.4 0.2-2.7 0.3-4c0.1-1.3 0.2-2.7 0.4-4c0.1-1.3 0.2-2.7 0.3-4c0.1-1.3 0.2-2.6 0.3-4c0.1-1.3 0.2-2.6 0.3-4c0.1-1.3 0.2-2.6 0.3-3.9c0.1-1.4 0.2-2.7 0.2-4c0.1-1.4 0.2-2.7 0.3-4c0.1-1.4 0.2-2.7 0.2-4c0.1-1.4 0.2-2.7 0.3-4c0.1-1.3 0.2-2.7 0.3-4c0.1-1.3 0.1-2.7 0.2-4c0.1-1.3 0.2-2.7 0.3-4c0.1-1.3 0.2-2.6 0.3-4c0.1-1.3 0.2-2.6 0.3-4c0-1.3 0.1-2.6 0.2-4c0.1-1.3 0.2-2.6 0.3-4c0.1-1.3 0.2-2.6 0.2-3.9c0.1-1.4 0.2-2.7 0.3-4c0-1.4 0.1-2.7 0.2-4c0.1-1.4 0.1-2.7 0.2-4c0.1-1.4 0.1-2.7 0.2-4c0.1-1.4 0.1-2.7 0.2-4c0.1-1.3 0.1-2.7 0.2-4c0.1-1.3 0.2-2.7 0.2-4c0.1-1.3 0.2-2.7 0.3-4c0-1.3 0.1-2.7 0.2-4c0.1-1.3 0.1-2.7 0.2-4c0.1-1.3 0.2-2.6 0.2-4c0.1-1.3 0.2-2.6 0.3-4c0.1-1.3 0.2-2.6 0.2-4c0.1-1.3 0.2-2.6 0.3-4c0.1-1.3 0.1-2.6 0.2-3.9c0.1-1.4 0.2-2.7 0.3-4c0.1-1.4 0.1-2.7 0.2-4c0.1-1.4 0.2-2.7 0.2-4c0.1-1.4 0.2-2.7 0.3-4c0.1-1.4 0.2-2.7 0.2-4c0.1-1.3 0.2-2.7 0.3-4c0.1-1.3 0.2-2.7 0.4-4c0.1-1.3 0.2-2.6 0.4-4c0.2-1.3 0.3-2.6 0.5-3.9c0.2-1.3 0.4-2.7 0.6-4c0.3-1.3 0.5-2.6 0.8-3.9c0.4-1.3 0.8-2.6 1.2-3.8c0.4-1.3 0.8-2.6 1.3-3.8c0.5-1.3 0.9-2.9 1.7-3.7c0.8-0.8 2-1.5 2.9-1.1c0.8 0.4 1.6 2.1 2.2 3.2c0.6 1.2 0.9 2.6 1.4 3.8c0.4 1.3 0.8 2.6 1.2 3.8c0.3 1.3 0.6 2.6 0.9 3.9c0.2 1.3 0.4 2.7 0.6 4c0.2 1.3 0.4 2.6 0.5 4c0.2 1.3 0.4 2.6 0.5 3.9c0.2 1.3 0.4 2.7 0.5 4c0.2 1.3 0.3 2.6 0.5 4c0.1 1.3 0.2 2.6 0.3 3.9c0.2 1.4 0.3 2.7 0.4 4c0.1 1.4 0.2 2.7 0.3 4c0.2 1.3 0.3 2.7 0.4 4c0.1 1.3 0.2 2.7 0.3 4c0.2 1.3 0.3 2.6 0.4 4c0.1 1.3 0.2 2.6 0.3 4c0.2 1.3 0.3 2.6 0.4 3.9c0.1 1.4 0.2 2.7 0.3 4c0.1 1.4 0.3 2.7 0.4 4c0.1 1.3 0.2 2.7 0.3 4c0.1 1.3 0.2 2.7 0.4 4c0.1 1.3 0.2 2.6 0.3 4c0.1 1.3 0.2 2.6 0.3 4c0.1 1.3 0.3 2.6 0.4 3.9c0.1 1.4 0.2 2.7 0.3 4c0.1 1.4 0.2 2.7 0.3 4c0.1 1.3 0.3 2.7 0.4 4c0.1 1.3 0.2 2.7 0.3 4c0.2 1.3 0.3 2.6 0.4 4c0.1 1.3 0.3 2.6 0.4 3.9c0.2 1.4 0.3 2.7 0.4 4c0.2 1.3 0.3 2.7 0.5 4c0.1 1.3 0.3 2.6 0.5 4c0.2 1.3 0.4 2.6 0.6 3.9c0.2 1.3 0.5 2.6 0.7 3.9c0.3 1.4 0.5 2.7 0.8 4c0.3 1.3 0.6 3.1 1.1 4c0.5 0.8 1.4 1.5 2 1.1c0.6-0.4 1.1-2.3 1.5-3.6c0.4-1.3 0.6-2.6 0.9-3.9c0.3-1.3 0.6-2.6 0.9-3.9c0.2-1.3 0.5-2.7 0.7-4c0.2-1.3 0.4-2.6 0.6-3.9c0.1-1.4 0.3-2.7 0.5-4c0.1-1.3 0.3-2.7 0.4-4c0.2-1.3 0.3-2.6 0.5-4c0.1-1.3 0.3-2.6 0.4-3.9c0.1-1.4 0.3-2.7 0.4-4c0.1-1.3 0.2-2.7 0.3-4c0.1-1.3 0.3-2.7 0.4-4c0.1-1.3 0.2-2.6 0.3-4c0.1-1.3 0.2-2.6 0.3-4c0.1-1.3 0.2-2.6 0.3-3.9c0.1-1.4 0.3-2.7 0.4-4c0.1-1.4 0.2-2.7 0.3-4c0.1-1.3 0.2-2.7 0.3-4c0.1-1.3 0.2-2.7 0.3-4c0.1-1.3 0.2-2.7 0.3-4c0.1-1.3 0.2-2.6 0.3-4c0.1-1.3 0.2-2.6 0.3-4c0.2-1.3 0.3-2.6 0.4-3.9c0.1-1.4 0.2-2.7 0.4-4c0.1-1.3 0.2-2.7 0.3-4c0.2-1.3 0.3-2.7 0.4-4c0.2-1.3 0.3-2.6 0.5-4c0.1-1.3 0.3-2.6 0.5-3.9c0.2-1.3 0.4-2.7 0.7-4c0.2-1.3 0.5-2.6 0.8-3.9c0.3-1.3 0.5-2.6 0.9-3.9c0.4-1.2 0.9-2.5 1.5-3.7c0.7-1.1 1.5-2.2 2.5-3.1c1-0.8 2.3-1.4 3.5-1.8c1.2-0.5 2.6-0.6 3.9-0.9c1.3-0.3 2.6-0.8 3.9-0.9c1.3-0.2 2.8-0.6 3.9-0.1c1.1 0.4 1.9 1.6 2.6 2.7c0.7 1.1 1.2 2.4 1.7 3.7c0.4 1.2 0.8 2.5 1.1 3.8c0.3 1.3 0.5 2.6 0.7 4c0.2 1.3 0.4 2.6 0.6 3.9c0.2 1.3 0.3 2.7 0.5 4c0.1 1.3 0.3 2.6 0.4 4c0.2 1.3 0.3 2.6 0.4 3.9c0.1 1.4 0.2 2.7 0.3 4c0.1 1.4 0.1 2.7 0.2 4c0.1 1.3 0.2 2.7 0.3 4c0.1 1.3 0.2 2.7 0.2 4c0.1 1.3 0.2 2.7 0.3 4c0.1 1.3 0.2 2.7 0.3 4c0.1 1.3 0.2 2.6 0.2 4c0.1 1.3 0.2 2.6 0.3 4c0.1 1.3 0.2 2.6 0.3 4c0.1 1.3 0.2 2.6 0.2 3.9c0.1 1.4 0.2 2.7 0.3 4c0.1 1.4 0.2 2.7 0.3 4c0.1 1.4 0.1 2.7 0.2 4c0.1 1.4 0.2 2.7 0.3 4c0.1 1.3 0.2 2.7 0.3 4c0.1 1.3 0.1 2.7 0.2 4c0.1 1.3 0.2 2.7 0.3 4c0.1 1.3 0.2 2.6 0.3 4c0.1 1.3 0.1 2.6 0.2 4c0.1 1.3 0.2 2.6 0.3 4c0.1 1.3 0.2 2.6 0.3 4c0 1.3 0.1 2.6 0.2 3.9c0.1 1.4 0.2 2.7 0.3 4c0.1 1.4 0.2 2.7 0.2 4c0.1 1.4 0.2 2.7 0.3 4c0.1 1.3 0.2 2.7 0.3 4c0.1 1.3 0.2 2.7 0.2 4c0.1 1.3 0.2 2.7 0.3 4c0.1 1.3 0.2 2.6 0.3 4c0.1 1.3 0.2 2.6 0.4 4c0.1 1.3 0.2 2.6 0.3 4c0.1 1.3 0.2 2.6 0.3 3.9c0.1 1.4 0.2 2.7 0.3 4c0.1 1.4 0.2 2.7 0.4 4c0.1 1.3 0.2 2.7 0.3 4c0.1 1.3 0.2 2.7 0.3 4c0.1 1.3 0.2 2.6 0.3 4c0.1 1.3 0.2 2.6 0.3 4c0.1 1.3 0.2 2.6 0.4 3.9c0.1 1.4 0.2 2.7 0.3 4c0.1 1.4 0.2 2.7 0.4 4c0.1 1.3 0.2 2.7 0.4 4c0.1 1.3 0.3 2.6 0.5 4c0.2 1.3 0.4 2.6 0.6 3.9c0.2 1.3 0.4 2.7 0.6 4c0.2 1.3 0.5 2.6 0.8 3.9c0.2 1.3 0.5 2.6 0.8 3.9c0.3 1.3 0.6 2.6 0.9 3.9c0.3 1.3 0.5 2.9 1 4c0.5 1.1 1.3 2.5 2 2.5c0.8 0 1.9-1.4 2.6-2.4c0.8-1 1.3-2.5 1.9-3.6c0.6-1.2 1.3-2.4 1.9-3.6c0.6-1.2 1.1-2.4 1.7-3.6c0.5-1.2 1-2.5 1.5-3.7c0.5-1.2 1-2.5 1.4-3.7c0.5-1.3 0.9-2.6 1.3-3.8c0.4-1.3 0.8-2.6 1.1-3.9c0.4-1.3 0.8-2.5 1.1-3.8c0.3-1.3 0.7-2.6 1-3.9c0.3-1.3 0.6-2.6 0.9-3.9c0.3-1.3 0.6-2.6 0.9-3.9c0.3-1.3 0.6-2.6 0.9-3.9c0.3-1.3 0.5-2.6 0.8-3.9c0.2-1.3 0.5-2.6 0.7-4c0.2-1.3 0.4-2.6 0.6-3.9c0.1-1.3 0.3-2.7 0.5-4c0.1-1.3 0.2-2.6 0.4-4c0.1-1.3 0.2-2.6 0.4-3.9c0.1-1.4 0.2-2.7 0.3-4c0.1-1.4 0.3-2.7 0.4-4c0.1-1.3 0.2-2.7 0.3-4c0.2-1.3 0.3-2.6 0.4-4c0.2-1.3 0.3-2.6 0.4-4c0.2-1.3 0.3-2.6 0.4-3.9c0.2-1.4 0.3-2.7 0.4-4c0.2-1.3 0.3-2.7 0.4-4c0.2-1.3 0.3-2.6 0.4-4c0.1-1.3 0.3-2.6 0.4-4c0.1-1.3 0.3-2.6 0.4-3.9c0.1-1.4 0.3-2.7 0.4-4c0.1-1.3 0.3-2.7 0.4-4c0.1-1.3 0.2-2.7 0.4-4c0.1-1.3 0.2-2.6 0.3-4c0.1-1.3 0.3-2.6 0.4-3.9c0.1-1.4 0.3-2.7 0.4-4c0.1-1.4 0.3-2.7 0.4-4c0.2-1.3 0.3-2.7 0.5-4c0.2-1.3 0.4-2.6 0.6-3.9c0.1-1.4 0.3-2.7 0.5-4c0.2-1.3 0.4-2.6 0.7-3.9c0.2-1.4 0.5-2.7 0.8-4c0.3-1.3 0.6-2.5 1-3.8c0.3-1.3 0.7-2.6 1.1-3.9c0.3-1.3 0.6-2.6 1.1-3.8c0.6-1.3 1.1-3.1 1.9-3.6c0.7-0.4 1.9 0 2.6 0.8c0.7 0.8 1 2.5 1.4 3.8c0.5 1.3 0.7 2.6 1.1 3.9c0.3 1.3 0.6 2.6 0.8 3.9c0.3 1.3 0.5 2.6 0.7 4c0.2 1.3 0.3 2.6 0.5 3.9c0.1 1.4 0.2 2.7 0.3 4c0.1 1.3 0.2 2.7 0.4 4c0.1 1.3 0.2 2.7 0.3 4c0.1 1.3 0.2 2.6 0.3 4c0.1 1.3 0.2 2.6 0.3 4c0.1 1.3 0.3 2.6 0.4 3.9c0.1 1.4 0.2 2.7 0.3 4c0.1 1.4 0.2 2.7 0.4 4c0.1 1.3 0.2 2.7 0.3 4c0.1 1.3 0.2 2.7 0.3 4c0.2 1.3 0.3 2.6 0.4 4c0.1 1.3 0.2 2.6 0.3 4c0.1 1.3 0.3 2.6 0.4 3.9c0.1 1.4 0.2 2.7 0.3 4c0.2 1.4 0.3 2.7 0.4 4c0.1 1.3 0.3 2.7 0.4 4c0.1 1.3 0.2 2.6 0.3 4c0.2 1.3 0.3 2.6 0.4 4c0.1 1.3 0.3 2.6 0.4 3.9c0.1 1.4 0.3 2.7 0.4 4c0.1 1.3 0.3 2.7 0.4 4c0.1 1.3 0.3 2.7 0.4 4c0.1 1.3 0.3 2.6 0.4 4c0.1 1.3 0.3 2.6 0.4 3.9c0.1 1.4 0.3 2.7 0.4 4c0.2 1.3 0.3 2.7 0.5 4c0.1 1.3 0.3 2.6 0.4 4c0.2 1.3 0.4 2.6 0.6 3.9c0.1 1.4 0.3 2.7 0.5 4c0.2 1.3 0.4 2.6 0.5 4c0.2 1.3 0.4 2.6 0.6 3.9c0.2 1.3 0.4 2.6 0.7 4c0.2 1.3 0.4 2.6 0.6 3.9c0.3 1.3 0.6 2.6 0.8 3.9c0.3 1.3 0.6 2.6 0.9 3.9c0.3 1.3 0.5 2.6 0.9 3.9c0.3 1.3 0.6 2.6 0.9 3.9c0.4 1.3 0.7 2.6 1.2 3.8c0.4 1.3 1 2.5 1.6 3.7c0.6 1.2 1.3 2.4 2 3.5c0.7 1.1 1.3 2.4 2.2 3.3c0.9 1 2 2.3 3.1 2.5c1 0.2 2.4-0.4 3.3-1.1c0.9-0.8 1.5-2.3 2.1-3.5c0.7-1.1 1.2-2.4 1.7-3.6c0.6-1.2 1.1-2.4 1.6-3.7c0.5-1.2 1-2.4 1.4-3.7c0.4-1.3 0.7-2.6 1.1-3.9c0.3-1.3 0.6-2.6 0.9-3.9c0.4-1.2 0.7-2.5 1-3.8c0.3-1.3 0.7-2.6 1-3.9c0.3-1.3 0.7-2.6 1-3.9c0.3-1.3 0.7-2.6 1-3.9c0.3-1.2 0.6-2.5 0.9-3.8c0.3-1.3 0.6-2.6 0.9-3.9c0.3-1.3 0.6-2.6 0.9-3.9c0.3-1.3 0.6-2.6 0.9-3.9c0.3-1.4 0.5-2.7 0.8-4c0.2-1.3 0.4-2.6 0.6-3.9c0.2-1.3 0.4-2.6 0.6-4c0.2-1.3 0.3-2.6 0.5-3.9c0.1-1.4 0.3-2.7 0.4-4c0.1-1.3 0.2-2.7 0.4-4c0.1-1.3 0.2-2.7 0.3-4c0.2-1.3 0.3-2.6 0.4-4c0.1-1.3 0.2-2.6 0.4-4c0.1-1.3 0.2-2.6 0.3-3.9c0.2-1.4 0.3-2.7 0.4-4c0.2-1.3 0.3-2.7 0.4-4c0.2-1.3 0.3-2.6 0.4-4c0.2-1.3 0.3-2.6 0.4-4c0.2-1.3 0.3-2.6 0.4-3.9c0.2-1.4 0.3-2.7 0.4-4c0.2-1.3 0.3-2.7 0.4-4c0.2-1.3 0.3-2.6 0.4-4c0.2-1.3 0.3-2.6 0.4-4c0.1-1.3 0.3-2.6 0.4-3.9c0.1-1.4 0.3-2.7 0.4-4c0.1-1.3 0.3-2.7 0.4-4c0.1-1.3 0.3-2.7 0.4-4c0.1-1.3 0.3-2.6 0.4-4c0.1-1.3 0.3-2.6 0.4-3.9c0.2-1.4 0.3-2.7 0.4-4c0.2-1.3 0.3-2.7 0.5-4c0.1-1.3 0.3-2.6 0.4-4c0.2-1.3 0.3-2.6 0.5-3.9c0.1-1.4 0.3-2.7 0.4-4c0.2-1.3 0.4-2.7 0.6-4c0.2-1.3 0.4-2.6 0.6-3.9c0.2-1.3 0.4-2.7 0.7-4c0.2-1.3 0.5-2.6 0.8-3.9c0.3-1.3 0.6-2.6 0.9-3.9c0.4-1.3 0.6-2.9 1.1-3.9c0.5-1.1 1.3-2.6 1.9-2.6c0.6 0.1 1.4 1.7 1.9 2.9c0.4 1.1 0.7 2.6 1 3.9c0.3 1.3 0.7 2.6 0.9 3.9c0.3 1.3 0.5 2.7 0.7 4c0.2 1.3 0.3 2.6 0.5 3.9c0.2 1.4 0.3 2.7 0.5 4c0.1 1.3 0.3 2.7 0.4 4c0.2 1.3 0.3 2.6 0.5 4c0.1 1.3 0.2 2.6 0.4 3.9c0.1 1.4 0.2 2.7 0.4 4c0.1 1.4 0.2 2.7 0.4 4c0.1 1.3 0.2 2.7 0.3 4c0.2 1.3 0.3 2.6 0.4 4c0.2 1.3 0.3 2.6 0.5 3.9c0.1 1.4 0.3 2.7 0.4 4c0.2 1.3 0.3 2.7 0.5 4c0.2 1.3 0.4 2.6 0.5 4c0.2 1.3 0.4 2.6 0.5 3.9c0.2 1.3 0.4 2.7 0.5 4c0.2 1.3 0.4 2.6 0.5 4c0.2 1.3 0.4 2.6 0.5 3.9c0.2 1.4 0.4 2.7 0.5 4c0.2 1.3 0.3 2.6 0.5 4c0.2 1.3 0.3 2.6 0.5 3.9c0.2 1.4 0.3 2.7 0.5 4c0.2 1.3 0.4 2.7 0.6 4c0.1 1.3 0.3 2.6 0.5 3.9c0.2 1.3 0.4 2.7 0.6 4c0.2 1.3 0.4 2.6 0.6 3.9c0.2 1.4 0.5 2.7 0.7 4c0.2 1.3 0.4 2.6 0.6 3.9c0.2 1.4 0.4 2.7 0.6 4c0.2 1.3 0.5 2.6 0.7 3.9c0.2 1.4 0.4 2.7 0.6 4c0.2 1.3 0.4 2.6 0.6 3.9c0.3 1.3 0.5 2.7 0.7 4c0.2 1.3 0.5 2.6 0.7 3.9c0.2 1.3 0.5 2.6 0.7 4c0.2 1.3 0.5 2.6 0.7 3.9c0.2 1.3 0.5 2.6 0.7 3.9c0.3 1.3 0.5 2.6 0.8 4c0.3 1.3 0.5 2.6 0.8 3.9c0.3 1.3 0.6 2.6 1 3.9c0.3 1.2 0.6 2.5 1 3.8c0.3 1.3 0.6 2.6 1.1 3.9c0.5 1.2 1 2.4 1.8 3.5c0.8 1 1.9 2.1 3 2.7c1.1 0.6 2.6 1.3 3.7 1c1.1-0.2 2.1-1.3 3-2.3c0.8-0.9 1.4-2.2 2.2-3.3c0.7-1.2 1.5-2.2 2.3-3.3c0.8-1.1 1.6-2.1 2.5-3.1c0.9-1 1.8-2.1 2.8-2.9c1.1-0.8 2.4-1.8 3.4-1.7c1.1 0 2.1 1.2 3 2.1c0.8 0.9 1.4 2.3 2.2 3.4c0.7 1.1 1.6 2.1 2.5 3.1c0.9 1 1.8 2.2 2.8 2.9c1 0.8 2.3 1.7 3.4 1.6c1.1 0 2.3-1 3.2-1.9c0.9-0.9 1.5-2.3 2.2-3.5c0.6-1.1 1.1-2.4 1.5-3.6c0.4-1.3 0.6-2.6 0.9-3.9c0.3-1.3 0.6-2.6 0.9-3.9c0.2-1.3 0.5-2.6 0.8-3.9c0.3-1.3 0.6-2.6 0.9-4c0.3-1.3 0.5-2.6 0.8-3.9c0.3-1.3 0.6-2.6 0.8-3.9c0.3-1.3 0.6-2.6 0.9-3.9c0.3-1.3 0.6-2.6 1-3.9c0.3-1.2 0.7-2.5 1.1-3.8c0.3-1.3 0.7-2.6 1.1-3.8c0.5-1.3 1-2.5 1.7-3.6c0.8-1.1 1.8-2.1 2.7-3c1-0.9 2-1.7 3-2.6c1-0.9 2.1-1.7 3-2.7c1-0.9 1.9-1.9 2.7-3c0.7-1 1.4-2.2 1.9-3.4c0.6-1.2 1.1-2.5 1.5-3.7c0.5-1.3 0.9-2.6 1.3-3.8c0.4-1.3 0.7-2.6 1.1-3.9c0.3-1.3 0.6-2.6 0.9-3.9c0.2-1.3 0.5-2.6 0.7-3.9c0.3-1.3 0.5-2.6 0.7-4c0.2-1.3 0.4-2.6 0.6-3.9c0.2-1.3 0.4-2.6 0.6-4c0.1-1.3 0.3-2.6 0.4-3.9c0.1-1.4 0.3-2.7 0.4-4c0.1-1.4 0.3-2.7 0.4-4c0.1-1.3 0.2-2.7 0.3-4c0.2-1.3 0.3-2.6 0.4-4c0.1-1.3 0.2-2.6 0.4-4c0.1-1.3 0.2-2.6 0.4-3.9c0.1-1.4 0.2-2.7 0.4-4c0.1-1.3 0.3-2.7 0.4-4c0.1-1.3 0.3-2.6 0.4-4c0.2-1.3 0.3-2.6 0.4-4c0.1-1.3 0.2-2.6 0.3-3.9c0.2-1.4 0.3-2.7 0.4-4c0.1-1.4 0.1-2.7 0.2-4c0.1-1.4 0.2-2.7 0.2-4c0.1-1.3 0.1-2.7 0.2-4c0-1.3 0.1-2.7 0.1-4c0.1-1.3 0.1-2.7 0.2-4c0.1-1.3 0.1-2.7 0.2-4c0.1-1.3 0.2-2.7 0.4-4c0.1-1.3 0.3-2.6 0.5-4c0.2-1.3 0.4-2.6 0.7-3.9c0.2-1.3 0.5-2.6 0.9-3.9c0.4-1.3 0.7-3.2 1.3-3.9c0.6-0.7 1.5-0.9 2.1-0.3c0.5 0.6 0.9 2.6 1.3 3.9c0.4 1.2 0.7 2.6 1 3.9c0.3 1.3 0.6 2.5 0.9 3.8c0.3 1.4 0.6 2.7 0.8 4c0.3 1.3 0.5 2.6 0.7 3.9c0.2 1.3 0.4 2.7 0.5 4c0.2 1.3 0.4 2.6 0.5 3.9c0.1 1.4 0.3 2.7 0.4 4c0.1 1.4 0.3 2.7 0.4 4c0.1 1.3 0.2 2.7 0.3 4c0.2 1.3 0.3 2.7 0.4 4c0.1 1.3 0.2 2.6 0.4 4c0.1 1.3 0.2 2.6 0.3 3.9c0.2 1.4 0.3 2.7 0.4 4c0.1 1.4 0.2 2.7 0.3 4c0.1 1.3 0.3 2.7 0.4 4c0.1 1.3 0.2 2.7 0.3 4c0.1 1.3 0.2 2.6 0.3 4c0.2 1.3 0.3 2.6 0.4 4c0.1 1.3 0.2 2.6 0.3 3.9c0.2 1.4 0.3 2.7 0.4 4c0.1 1.4 0.2 2.7 0.4 4c0.1 1.3 0.2 2.7 0.3 4c0.1 1.3 0.3 2.6 0.4 4c0.1 1.3 0.2 2.6 0.4 4c0.1 1.3 0.2 2.6 0.3 3.9c0.2 1.4 0.3 2.7 0.4 4c0.2 1.3 0.3 2.7 0.4 4c0.2 1.3 0.3 2.7 0.4 4c0.2 1.3 0.3 2.6 0.5 4c0.1 1.3 0.2 2.6 0.4 3.9c0.1 1.4 0.3 2.7 0.4 4c0.2 1.3 0.3 2.7 0.4 4c0.2 1.3 0.3 2.6 0.5 4c0.1 1.3 0.3 2.6 0.4 3.9c0.2 1.4 0.3 2.7 0.5 4c0.1 1.3 0.2 2.7 0.4 4c0.1 1.3 0.3 2.6 0.4 4c0.2 1.3 0.3 2.6 0.4 3.9c0.2 1.4 0.3 2.7 0.5 4c0.2 1.3 0.3 2.7 0.5 4c0.1 1.3 0.3 2.6 0.5 4c0.1 1.3 0.3 2.6 0.5 3.9c0.2 1.3 0.4 2.7 0.6 4c0.1 1.3 0.3 2.6 0.5 3.9c0.2 1.4 0.4 2.7 0.6 4c0.2 1.3 0.4 2.6 0.7 4c0.2 1.3 0.4 2.6 0.7 3.9c0.2 1.3 0.4 2.6 0.7 3.9c0.2 1.3 0.5 2.6 0.7 4c0.3 1.3 0.5 2.6 0.8 3.9c0.2 1.3 0.5 2.6 0.8 3.9c0.4 1.3 0.7 2.6 1.2 3.8c0.5 1.3 1 2.5 1.6 3.7c0.6 1.2 1.2 2.6 2 3.5c0.8 1 2 2.1 2.9 2c1 0 2-1.4 2.7-2.4c0.8-1 1.2-2.5 1.7-3.7c0.5-1.2 1-2.5 1.4-3.7c0.4-1.3 0.8-2.6 1.1-3.9c0.3-1.3 0.5-2.6 0.8-3.9c0.2-1.3 0.4-2.6 0.6-4c0.2-1.3 0.4-2.6 0.6-3.9c0.2-1.3 0.5-2.6 0.7-4c0.2-1.3 0.4-2.6 0.7-3.9c0.2-1.3 0.4-2.6 0.7-3.9c0.2-1.3 0.4-2.7 0.7-4c0.2-1.3 0.5-2.6 0.7-3.9c0.2-1.3 0.5-2.6 0.7-3.9c0.2-1.4 0.5-2.7 0.7-4c0.2-1.3 0.4-2.6 0.7-3.9c0.2-1.3 0.4-2.7 0.6-4c0.3-1.3 0.5-2.6 0.7-3.9c0.2-1.3 0.5-2.6 0.7-4c0.2-1.3 0.4-2.6 0.6-3.9c0.2-1.3 0.5-2.6 0.7-4c0.2-1.3 0.4-2.6 0.6-3.9c0.2-1.3 0.4-2.6 0.6-4c0.2-1.3 0.4-2.6 0.7-3.9c0.2-1.3 0.4-2.6 0.7-3.9c0.2-1.4 0.5-2.7 0.7-4c0.3-1.3 0.6-2.6 0.9-3.9c0.3-1.3 0.6-2.6 0.9-3.9c0.3-1.3 0.7-2.6 1-3.8c0.3-1.3 0.7-2.6 1.1-3.9c0.3-1.3 0.7-2.6 1.1-3.8c0.5-1.3 0.9-2.5 1.4-3.8c0.5-1.2 1-2.5 1.5-3.7c0.5-1.2 1-2.5 1.5-3.7c0.4-1.3 0.9-2.5 1.3-3.8c0.4-1.2 0.8-2.5 1.2-3.8c0.4-1.3 0.8-2.5 1.2-3.8c0.4-1.3 0.7-2.6 1.1-3.8c0.4-1.3 0.9-2.6 1.3-3.9c0.4-1.2 0.8-2.5 1.2-3.7c0.5-1.3 0.9-2.6 1.3-3.8c0.5-1.3 0.9-2.5 1.4-3.8c0.5-1.2 1-2.4 1.6-3.7c0.5-1.2 1-2.5 1.6-3.6c0.5-1.2 1.1-2.4 1.9-3.5c0.8-1.1 1.7-2.2 2.6-3.1c1-0.8 2.2-2 3.3-2.1c1.1-0.2 2.5 0.4 3.4 1.2c0.9 0.7 1.5 2.2 2.1 3.4c0.7 1.1 1.3 2.4 1.8 3.6c0.5 1.2 0.9 2.5 1.3 3.8c0.3 1.2 0.6 2.6 0.9 3.9c0.3 1.3 0.6 2.6 0.8 3.9c0.3 1.3 0.6 2.6 0.9 3.9c0.3 1.3 0.6 2.6 0.8 3.9c0.3 1.3 0.6 2.6 0.8 3.9c0.3 1.3 0.5 2.6 0.8 3.9c0.2 1.3 0.5 2.7 0.8 4c0.2 1.3 0.5 2.6 0.7 3.9c0.3 1.3 0.5 2.6 0.8 3.9c0.3 1.3 0.5 2.6 0.8 3.9c0.3 1.3 0.5 2.6 0.8 4c0.2 1.3 0.5 2.6 0.8 3.9c0.2 1.3 0.5 2.6 0.7 3.9c0.3 1.3 0.6 2.6 0.8 3.9c0.3 1.3 0.5 2.6 0.7 4c0.3 1.3 0.5 2.6 0.8 3.9c0.2 1.3 0.5 2.6 0.8 3.9c0.3 1.3 0.6 2.6 0.9 3.9c0.3 1.3 0.6 2.6 1 3.9c0.3 1.3 0.6 2.6 1 3.8c0.4 1.3 0.7 2.6 1.2 3.9c0.4 1.2 0.9 2.5 1.5 3.7c0.6 1.1 1.4 2.3 2.2 3.3c0.8 1.1 1.6 2.1 2.6 3c1 0.9 2.1 1.7 3.2 2.4c1.1 0.7 2.3 1.4 3.5 2c1.1 0.7 2.3 1.3 3.6 1.7c1.3 0.3 2.6 0.6 3.9 0.5c1.3 0 2.7-0.4 3.9-0.7c1.3-0.4 2.5-1 3.7-1.6c1.3-0.5 2.5-1.1 3.7-1.6c1.2-0.6 2.4-1.1 3.6-1.7c1.2-0.6 2.4-1.2 3.6-1.8c1.2-0.6 2.3-1.3 3.5-1.9c1.2-0.6 2.5-1.1 3.6-1.8c1.1-0.7 2.2-1.5 3.1-2.5c0.8-1 1.4-2.2 2.1-3.3c0.7-1.2 1.3-2.4 1.9-3.5c0.7-1.2 1.3-2.4 1.9-3.6c0.6-1.2 1.2-2.4 1.9-3.5c0.7-1.1 1.5-2.2 2.3-3.3c0.9-1 1.8-2.4 2.8-3c1-0.6 2.4-1 3.2-0.5c0.9 0.4 1.5 2.1 2 3.3c0.5 1.2 0.8 2.6 1.2 3.9c0.4 1.3 0.8 2.5 1.1 3.8c0.4 1.3 0.7 2.6 0.9 3.9c0.3 1.3 0.4 2.7 0.6 4c0.2 1.3 0.4 2.6 0.6 3.9c0.2 1.4 0.4 2.7 0.6 4c0.2 1.3 0.5 2.6 0.8 3.9c0.3 1.3 0.5 2.7 0.9 3.9c0.4 1.3 0.6 2.8 1.3 3.8c0.8 1 1.9 1.7 3.1 2.3c1.1 0.6 2.5 0.8 3.8 1.2c1.3 0.5 2.6 0.9 3.7 1.6c1.2 0.6 2.3 1.3 3.2 2.3c0.8 1 1.4 2.3 2 3.5c0.5 1.1 1 2.4 1.5 3.7c0.5 1.2 0.9 2.5 1.3 3.7c0.4 1.3 0.7 2.6 1.1 3.9c0.3 1.3 0.6 2.6 1 3.9c0.3 1.2 0.7 2.5 1.1 3.8c0.5 1.3 0.9 2.5 1.4 3.8c0.4 1.2 0.8 2.5 1.4 3.7c0.6 1.2 1.3 2.4 2.2 3.3c0.9 0.9 2.2 1.5 3.4 2.1c1.2 0.5 2.5 1 3.8 1.3c1.3 0.2 2.6 0.3 3.9 0.1c1.3-0.2 2.6-0.7 3.8-1.2c1.3-0.5 2.4-1.2 3.6-1.8c1.2-0.6 2.4-1.2 3.6-1.8c1.1-0.7 2.2-1.4 3.4-2.1c1.1-0.8 2.2-1.5 3.3-2.2c1.1-0.8 2.2-1.6 3.3-2.3c1.2-0.6 2.4-1.6 3.6-1.8c1.2-0.2 2.5 0.2 3.6 0.8c1.1 0.6 1.9 1.9 2.8 2.9c0.9 1 1.7 2 2.6 3c0.9 1 1.8 2 2.7 3c0.8 1 1.6 2.2 2.6 3c1 0.9 2.1 1.6 3.3 2.1c1.2 0.5 2.6 0.7 3.9 0.9c1.3 0.3 2.7 0.4 4 0.6c1.3 0.3 2.6 0.5 3.9 0.8c1.3 0.3 2.6 0.6 3.9 0.9c1.3 0.2 2.6 0.5 3.9 0.7c1.3 0.2 2.7 0.5 4 0.5c1.3-0.1 2.7-0.2 3.9-0.6c1.3-0.4 2.4-1.2 3.6-1.8c1.1-0.7 2.2-1.5 3.3-2.2c1.2-0.7 2.4-1.3 3.6-1.8c1.2-0.6 2.5-0.9 3.8-1.3c1.3-0.4 2.6-0.6 3.9-1c1.2-0.3 2.5-0.6 3.8-1c1.3-0.4 2.6-0.8 3.8-1.3c1.2-0.5 2.4-1.1 3.7-1.6c1.2-0.6 2.3-1.2 3.6-1.8c1.2-0.5 2.4-1.1 3.7-1.5c1.2-0.4 2.5-0.7 3.8-1c1.3-0.3 2.7-0.4 4-0.7c1.3-0.2 2.6-0.5 3.9-0.9c1.2-0.4 2.4-1.1 3.6-1.6c1.3-0.5 2.5-1.2 3.7-1.4c1.3-0.3 2.7-0.3 4-0.2c1.3 0.1 2.6 0.5 3.9 0.8c1.3 0.3 2.6 0.7 3.9 1.1c1.2 0.4 2.5 0.8 3.7 1.4c1.2 0.5 2.3 1.3 3.5 1.9c1.2 0.6 2.3 1.3 3.6 1.8c1.2 0.6 2.5 1 3.7 1.4c1.3 0.4 2.6 0.7 3.9 1.1c1.3 0.3 2.5 0.7 3.8 1.1c1.3 0.4 2.5 0.9 3.8 1.3c1.3 0.4 2.5 0.8 3.8 1.1c1.3 0.2 2.7 0.3 4 0.5c1.3 0.1 2.7 0.1 4 0.2c1.3 0 2.7 0.1 4 0.2c1.3 0.1 2.7 0.2 4 0.5c1.3 0.3 2.5 0.8 3.8 1.2c1.2 0.4 2.5 1 3.8 1.2c1.3 0.3 2.6 0.3 3.9 0.3c1.4 0 2.7-0.1 4-0.2c1.4-0.2 2.7-0.3 4-0.5c1.3-0.1 2.7-0.3 4-0.5c1.3-0.2 2.6-0.4 3.9-0.6c1.3-0.2 2.7-0.5 4-0.6c1.3-0.2 2.6-0.4 3.9-0.6c1.4-0.1 2.7-0.3 4-0.5c1.3-0.1 2.7-0.3 4-0.5c1.3-0.2 2.6-0.4 3.9-0.6c1.4-0.2 2.7-0.4 4-0.5c1.3-0.2 2.6-0.4 4-0.5c1.3-0.1 2.6-0.3 4-0.4c1.3-0.1 2.6-0.2 3.9-0.3c1.4 0 2.7-0.1 4-0.2c1.4 0 2.7-0.1 4-0.1c1.4 0 2.7-0.1 4-0.1c1.4-0.1 2.7-0.1 4-0.1c1.4 0 2.7-0.1 4-0.1c1.4 0 2.7-0.1 4-0.1c1.4 0 2.7-0.1 4-0.1c1.4 0 2.7-0.1 4-0.1c1.4-0.1 2.7-0.1 4-0.2c1.4 0 2.7-0.1 4-0.2c1.3 0 2.7-0.1 4-0.3c1.3-0.2 2.6-0.4 3.9-0.7c1.4-0.2 2.7-0.4 4-0.6c1.3-0.1 2.7-0.2 4-0.2c1.3 0 2.7 0 4 0.1c1.3 0 2.7 0.1 4 0.2c1.3 0.1 2.6 0.2 4 0.3c1.3 0.1 2.6 0.2 4 0.4c1.3 0.1 2.6 0.2 3.9 0.4c1.4 0.1 2.7 0.3 4 0.5c1.3 0.1 2.7 0.3 4 0.4c1.3 0.2 2.6 0.3 4 0.5c1.3 0.1 2.6 0.3 3.9 0.4c1.4 0.2 2.7 0.3 4 0.4c1.3 0.1 2.7 0.2 4 0.3c1.3 0.2 2.7 0.3 4 0.4c1.3 0.1 2.6 0.2 4 0.3c1.3 0.1 2.6 0.3 4 0.4c1.3 0.1 2.6 0.2 3.9 0.3c1.4 0.1 2.7 0.2 4 0.3c1.4 0.1 2.7 0.2 4 0.3c1.3 0.1 2.7 0.1 4 0.2c1.3 0.1 2.7 0.2 4 0.3c1.3 0.1 2.7 0.2 4 0.3c1.3 0 2.7 0.1 4 0.2c1.3 0.1 2.6 0.2 4 0.3c1.3 0.1 2.6 0.1 4 0.2c1.3 0.1 2.6 0.2 4 0.2c1.3 0.1 2.6 0.2 4 0.2c1.3 0.1 2.6 0.1 4 0.1c1.3 0.1 2.6 0.1 4 0.1c1.3 0 2.6 0 4 0c1.3 0 2.6 0 4 0c1.3 0 2.6-0.1 4-0.1c1.3 0 2.6-0.1 4-0.1c1.3-0.1 2.6-0.1 3.9-0.2c1.4 0 2.7-0.1 4-0.2c1.4 0 2.7-0.1 4-0.2c1.4 0 2.7-0.1 4-0.2c1.4-0.1 2.7-0.1 4-0.2c1.4-0.1 2.7-0.2 4-0.3c1.4 0 2.7-0.1 4-0.2c1.3-0.1 2.7-0.1 4-0.2c1.3-0.1 2.7-0.2 4-0.2c1.3-0.1 2.7-0.2 4-0.2c1.3-0.1 2.7-0.1 4-0.2c1.3 0 2.7-0.1 4-0.1c1.3 0 2.7-0.1 4-0.1c1.3 0 2.7-0.1 4 0c1.3 0.1 2.6 0.6 3.9 0.8c1.3 0.1 2.6 0.2 3.9 0.3c1.4 0 2.8-0.1 4.1-0.1c1.3 0 2.6 0 3.9 0"/>
<path class="c" stroke="#000000" stroke-width="10.5" d="M246.6 1459.7c1.2 0 2.4 0 3.7 0c1.3 0 2.8-0.2 4.1-0.1c1.3 0.1 2.7-0.1 3.7 0.5c1 0.6 1.4 2 2.1 3.1c0.7 1.1 1.3 2.3 2.1 3.4c0.8 1.1 1.7 2.2 2.7 3c1 0.8 2.3 1.6 3.5 1.8c1.2 0.1 2.6-0.3 3.7-1c1.1-0.6 2-1.8 2.8-2.8c0.9-1 1.6-2.2 2.4-3.2c0.8-1.1 1.5-2.2 2.3-3.3c0.7-1.2 1.4-2.3 2.1-3.4c0.6-1.2 1.1-2.4 1.6-3.7c0.6-1.2 1.1-2.4 1.6-3.7c0.5-1.2 1-2.5 1.6-3.6c0.6-1.2 1.2-2.4 2.1-3.4c0.9-1 1.9-1.9 3-2.6c1.1-0.7 2.3-1.4 3.6-1.7c1.2-0.4 2.6-0.4 3.9-0.5c1.4-0.2 2.8 0 4.1-0.2c1.3-0.2 2.6-0.4 3.7-1c1.1-0.7 2-1.8 2.8-2.8c0.9-1 1.6-2.2 2.4-3.3c0.9-1 1.7-2 2.6-3.1c0.8-1 1.5-2.1 2.3-3.2c0.8-1.1 1.5-2.4 2.5-3.2c0.9-0.9 2.1-2 3.2-2c1 0.1 2.1 1.2 2.9 2.1c0.8 1 1.3 2.4 1.9 3.6c0.6 1.2 1.2 2.4 1.7 3.6c0.6 1.2 1.2 2.4 1.8 3.6c0.5 1.3 1.1 2.5 1.6 3.7c0.5 1.3 0.9 2.5 1.4 3.8c0.5 1.2 0.9 2.5 1.4 3.7c0.5 1.2 1 2.5 1.6 3.7c0.6 1.1 1.3 2.3 2 3.4c0.7 1.2 1.4 2.3 2.2 3.4c0.8 1.1 1.6 2.1 2.5 3.1c0.9 1 1.9 1.9 2.9 2.7c1 0.9 2.1 1.6 3.3 2.3c1.1 0.8 2.2 1.4 3.3 2.2c1.1 0.7 2.2 1.5 3.3 2.3c1.1 0.8 2.1 1.7 3.2 2.4c1.2 0.7 2.5 1.5 3.7 1.5c1.2 0.1 2.4-0.6 3.5-1.3c1.1-0.7 1.9-1.9 2.8-2.9c0.9-0.9 1.8-2.1 2.8-2.8c1.1-0.7 2.4-1 3.7-1.1c1.3-0.1 2.7 0.3 4 0.6c1.3 0.3 2.5 0.7 3.8 1c1.3 0.3 2.6 0.6 4 0.8c1.3 0.2 2.6 0.2 3.9 0.3c1.4 0.1 2.7 0.1 4 0.1c1.4 0.1 2.8 0 4 0.3c1.3 0.3 2.5 0.9 3.7 1.5c1.1 0.7 2 1.8 3.2 2.5c1.1 0.6 2.4 1.5 3.5 1.6c1.2 0 2.4-0.8 3.4-1.6c1-0.7 1.8-2.1 2.7-3c0.9-1 1.8-2 2.9-2.7c1.1-0.7 2.4-1.3 3.6-1.7c1.3-0.5 2.6-0.9 3.9-1c1.3-0.2 2.7-0.1 4 0.1c1.3 0.2 2.5 0.7 3.8 1.1c1.3 0.4 2.5 1 3.8 1.4c1.2 0.5 2.5 0.9 3.7 1.3c1.3 0.4 2.6 0.9 3.8 1.3c1.3 0.4 2.5 1 3.8 1.3c1.3 0.4 2.8 0.9 3.9 0.7c1.2-0.2 2.3-1 3.1-1.9c0.8-0.9 1.2-2.4 1.8-3.6c0.6-1.2 1-2.5 1.6-3.7c0.6-1.2 1.3-2.3 1.8-3.5c0.6-1.2 1.2-2.4 1.8-3.6c0.5-1.2 1-2.5 1.6-3.7c0.6-1.2 1-2.5 1.7-3.6c0.7-1.2 1.5-2.7 2.4-3.2c1-0.4 2.4 0 3.3 0.6c0.9 0.7 1.6 2.2 2.3 3.4c0.8 1.1 1.3 2.3 1.9 3.5c0.7 1.2 1.2 2.4 2 3.5c0.7 1.2 1.5 2.7 2.4 3.3c0.9 0.5 2.3 0.5 3.2 0c0.8-0.6 1.4-2.3 2-3.5c0.6-1.2 1-2.5 1.5-3.7c0.5-1.3 1-2.5 1.6-3.7c0.5-1.2 1.1-2.4 1.7-3.6c0.6-1.2 1.1-2.4 1.7-3.7c0.5-1.2 1-2.4 1.6-3.6c0.5-1.2 1-2.7 1.8-3.7c0.8-0.9 1.9-2 3-1.9c1 0 2.2 1.2 3.1 2.1c0.9 0.9 1.5 2.2 2.3 3.3c0.7 1.2 1.3 2.3 2.1 3.4c0.7 1.1 1.5 2.2 2.3 3.3c0.7 1.1 1.4 2.3 2.1 3.4c0.7 1.1 1.3 2.4 2.1 3.4c0.8 1.1 1.5 2.3 2.6 3c1 0.7 2.4 1.1 3.7 1.4c1.2 0.3 2.6 0.4 3.9 0.5c1.4 0.1 2.7 0.1 4 0.1c1.4-0.1 2.7-0.1 4-0.2c1.4-0.1 2.7-0.1 4-0.3c1.4-0.1 2.8-0.1 4-0.4c1.3-0.2 2.7-0.5 3.6-1.2c1-0.8 1.6-2.1 2.3-3.3c0.7-1.1 1.2-2.4 1.8-3.6c0.6-1.2 1.2-2.3 1.8-3.5c0.6-1.2 1.3-2.4 1.8-3.6c0.6-1.2 1.1-2.4 1.7-3.6c0.5-1.2 1-2.5 1.6-3.7c0.7-1.2 1.3-2.8 2.2-3.5c0.8-0.6 2.1-0.7 2.8-0.1c0.8 0.5 1.2 2.4 1.6 3.6c0.4 1.3 0.7 2.6 1 3.9c0.4 1.3 0.7 2.6 1 3.9c0.3 1.3 0.7 2.6 1 3.9c0.3 1.3 0.7 2.6 1 3.8c0.4 1.3 0.7 2.6 1 3.9c0.3 1.3 0.5 2.6 0.8 3.9c0.3 1.4 0.6 2.7 0.9 4c0.3 1.3 0.5 2.6 0.9 3.9c0.3 1.2 0.7 2.5 1.1 3.8c0.5 1.2 1.1 2.4 1.7 3.6c0.6 1.2 1.2 2.4 1.9 3.6c0.6 1.1 1.3 2.5 2.2 3.3c1 0.8 2.3 1.7 3.3 1.6c1-0.2 2.1-1.5 2.9-2.4c0.9-1 1.4-2.4 2.1-3.5c0.7-1.2 1.3-2.4 2-3.5c0.7-1.1 1.4-2.2 2.2-3.3c0.8-1.1 1.6-2.2 2.4-3.3c0.8-1 1.5-2.1 2.3-3.2c0.8-1.1 1.5-2.2 2.2-3.3c0.7-1.2 1.4-2.3 2.1-3.5c0.6-1.1 1.3-2.3 1.8-3.5c0.6-1.2 1.1-2.4 1.6-3.7c0.5-1.2 1-2.5 1.5-3.7c0.4-1.3 0.9-2.5 1.3-3.8c0.5-1.2 0.9-2.5 1.4-3.7c0.4-1.3 0.9-2.5 1.4-3.8c0.4-1.2 0.9-2.5 1.4-3.7c0.5-1.2 1.1-2.5 1.7-3.6c0.6-1.2 1.2-2.4 1.9-3.5c0.7-1.2 1.5-2.3 2.2-3.4c0.7-1.1 1.5-2.2 2.2-3.4c0.7-1.1 1.3-2.3 1.9-3.5c0.6-1.1 1.1-2.4 1.6-3.6c0.5-1.2 1-2.5 1.4-3.8c0.5-1.2 1-2.5 1.5-3.7c0.4-1.2 1-2.5 1.5-3.7c0.5-1.2 1-2.4 1.5-3.7c0.5-1.2 0.9-2.6 1.5-3.8c0.6-1.1 1.4-2.8 2.2-3c0.8-0.3 1.9 0.7 2.5 1.7c0.6 0.9 0.9 2.6 1.3 3.9c0.4 1.3 0.7 2.5 1 3.8c0.3 1.3 0.6 2.6 0.9 3.9c0.3 1.3 0.6 2.6 0.9 4c0.2 1.3 0.5 2.6 0.7 3.9c0.3 1.3 0.4 2.6 0.6 3.9c0.2 1.4 0.3 2.7 0.5 4c0.1 1.3 0.3 2.7 0.4 4c0.2 1.3 0.3 2.6 0.4 4c0.2 1.3 0.3 2.6 0.5 3.9c0.1 1.4 0.3 2.7 0.4 4c0.2 1.3 0.3 2.7 0.5 4c0.2 1.3 0.4 2.6 0.6 3.9c0.2 1.3 0.5 2.7 0.7 4c0.3 1.3 0.5 2.6 0.8 3.9c0.3 1.3 0.5 2.6 0.9 3.9c0.3 1.3 0.5 2.7 1.2 3.8c0.6 1.1 1.6 2.1 2.7 2.8c1.1 0.7 2.5 1 3.7 1.6c1.2 0.5 2.5 0.9 3.6 1.6c1.1 0.7 2.1 1.7 3 2.6c0.9 1 1.6 2.1 2.4 3.2c0.8 1.1 1.6 2.2 2.5 3.2c0.8 1 1.8 2.3 2.9 2.8c1 0.4 2.5 0.4 3.4-0.1c1-0.6 1.6-2.1 2.3-3.3c0.6-1.2 1.1-2.5 1.6-3.7c0.5-1.2 1-2.4 1.6-3.7c0.5-1.2 1.2-2.3 1.7-3.6c0.6-1.2 1.1-2.4 1.7-3.6c0.5-1.2 0.9-2.5 1.4-3.7c0.5-1.3 0.9-2.5 1.4-3.8c0.5-1.2 0.9-2.5 1.5-3.7c0.6-1.2 1.1-2.8 1.9-3.6c0.8-0.8 2.1-1.5 2.9-1.2c0.9 0.3 1.6 2 2.2 3.2c0.6 1.1 1 2.5 1.5 3.7c0.5 1.3 0.9 2.6 1.4 3.8c0.6 1.2 1.1 2.4 1.8 3.5c0.7 1.2 1.4 2.3 2.3 3.4c0.9 1 1.7 2 2.8 2.7c1.1 0.6 2.5 0.8 3.8 1.1c1.3 0.3 2.7 0.5 4 0.6c1.3 0.1 2.7 0.2 4 0.2c1.3 0 2.7-0.1 4-0.2c1.3-0.1 2.7-0.4 4-0.4c1.3 0 2.7-0.2 3.9 0.1c1.2 0.4 2.3 1.2 3.3 2.1c1.1 0.8 1.9 2 2.8 2.9c1 1 1.9 2.2 3 2.8c1 0.5 2.5 1 3.5 0.6c1.1-0.3 2-1.7 2.8-2.7c0.8-1.1 1.3-2.4 2-3.5c0.8-1.1 1.5-2.2 2.3-3.3c0.8-1.1 1.7-2 2.6-3.1c0.8-1 1.6-2.2 2.6-3c0.9-0.9 2.1-2.1 3.2-2.3c1.1-0.1 2.3 0.6 3.2 1.4c0.9 0.9 1.4 2.4 2 3.5c0.7 1.2 1.2 2.5 1.8 3.6c0.6 1.2 1.2 2.4 2 3.5c0.7 1.1 1.7 2.1 2.6 3c1 0.9 2 1.9 3 2.6c1.1 0.8 2.3 1.4 3.5 1.9c1.3 0.4 2.6 0.6 3.9 0.9c1.3 0.2 2.7 0.4 4 0.5c1.3 0.2 2.7 0.3 4 0.2c1.3-0.1 2.6-0.3 4-0.5c1.3-0.3 2.5-0.7 3.8-1.1c1.3-0.4 2.5-0.8 3.8-1.3c1.3-0.4 2.5-0.9 3.8-1.3c1.2-0.5 2.4-1.3 3.7-1.5c1.2-0.3 2.6-0.3 3.9-0.2c1.3 0.2 2.6 0.6 3.9 1c1.2 0.4 2.5 0.9 3.8 1.3c1.2 0.4 2.5 0.7 3.8 0.9c1.4 0.3 2.7 0.3 4 0.5c1.3 0.1 2.7 0.1 4 0.3c1.3 0.1 2.7 0.2 4 0.6c1.2 0.3 2.4 1 3.6 1.6c1.1 0.6 2.2 1.5 3.4 2.2c1.1 0.6 2.4 1.4 3.6 1.5c1.3 0.2 2.7-0.1 3.8-0.5c1.2-0.5 2.3-1.5 3.3-2.3c1.1-0.8 2.1-1.8 3.1-2.6c1-0.9 2.1-1.7 3.1-2.5c1-0.9 1.9-1.9 2.9-2.7c1-0.9 2-1.9 3-2.7c1.1-0.8 2.2-1.6 3.3-2.3c1.1-0.7 2.3-1.3 3.5-2c1.1-0.6 2.3-1.2 3.5-1.8c1.2-0.7 2.4-1.3 3.6-1.9c1.2-0.6 2.4-1.1 3.6-1.7c1.2-0.5 2.4-1 3.6-1.6c1.2-0.6 2.4-1.2 3.5-2c1.1-0.7 2.2-1.5 3.2-2.4c1-0.8 2-1.8 2.9-2.7c0.9-1 1.8-2 2.5-3.1c0.8-1.1 1.4-2.3 2-3.5c0.6-1.2 1-2.5 1.5-3.7c0.5-1.3 0.9-2.5 1.5-3.7c0.5-1.3 1-2.5 1.6-3.7c0.7-1.1 1.4-2.2 2.1-3.4c0.8-1.1 1.5-2.2 2.3-3.3c0.9-1 1.8-2.4 2.9-2.8c1-0.4 2.4-0.3 3.3 0.3c0.9 0.7 1.5 2.3 2.1 3.5c0.7 1.1 1.1 2.4 1.7 3.6c0.5 1.3 1.1 2.5 1.6 3.7c0.6 1.2 1.1 2.4 1.6 3.6c0.6 1.3 1 2.5 1.5 3.7c0.5 1.3 1 2.5 1.4 3.8c0.5 1.2 1 2.5 1.4 3.7c0.5 1.3 0.9 2.6 1.3 3.8c0.4 1.3 0.7 2.6 1.1 3.9c0.5 1.2 0.8 2.5 1.3 3.8c0.6 1.2 1.2 2.3 2 3.4c0.7 1.1 1.7 2.1 2.7 3c0.9 0.9 1.9 1.9 3.1 2.5c1.1 0.6 2.5 1.1 3.7 1c1.3 0 2.6-0.7 3.7-1.3c1.2-0.6 2.2-1.5 3.3-2.3c1.2-0.7 2.3-1.8 3.5-2.1c1.2-0.3 2.6-0.4 3.6 0.1c1.1 0.5 1.8 1.9 2.6 3c0.8 1 1.4 2.3 2.2 3.3c0.9 1.1 1.8 2 2.8 2.9c1 0.9 2 1.8 3.1 2.5c1.1 0.7 2.3 1.6 3.5 1.9c1.2 0.4 2.6 0.4 3.9 0.2c1.3-0.2 2.5-0.8 3.8-1.3c1.2-0.5 2.4-1.1 3.6-1.7c1.2-0.5 2.5-1 3.7-1.6c1.2-0.5 2.4-1.1 3.6-1.7c1.2-0.5 2.4-1.1 3.7-1.6c1.2-0.6 2.4-1.1 3.6-1.7c1.2-0.5 2.4-1.2 3.7-1.6c1.2-0.4 2.6-1 3.8-1c1.3 0.1 2.5 0.6 3.7 1.2c1.2 0.6 2.2 1.8 3.4 2.3c1.1 0.4 2.5 0.5 3.7 0.3c1.3-0.2 2.5-1.1 3.7-1.7c1.2-0.5 2.4-1.4 3.6-1.7c1.2-0.3 2.6-0.4 3.9 0c1.2 0.3 2.3 1.2 3.4 1.9c1.2 0.7 2.2 1.5 3.3 2.3c1.1 0.8 2.1 1.6 3.2 2.5c1 0.8 2 1.7 3.1 2.5c1.1 0.8 2.2 1.5 3.3 2.2c1.1 0.8 2.2 1.6 3.3 2.2c1.2 0.7 2.5 1.4 3.7 1.6c1.2 0.2 2.6-0.1 3.8-0.6c1.2-0.5 2.2-1.5 3.2-2.4c1-0.8 1.9-1.8 3-2.7c1-0.8 2.1-1.5 3.2-2.2c1.2-0.7 2.4-1.4 3.5-2c1.2-0.6 2.4-1.3 3.6-1.8c1.2-0.5 2.5-1 3.8-1.1c1.3 0 2.7 0.3 3.9 0.7c1.2 0.5 2.3 1.4 3.4 2.2c1 0.8 2 1.7 3 2.5c1.1 0.9 2.1 1.8 3.2 2.6c1.1 0.7 2.3 1.6 3.5 1.9c1.2 0.2 2.6 0.2 3.7-0.3c1.2-0.5 2.1-1.7 3-2.7c0.9-0.9 1.7-2.1 2.6-3.1c0.8-1 1.7-2 2.7-2.9c0.9-0.9 1.9-1.8 2.9-2.7c1-0.9 2-1.8 3.1-2.6c1.1-0.8 2.2-1.6 3.3-2.2c1.2-0.7 2.4-1.5 3.6-1.6c1.3-0.2 2.6 0.3 3.8 0.8c1.2 0.5 2.2 1.6 3.3 2.2c1.2 0.7 2.3 1.5 3.6 1.8c1.2 0.3 2.6 0.2 3.9 0.2c1.4 0 2.7-0.1 4-0.2c1.4-0.1 2.7-0.1 4-0.4c1.3-0.3 2.6-0.7 3.8-1.2c1.2-0.6 2.3-1.5 3.3-2.3c1.1-0.8 2.1-1.6 3-2.6c0.9-1 1.6-2.1 2.4-3.2c0.8-1.1 1.5-2.2 2.2-3.3c0.8-1.1 1.6-2.2 2.4-3.3c0.7-1.1 1.5-2.1 2.3-3.2c0.8-1.1 1.6-2.2 2.5-3.1c0.9-1 1.9-1.9 3-2.7c1.1-0.7 2.3-1.6 3.5-1.9c1.2-0.4 2.7-0.6 3.8-0.1c1.1 0.4 1.9 1.7 2.8 2.7c0.8 1.1 1.4 2.3 2.1 3.4c0.7 1.2 1.5 2.3 2.2 3.4c0.7 1.1 1.4 2.2 2.1 3.4c0.7 1.1 1.3 2.3 1.9 3.5c0.7 1.1 1.3 2.3 2 3.5c0.7 1.1 1.4 2.2 2.2 3.3c0.8 1.1 1.7 2.1 2.5 3.1c0.9 1 1.9 1.9 2.8 2.9c1 0.9 2 1.8 3 2.7c1 0.8 2 1.7 3 2.5c1.1 0.9 2.1 1.8 3.1 2.6c1.1 0.8 2.2 1.5 3.3 2.2c1.2 0.7 2.4 1.2 3.6 1.7c1.3 0.6 2.5 1.1 3.8 1.5c1.3 0.3 2.6 0.7 3.9 0.7c1.3 0 2.6-0.2 3.9-0.6c1.3-0.3 2.5-1 3.7-1.5c1.2-0.6 2.4-1.2 3.5-2c1.1-0.7 2-1.7 3-2.6c1.1-0.8 2-1.8 3.1-2.5c1.2-0.6 2.5-1 3.8-1.3c1.2-0.3 2.6-0.5 3.9-0.7c1.3-0.2 2.6-0.4 4-0.5c1.3-0.1 2.6-0.3 4-0.3c1.3-0.1 2.6-0.2 4-0.3c1.3-0.1 2.7 0 3.9-0.4c1.3-0.3 2.5-0.9 3.6-1.6c1.2-0.6 2.1-1.6 3.2-2.4c1.1-0.7 2.2-1.7 3.4-2.1c1.2-0.4 2.6-0.6 3.9-0.3c1.2 0.3 2.3 1.2 3.4 1.9c1.1 0.8 2.1 1.8 3.1 2.7c1 0.9 1.9 1.8 2.9 2.6c1.1 0.9 2.2 1.8 3.4 2.2c1.2 0.4 2.6 0.5 3.8 0.2c1.2-0.4 2.3-1.4 3.3-2.2c1-0.9 1.9-2 2.8-2.9c0.9-1 1.9-1.9 2.8-2.9c0.9-1 1.7-2 2.6-3.1c0.8-1 1.5-2.1 2.4-3.1c0.9-1 1.8-2 2.8-2.9c1-0.9 2.1-1.6 3.2-2.4c1.1-0.7 2.2-1.4 3.4-2.1c1.1-0.6 2.3-1.2 3.5-1.9c1.1-0.7 2.3-1.3 3.4-2c1.2-0.7 2.3-1.6 3.4-2.2c1.2-0.6 2.5-1.4 3.7-1.5c1.3-0.1 2.6 0.2 3.7 0.8c1.1 0.6 1.9 1.8 2.8 2.9c0.9 1 1.6 2.1 2.4 3.1c0.9 1.1 1.8 2.1 2.6 3.1c0.9 1 1.7 2.1 2.5 3.1c0.8 1.1 1.6 2.2 2.3 3.3c0.8 1.1 1.5 2.2 2.2 3.3c0.7 1.2 1.3 2.3 1.9 3.5c0.7 1.2 1.2 2.4 1.8 3.6c0.6 1.2 1.2 2.4 2 3.5c0.7 1.1 1.6 2.1 2.4 3.2c0.9 1 1.7 2.1 2.7 3c1 0.8 2.1 1.9 3.3 2.1c1.1 0.2 2.5-0.4 3.6-0.9c1.2-0.5 2.3-1.5 3.4-2.3c1-0.8 2.1-1.6 3.1-2.5c1.1-0.8 2.1-1.7 3.1-2.5c1.1-0.8 2.2-1.5 3.3-2.3c1.1-0.7 2.2-1.5 3.3-2.2c1.2-0.7 2.3-1.4 3.4-2.1c1.2-0.7 2.3-1.3 3.5-2c1.1-0.7 2.3-1.4 3.4-2.1c1.2-0.7 2.3-1.4 3.4-2.1c1.2-0.6 2.4-1.3 3.6-1.7c1.3-0.5 2.6-0.7 3.9-0.9c1.3-0.2 2.6-0.2 4-0.3c1.3-0.1 2.7-0.1 4-0.2c1.3-0.2 2.7-0.3 3.9-0.7c1.2-0.5 2.3-1.3 3.5-1.9c1.2-0.7 2.3-1.7 3.5-2.1c1.2-0.4 2.6-0.7 3.7-0.3c1.1 0.4 2.1 1.6 2.9 2.6c0.9 1 1.5 2.2 2.3 3.4c0.7 1.1 1.3 2.3 2.1 3.3c0.8 1.1 1.7 2.1 2.6 3c1 0.9 2.1 1.7 3.2 2.4c1.1 0.8 2.3 1.5 3.4 2.2c1.2 0.6 2.3 1.3 3.5 1.9c1.2 0.6 2.4 1.2 3.6 1.8c1.1 0.7 2.3 1.3 3.5 2c1.1 0.7 2.2 1.4 3.4 2.1c1.1 0.7 2.3 1.4 3.5 1.9c1.2 0.6 2.4 1.2 3.7 1.5c1.3 0.3 2.6 0.4 3.9 0.4c1.4 0 2.7-0.2 4-0.4c1.3-0.2 2.7-0.5 3.9-0.9c1.3-0.4 2.7-0.7 3.7-1.5c1.1-0.7 1.9-1.8 2.6-2.9c0.7-1.1 1.1-2.4 1.7-3.7c0.5-1.2 1-2.4 1.5-3.7c0.5-1.2 1-2.4 1.6-3.6c0.5-1.2 1.1-2.4 1.7-3.6c0.6-1.2 1.2-2.4 1.8-3.6c0.5-1.2 1.1-2.5 1.7-3.6c0.6-1.2 1.1-2.5 1.8-3.6c0.7-1.1 1.6-2.2 2.5-3.1c0.9-1 1.9-1.9 3-2.6c1.1-0.7 2.3-1.5 3.6-1.8c1.2-0.3 2.6-0.2 3.9 0.1c1.2 0.2 2.5 0.9 3.7 1.5c1.2 0.6 2.3 1.3 3.5 1.8c1.3 0.5 2.5 1 3.8 1.3c1.3 0.3 2.6 0.4 4 0.6c1.3 0.2 2.6 0.3 3.9 0.6c1.3 0.3 2.6 0.6 3.8 1.2c1.2 0.6 2.3 1.4 3.3 2.3c1 0.8 1.9 1.8 2.9 2.7c0.9 1 1.9 1.9 2.8 2.8c1 1 2 1.9 2.9 2.8c1 0.9 1.9 1.9 2.9 2.8c0.9 1 1.8 1.9 2.7 2.9c0.9 1 1.8 2 2.6 3c0.8 1.1 1.6 2.2 2.4 3.3c0.8 1.1 1.5 2.2 2.4 3.2c0.8 1 1.7 2 2.8 2.8c1.1 0.7 2.4 1.1 3.7 1.5c1.2 0.4 2.6 0.6 3.9 0.9c1.3 0.3 2.6 0.5 3.9 0.7c1.3 0.2 2.7 0.4 4 0.5c1.3 0.1 2.6 0.1 4 0.1c1.3 0 2.6-0.1 4-0.2c1.3-0.1 2.6-0.4 3.9-0.6c1.3-0.2 2.6-0.5 3.9-0.8c1.3-0.2 2.7-0.5 4-0.8c1.3-0.3 2.6-0.5 3.9-0.8c1.3-0.2 2.6-0.5 3.9-0.9c1.3-0.3 2.6-0.6 3.8-1.2c1.2-0.6 2.4-1.2 3.3-2.1c0.9-0.9 1.6-2.2 2.2-3.3c0.7-1.2 1.3-2.4 1.9-3.6c0.6-1.2 1.2-2.4 1.9-3.5c0.6-1.2 1.3-2.3 2-3.5c0.7-1.1 1.3-2.3 2-3.4c0.7-1.2 1.3-2.4 2-3.5c0.8-1.1 1.6-2.2 2.5-3.1c0.9-0.9 2-1.7 3.1-2.5c1.2-0.7 2.3-1.4 3.6-1.8c1.2-0.4 2.6-0.5 3.9-0.4c1.3 0.1 2.6 0.5 3.9 0.9c1.2 0.5 2.4 1.1 3.6 1.7c1.2 0.5 2.4 1.2 3.6 1.9c1.1 0.6 2.3 1.3 3.3 2.2c1 0.8 1.9 1.8 2.8 2.8c0.9 1 1.7 2.1 2.6 3c0.9 1 1.8 2 2.8 2.9c0.9 1 2 1.8 3 2.7c1 0.9 1.9 1.8 2.9 2.7c1 0.9 2 1.8 3 2.6c1.1 0.8 2.1 1.7 3.3 2.4c1.1 0.7 2.3 1.4 3.6 1.6c1.3 0.3 2.7 0.3 3.9-0.1c1.2-0.3 2.4-1.1 3.5-1.8c1.1-0.7 2.1-1.7 3.2-2.5c1.1-0.8 2.1-1.7 3.1-2.4c1.1-0.8 2.3-1.5 3.5-2.1c1.1-0.7 2.3-1.2 3.5-1.8c1.2-0.6 2.5-1.1 3.6-1.7c1.2-0.6 2.4-1.2 3.6-1.9c1.1-0.7 2.2-1.5 3.3-2.3c1.1-0.8 2.1-1.7 3.3-2.3c1.2-0.5 2.5-1 3.7-1c1.3 0 2.7 0.4 3.9 0.9c1.2 0.5 2.4 1.2 3.5 1.9c1.2 0.6 2.4 1.3 3.5 1.9c1.2 0.6 2.4 1.2 3.6 1.9c1.1 0.6 2.3 1.3 3.4 2c1.2 0.7 2.3 1.4 3.5 2c1.2 0.6 2.4 1.2 3.6 1.7c1.2 0.5 2.5 0.9 3.8 1.3c1.2 0.4 2.5 0.8 3.8 1.2c1.3 0.4 2.6 0.7 3.8 1.1c1.3 0.4 2.6 0.8 3.8 1.3c1.3 0.5 2.5 1.1 3.7 1.7c1.2 0.5 2.4 1.2 3.6 1.7c1.2 0.5 2.5 1 3.8 1.3c1.2 0.4 2.6 0.6 3.9 0.8c1.3 0.2 2.6 0.4 3.9 0.5c1.4 0.2 2.7 0.4 4 0.3c1.3-0.1 2.6-0.4 3.9-0.9c1.2-0.4 2.2-1.4 3.4-2c1.2-0.6 2.4-1.3 3.6-1.6c1.3-0.2 2.7-0.1 4 0.1c1.3 0.2 2.6 0.7 3.9 1.1c1.2 0.4 2.5 0.9 3.7 1.4c1.3 0.5 2.5 0.9 3.8 1.4c1.2 0.5 2.4 1.1 3.6 1.7c1.2 0.6 2.3 1.3 3.5 1.9c1.2 0.6 2.4 1.2 3.7 1.5c1.3 0.3 2.6 0.4 3.9 0.4c1.4 0 2.7-0.2 4-0.4c1.3-0.2 2.6-0.5 3.9-0.8c1.3-0.2 2.6-0.6 3.9-0.9c1.3-0.3 2.6-0.7 3.9-1c1.3-0.3 2.6-0.6 3.9-1c1.3-0.3 2.6-0.6 3.8-1c1.3-0.4 2.6-0.8 3.9-1.2c1.2-0.4 2.5-0.8 3.8-1.2c1.2-0.4 2.5-0.9 3.7-1.3c1.3-0.5 2.5-1 3.7-1.6c1.3-0.5 2.5-1.1 3.7-1.6c1.2-0.5 2.4-1 3.7-1.5c1.3-0.4 2.6-0.7 3.9-1.1c1.2-0.3 2.5-0.6 3.8-0.9c1.3-0.3 2.6-0.6 4-0.8c1.3-0.2 2.6-0.3 3.9-0.3c1.4 0 2.7 0.1 4 0.2c1.4 0.1 2.7 0.3 4 0.5c1.3 0.2 2.6 0.5 3.9 0.8c1.3 0.2 2.7 0.5 3.9 0.8c1.3 0.4 2.6 0.8 3.8 1.4c1.2 0.5 2.3 1.3 3.4 2c1.2 0.7 2.3 1.5 3.4 2.1c1.2 0.6 2.4 1.2 3.7 1.6c1.3 0.3 2.6 0.5 3.9 0.6c1.4 0.2 2.7 0.3 4 0.5c1.3 0.1 2.7 0.2 4 0.3c1.3 0.1 2.7 0.2 4 0.3c1.3 0.1 2.6 0.2 4 0.4c1.3 0.1 2.6 0.3 3.9 0.5c1.4 0.2 2.7 0.4 4 0.7c1.3 0.2 2.6 0.4 3.9 0.6c1.3 0.3 2.7 0.5 4 0.6c1.3 0.2 2.6 0.3 4 0.4c1.3 0.1 2.6 0.1 4 0.1c1.3 0 2.6-0.2 3.9-0.3c1.4-0.2 2.7-0.4 4-0.6c1.3-0.2 2.6-0.5 3.9-0.7c1.3-0.3 2.7-0.5 4-0.8c1.3-0.2 2.6-0.4 3.9-0.6c1.3-0.2 2.7-0.3 4-0.5c1.3-0.1 2.6-0.1 4-0.2c1.3-0.1 2.6-0.2 4-0.2c1.3-0.1 2.6-0.2 4-0.2c1.3-0.1 2.6-0.1 4-0.2c1.3 0 2.6-0.1 4-0.1c1.3-0.1 2.6-0.2 4-0.2c1.3-0.1 2.6-0.2 3.9-0.3c1.4-0.1 2.7-0.2 4-0.3c1.4-0.1 2.7-0.3 4-0.4c1.3-0.2 2.7-0.4 4-0.5c1.3-0.2 2.6-0.4 3.9-0.5c1.4-0.2 2.7-0.3 4-0.4c1.4-0.2 2.7-0.3 4-0.4c1.3 0 2.7-0.1 4 0c1.3 0.1 2.6 0.4 3.9 0.8c1.3 0.4 2.5 1 3.7 1.5c1.2 0.5 2.5 1.1 3.7 1.4c1.3 0.3 2.7 0.4 4 0.4c1.3 0 2.7-0.2 4-0.4c1.3-0.1 2.6-0.4 3.9-0.6c1.4-0.2 2.7-0.5 4-0.7c1.3-0.2 2.6-0.5 3.9-0.7c1.3-0.3 2.6-0.5 4-0.7c1.3-0.2 2.6-0.3 3.9-0.4c1.4-0.1 2.7-0.1 4-0.1c1.4 0.1 2.7 0.3 4 0.5c1.3 0.2 2.6 0.4 3.9 0.7c1.3 0.3 2.6 0.6 3.9 1c1.3 0.3 2.6 0.6 3.9 0.9c1.3 0.3 2.6 0.6 3.9 0.9c1.3 0.2 2.6 0.4 4 0.5c1.3 0.2 2.6 0.2 4 0.2c1.3 0 2.6-0.1 4-0.2c1.3-0.1 2.6-0.3 3.9-0.4c1.4-0.2 2.7-0.4 4-0.5c1.3-0.2 2.7-0.4 4-0.5c1.3-0.2 2.6-0.4 3.9-0.5c1.4-0.1 2.7-0.2 4-0.3c1.4-0.1 2.7-0.1 4-0.1c1.4 0 2.7 0 4 0.1c1.4 0 2.7 0 4 0c1.4 0 2.7 0.1 4 0.1c1.4 0 2.7 0.1 4 0.1c1.4 0 2.7 0.1 4 0.1c1.4 0.1 2.7 0.1 4 0.1c1.4 0.1 2.7 0.1 4 0.2c1.4 0 2.7 0.1 4 0.1c1.4 0 2.7 0.1 4 0.1c1.4 0.1 2.7 0.1 4 0.1c1.4 0.1 2.7 0.1 4 0.1c1.4 0 2.7 0.1 4 0.1c1.4 0 2.7 0 4 0c1.4 0 2.7 0 4 0c1.4 0 2.7-0.1 4-0.2c1.3-0.1 2.7-0.3 4-0.5c1.3-0.1 2.6-0.3 4-0.5c1.3-0.2 2.6-0.4 3.9-0.5c1.3-0.2 2.7-0.4 4-0.5c1.3-0.1 2.6-0.2 4-0.3c1.3-0.1 2.6-0.1 4-0.1c1.3 0.1 2.6 0.1 4 0.2c1.3 0 2.6 0.1 4 0.2c1.3 0.1 2.6 0.3 3.9 0.4c1.4 0.2 2.7 0.3 4 0.5c1.3 0.2 2.7 0.4 4 0.6c1.3 0.3 2.6 0.6 3.9 0.8c1.3 0.2 2.6 0.4 3.9 0.5c1.4 0.1 2.7 0 4.1 0c1.3 0 2.7 0 4.1 0"/>
</g>
<g id="guides" stroke="#000" stroke-width="7.9" stroke-dasharray="37 36.15" fill="none">
<line x1="431" y1="377.5" x2="424.6" y2="1569"/>
<line x1="558.7" y1="350" x2="552.7" y2="1560"/>
<line x1="922.3" y1="347" x2="910.3" y2="1558"/>
<line x1="1202.5" y1="391" x2="1196.6" y2="1564.5"/>
<line x1="1251" y1="422" x2="1245.4" y2="1560"/>
<line x1="1328.3" y1="535.4" x2="1324.9" y2="1564.5"/>
</g>
<g id="arrows">
<line x1="425.3" y1="372.0" x2="400.4" y2="338.7" stroke="#000" stroke-width="5"/><polygon points="378.6,309.5 412.7,334.6 393.0,349.3" fill="#000"/>
<line x1="559.5" y1="338.7" x2="569.2" y2="306.9" stroke="#000" stroke-width="5"/><polygon points="579.8,272.0 579.7,314.3 556.3,307.2" fill="#000"/>
<line x1="919.2" y1="321.8" x2="906.5" y2="260.2" stroke="#000" stroke-width="5"/><polygon points="899.2,224.4 919.3,261.6 895.3,266.5" fill="#000"/>
<line x1="1209.3" y1="384.7" x2="1185.7" y2="330.5" stroke="#000" stroke-width="5"/><polygon points="1171.2,297.0 1198.6,329.3 1176.1,339.0" fill="#000"/>
<line x1="1251.6" y1="422.0" x2="1311.5" y2="351.1" stroke="#000" stroke-width="5"/><polygon points="1335.0,323.2 1318.2,362.0 1299.5,346.2" fill="#000"/>
<line x1="1326.7" y1="509.7" x2="1407.4" y2="449.4" stroke="#000" stroke-width="5"/><polygon points="1436.7,427.6 1411.6,461.6 1396.9,442.0" fill="#000"/>
</g>
<g id="axes" fill="#000">
<rect x="144.45" y="36" width="11.5" height="1576.3"/>
<rect x="144.45" y="1570.6" width="77.6" height="11.6"/>
<rect x="258" y="1570.6" width="1967.3" height="11.6"/>
<rect x="382.8" y="1576.4" width="11.2" height="35.9"/>
<rect x="645.0" y="1576.4" width="11.2" height="35.9"/>
<rect x="906.4" y="1576.4" width="11.2" height="35.9"/>
<rect x="1167.9" y="1576.4" width="11.2" height="35.9"/>
<rect x="1429.0" y="1576.4" width="11.2" height="35.9"/>
<rect x="1691.4" y="1576.4" width="11.2" height="35.9"/>
<rect x="1952.7" y="1576.4" width="11.2" height="35.9"/>
<rect x="2213.7" y="1576.4" width="11.2" height="35.9"/>
<line x1="205" y1="1586.6" x2="238.6" y2="1565.0" stroke="#000" stroke-width="11"/>
<line x1="241.2" y1="1586.6" x2="274.8" y2="1565.0" stroke="#000" stroke-width="11"/>
</g>
<g id="ticklabels" font-size="80" text-anchor="middle">
<text x="150.2" y="1701.4">0</text>
<text x="388.4" y="1701.4">600</text>
<text x="650.6" y="1701.4">800</text>
<text x="912.0" y="1701.4">1000</text>
<text x="1173.5" y="1701.4">1200</text>
<text x="1434.6" y="1701.4">1400</text>
<text x="1697.0" y="1701.4">1600</text>
<text x="1958.3" y="1701.4">1800</text>
<text x="2219.3" y="1701.4">2000</text>
</g>
<g id="peaklabels" font-size="66" text-anchor="middle">
<text x="356.4" y="298.4">630</text>
<text x="577.7" y="259.4">728</text>
<text x="881.6" y="219.6">1000</text>
<text x="1155" y="286.4">1218</text>
<text x="1356.6" y="321.8">1260</text>
<text x="1442.2" y="426.2">1315</text>
</g>
<g id="serieslabels" font-size="78" text-anchor="middle">
<text x="2071" y="742" textLength="445" lengthAdjust="spacing">Carbendazim</text>
<text x="2083.6" y="1093.3">Sample</text>
<text x="2076.6" y="1440.2">Blank</text>
</g>
<g id="titles" font-size="94">
<text x="801" y="1814.3">Raman Shift (cm<tspan font-size="63" x="1484" dy="-38.5">-1</tspan><tspan x="1533.5" dy="38.5">)</tspan></text>
<text transform="translate(101.5 722) rotate(-90)" text-anchor="middle">Intensity (a.u.)</text>
</g>
</svg>
</body>
</html>
